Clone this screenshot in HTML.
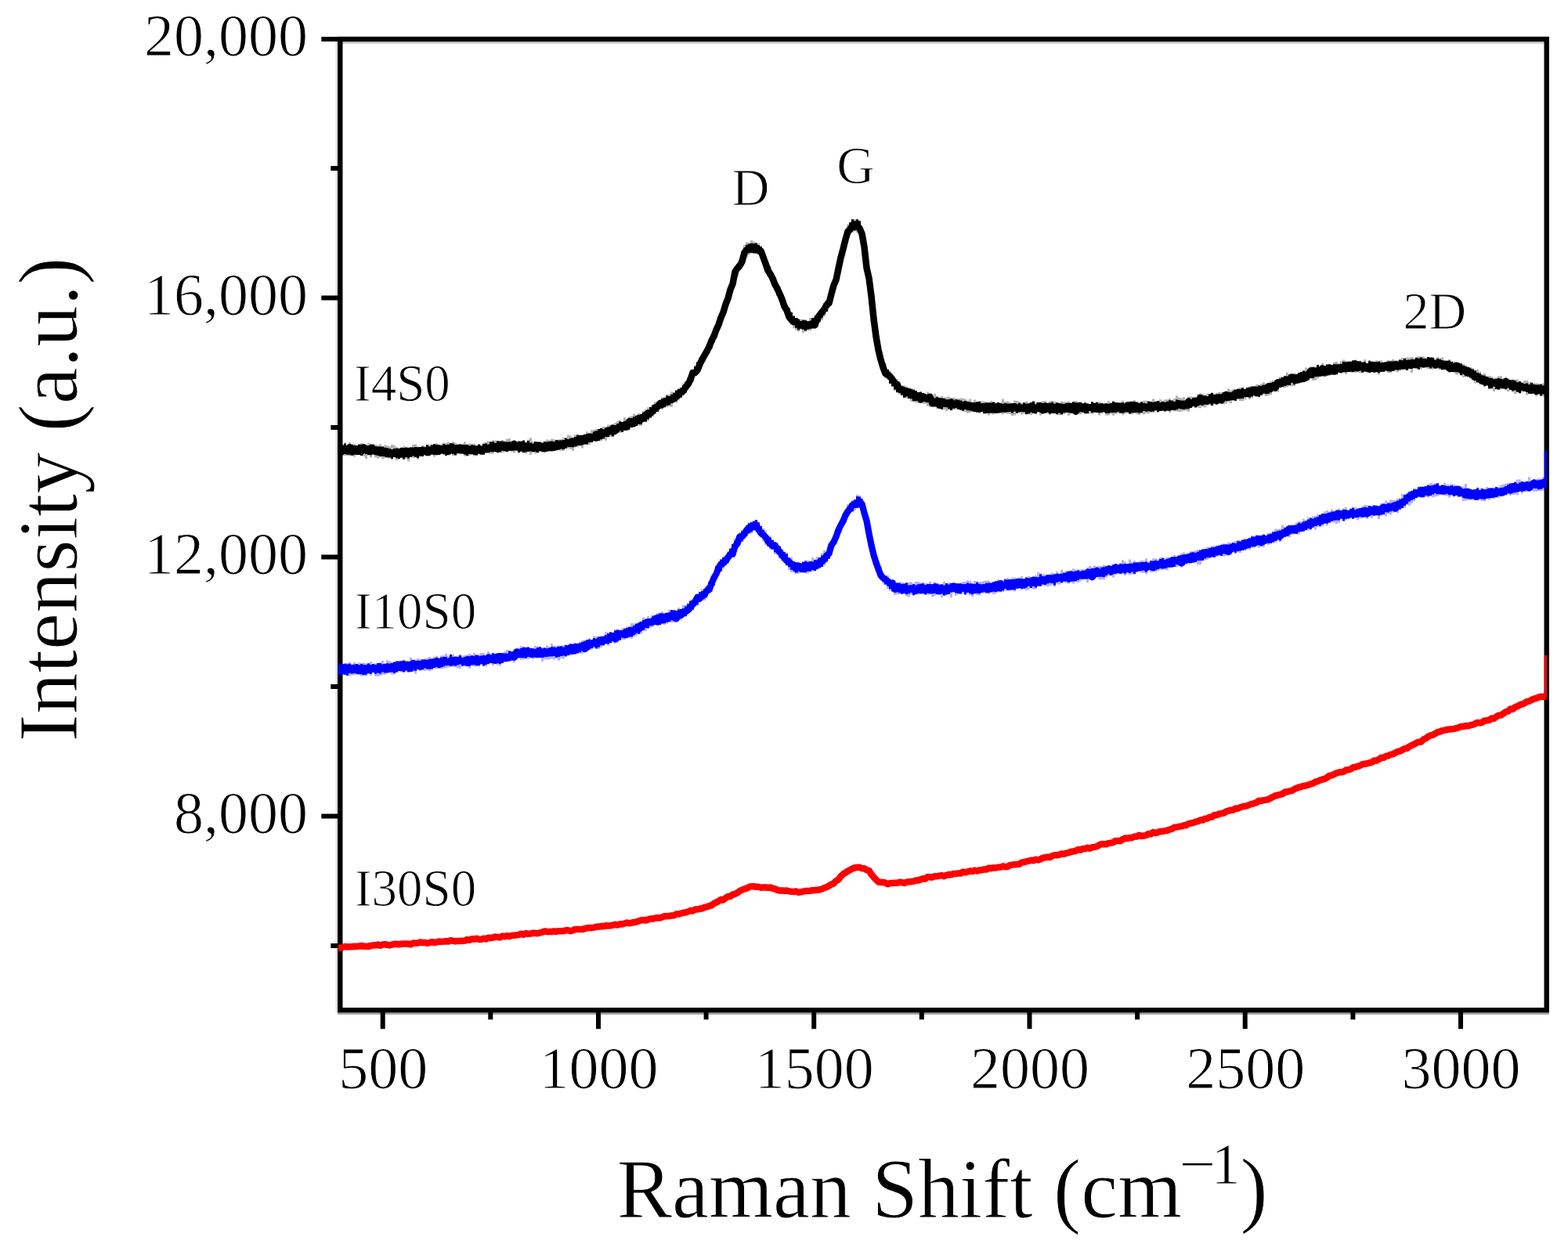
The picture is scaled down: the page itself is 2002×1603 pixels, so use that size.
<!DOCTYPE html>
<html><head><meta charset="utf-8"><title>Raman</title>
<style>
html,body{margin:0;padding:0;background:#fff;width:2002px;height:1603px;overflow:hidden;}
svg{display:block;}
text{font-family:"Liberation Serif","Times New Roman",serif;fill:#000;stroke:#fff;stroke-width:1px;}
</style></head><body>
<svg width="2002" height="1603" viewBox="0 0 2002 1603">
<rect width="2002" height="1603" fill="#fff"/>
<path d="M431.1,54.5 H1977.9" stroke="#c8c8c8" stroke-width="2.5" fill="none"/>
<path d="M429.90000000000003,46.8 V1293.5" stroke="#dcdcdc" stroke-width="2.5" fill="none"/>
<path d="M431.1,1294.8 H1977.9" stroke="#a8a8a8" stroke-width="2.5" fill="none"/>
<rect x="434.3" y="50.0" width="1540.4" height="1240.3" fill="none" stroke="#000" stroke-width="6.4"/>
<path d="M488.7,1290.3 V1314.3 M764.0,1290.3 V1314.3 M1039.2,1290.3 V1314.3 M1314.5,1290.3 V1314.3 M1589.7,1290.3 V1314.3 M1865.0,1290.3 V1314.3 M626.3,1290.3 V1302.3 M901.6,1290.3 V1302.3 M1176.8,1290.3 V1302.3 M1452.1,1290.3 V1302.3 M1727.4,1290.3 V1302.3 M434.3,1042.5 H410.3 M434.3,711.5 H410.3 M434.3,380.5 H410.3 M434.3,50.0 H410.3 M434.3,1208.0 H422.3 M434.3,877.0 H422.3 M434.3,546.0 H422.3 M434.3,215.0 H422.3" stroke="#000" stroke-width="6" fill="none"/>
<defs><clipPath id="pc"><rect x="431.5" y="0" width="1543.5" height="1603"/></clipPath></defs>
<g fill="none" stroke-linejoin="round" stroke-linecap="butt" clip-path="url(#pc)">
<polygon fill="#000" fill-opacity="0.3" stroke="none" points="431.5,567.3 433.0,567.3 433.0,567.2 436.0,567.2 436.0,568.8 439.0,568.8 439.0,565.6 442.0,565.6 442.0,568.4 445.0,568.4 445.0,564.9 448.0,564.9 448.0,566.9 451.0,566.9 451.0,566.8 454.0,566.8 454.0,568.7 457.0,568.7 457.0,567.0 460.0,567.0 460.0,566.1 463.0,566.1 463.0,568.9 466.0,568.9 466.0,569.2 469.0,569.2 469.0,565.9 472.0,565.9 472.0,568.0 475.0,568.0 475.0,566.8 478.0,566.8 478.0,568.1 481.0,568.1 481.0,568.8 484.0,568.8 484.0,567.2 487.0,567.2 487.0,569.7 490.0,569.7 490.0,568.6 493.0,568.6 493.0,569.2 496.0,569.2 496.0,570.2 499.0,570.2 499.0,568.1 502.0,568.1 502.0,568.8 505.0,568.8 505.0,571.2 508.0,571.2 508.0,571.7 511.0,571.7 511.0,571.9 514.0,571.9 514.0,569.9 517.0,569.9 517.0,571.4 520.0,571.4 520.0,572.5 523.0,572.5 523.0,571.8 526.0,571.8 526.0,568.1 529.0,568.1 529.0,567.4 532.0,567.4 532.0,570.2 535.0,570.2 535.0,571.0 538.0,571.0 538.0,568.9 541.0,568.9 541.0,569.8 544.0,569.8 544.0,568.3 547.0,568.3 547.0,567.8 550.0,567.8 550.0,567.5 553.0,567.5 553.0,567.1 556.0,567.1 556.0,565.9 559.0,565.9 559.0,569.0 562.0,569.0 562.0,567.6 565.0,567.6 565.0,565.4 568.0,565.4 568.0,565.8 571.0,565.8 571.0,564.6 574.0,564.6 574.0,566.7 577.0,566.7 577.0,564.0 580.0,564.0 580.0,565.5 583.0,565.5 583.0,567.0 586.0,567.0 586.0,566.7 589.0,566.7 589.0,566.7 592.0,566.7 592.0,564.4 595.0,564.4 595.0,567.3 598.0,567.3 598.0,566.4 601.0,566.4 601.0,568.8 604.0,568.8 604.0,566.8 607.0,566.8 607.0,569.7 610.0,569.7 610.0,567.9 613.0,567.9 613.0,567.9 616.0,567.9 616.0,565.5 619.0,565.5 619.0,564.5 622.0,564.5 622.0,563.6 625.0,563.6 625.0,564.8 628.0,564.8 628.0,562.3 631.0,562.3 631.0,562.6 634.0,562.6 634.0,564.3 637.0,564.3 637.0,563.3 640.0,563.3 640.0,562.1 643.0,562.1 643.0,562.8 646.0,562.8 646.0,560.4 649.0,560.4 649.0,560.3 652.0,560.3 652.0,563.0 655.0,563.0 655.0,566.3 658.0,566.3 658.0,565.4 661.0,565.4 661.0,566.2 664.0,566.2 664.0,563.5 667.0,563.5 667.0,562.1 670.0,562.1 670.0,564.5 673.0,564.5 673.0,561.4 676.0,561.4 676.0,559.2 679.0,559.2 679.0,563.9 682.0,563.9 682.0,564.8 685.0,564.8 685.0,564.4 688.0,564.4 688.0,565.6 691.0,565.6 691.0,564.4 694.0,564.4 694.0,563.7 697.0,563.7 697.0,561.4 700.0,561.4 700.0,562.4 703.0,562.4 703.0,560.5 706.0,560.5 706.0,561.2 709.0,561.2 709.0,564.0 712.0,564.0 712.0,561.2 715.0,561.2 715.0,560.9 718.0,560.9 718.0,558.8 721.0,558.8 721.0,562.7 724.0,562.7 724.0,555.6 727.0,555.6 727.0,556.4 730.0,556.4 730.0,558.4 733.0,558.4 733.0,555.3 736.0,555.3 736.0,554.5 739.0,554.5 739.0,555.6 742.0,555.6 742.0,555.2 745.0,555.2 745.0,554.3 748.0,554.3 748.0,551.3 751.0,551.3 751.0,552.8 754.0,552.8 754.0,549.2 757.0,549.2 757.0,548.7 760.0,548.7 760.0,547.7 763.0,547.7 763.0,548.6 766.0,548.6 766.0,546.7 769.0,546.7 769.0,544.9 772.0,544.9 772.0,545.2 775.0,545.2 775.0,542.7 778.0,542.7 778.0,542.3 781.0,542.3 781.0,541.4 784.0,541.4 784.0,539.9 787.0,539.9 787.0,538.1 790.0,538.1 790.0,536.6 793.0,536.6 793.0,538.7 796.0,538.7 796.0,533.0 799.0,533.0 799.0,535.1 802.0,535.1 802.0,532.3 805.0,532.3 805.0,531.3 808.0,531.3 808.0,528.5 811.0,528.5 811.0,529.8 814.0,529.8 814.0,527.7 817.0,527.7 817.0,528.6 820.0,528.6 820.0,524.8 823.0,524.8 823.0,522.4 826.0,522.4 826.0,520.2 829.0,520.2 829.0,520.6 832.0,520.6 832.0,517.2 835.0,517.2 835.0,513.2 838.0,513.2 838.0,513.7 841.0,513.7 841.0,509.9 844.0,509.9 844.0,507.6 847.0,507.6 847.0,507.4 850.0,507.4 850.0,503.7 853.0,503.7 853.0,503.8 856.0,503.8 856.0,500.3 859.0,500.3 859.0,500.9 862.0,500.9 862.0,499.0 865.0,499.0 865.0,495.8 868.0,495.8 868.0,495.0 871.0,495.0 871.0,489.4 874.0,489.4 874.0,487.3 877.0,487.3 877.0,482.1 880.0,482.1 880.0,476.0 883.0,476.0 883.0,473.3 886.0,473.3 886.0,469.2 889.0,469.2 889.0,466.1 892.0,466.1 892.0,457.0 895.0,457.0 895.0,452.5 898.0,452.5 898.0,448.9 901.0,448.9 901.0,439.7 904.0,439.7 904.0,437.5 907.0,437.5 907.0,426.9 910.0,426.9 910.0,421.0 913.0,421.0 913.0,415.0 916.0,415.0 916.0,406.3 919.0,406.3 919.0,399.8 922.0,399.8 922.0,388.8 925.0,388.8 925.0,381.3 928.0,381.3 928.0,371.2 931.0,371.2 931.0,362.1 934.0,362.1 934.0,352.4 937.0,352.4 937.0,343.9 940.0,343.9 940.0,336.6 943.0,336.6 943.0,331.0 946.0,331.0 946.0,322.5 949.0,322.5 949.0,313.1 952.0,313.1 952.0,309.2 955.0,309.2 955.0,309.9 958.0,309.9 958.0,307.0 961.0,307.0 961.0,308.2 964.0,308.2 964.0,310.2 967.0,310.2 967.0,310.7 970.0,310.7 970.0,313.9 973.0,313.9 973.0,319.1 976.0,319.1 976.0,328.4 979.0,328.4 979.0,337.9 982.0,337.9 982.0,340.1 985.0,340.1 985.0,348.5 988.0,348.5 988.0,356.2 991.0,356.2 991.0,361.1 994.0,361.1 994.0,366.4 997.0,366.4 997.0,374.8 1000.0,374.8 1000.0,382.5 1003.0,382.5 1003.0,389.6 1006.0,389.6 1006.0,392.0 1009.0,392.0 1009.0,398.0 1012.0,398.0 1012.0,403.0 1015.0,403.0 1015.0,405.9 1018.0,405.9 1018.0,407.2 1021.0,407.2 1021.0,407.7 1024.0,407.7 1024.0,408.5 1027.0,408.5 1027.0,408.0 1030.0,408.0 1030.0,410.9 1033.0,410.9 1033.0,406.0 1036.0,406.0 1036.0,405.7 1039.0,405.7 1039.0,402.6 1042.0,402.6 1042.0,402.3 1045.0,402.3 1045.0,397.9 1048.0,397.9 1048.0,393.3 1051.0,393.3 1051.0,387.2 1054.0,387.2 1054.0,386.1 1057.0,386.1 1057.0,377.1 1060.0,377.1 1060.0,369.5 1063.0,369.5 1063.0,357.0 1066.0,357.0 1066.0,348.6 1069.0,348.6 1069.0,337.2 1072.0,337.2 1072.0,325.8 1075.0,325.8 1075.0,309.9 1078.0,309.9 1078.0,298.8 1081.0,298.8 1081.0,286.6 1084.0,286.6 1084.0,282.8 1087.0,282.8 1087.0,280.1 1090.0,280.1 1090.0,279.9 1093.0,279.9 1093.0,280.1 1096.0,280.1 1096.0,281.0 1099.0,281.0 1099.0,292.6 1102.0,292.6 1102.0,309.0 1105.0,309.0 1105.0,331.6 1108.0,331.6 1108.0,349.6 1111.0,349.6 1111.0,370.5 1114.0,370.5 1114.0,400.8 1117.0,400.8 1117.0,419.1 1120.0,419.1 1120.0,438.2 1123.0,438.2 1123.0,453.0 1126.0,453.0 1126.0,459.9 1129.0,459.9 1129.0,463.8 1132.0,463.8 1132.0,472.6 1135.0,472.6 1135.0,473.4 1138.0,473.4 1138.0,481.1 1141.0,481.1 1141.0,482.9 1144.0,482.9 1144.0,484.3 1147.0,484.3 1147.0,487.6 1150.0,487.6 1150.0,492.7 1153.0,492.7 1153.0,492.4 1156.0,492.4 1156.0,493.5 1159.0,493.5 1159.0,495.1 1162.0,495.1 1162.0,495.9 1165.0,495.9 1165.0,496.3 1168.0,496.3 1168.0,499.1 1171.0,499.1 1171.0,501.2 1174.0,501.2 1174.0,500.1 1177.0,500.1 1177.0,503.0 1180.0,503.0 1180.0,503.2 1183.0,503.2 1183.0,500.5 1186.0,500.5 1186.0,504.6 1189.0,504.6 1189.0,506.5 1192.0,506.5 1192.0,502.8 1195.0,502.8 1195.0,505.5 1198.0,505.5 1198.0,507.5 1201.0,507.5 1201.0,506.0 1204.0,506.0 1204.0,507.5 1207.0,507.5 1207.0,507.3 1210.0,507.3 1210.0,506.6 1213.0,506.6 1213.0,508.0 1216.0,508.0 1216.0,507.9 1219.0,507.9 1219.0,508.8 1222.0,508.8 1222.0,509.2 1225.0,509.2 1225.0,508.6 1228.0,508.6 1228.0,508.8 1231.0,508.8 1231.0,509.5 1234.0,509.5 1234.0,511.4 1237.0,511.4 1237.0,509.6 1240.0,509.6 1240.0,513.3 1243.0,513.3 1243.0,510.5 1246.0,510.5 1246.0,514.8 1249.0,514.8 1249.0,512.2 1252.0,512.2 1252.0,512.2 1255.0,512.2 1255.0,512.4 1258.0,512.4 1258.0,513.9 1261.0,513.9 1261.0,513.5 1264.0,513.5 1264.0,512.0 1267.0,512.0 1267.0,513.5 1270.0,513.5 1270.0,513.9 1273.0,513.9 1273.0,513.5 1276.0,513.5 1276.0,515.1 1279.0,515.1 1279.0,509.8 1282.0,509.8 1282.0,513.0 1285.0,513.0 1285.0,512.4 1288.0,512.4 1288.0,513.9 1291.0,513.9 1291.0,516.0 1294.0,516.0 1294.0,511.4 1297.0,511.4 1297.0,512.1 1300.0,512.1 1300.0,513.0 1303.0,513.0 1303.0,514.7 1306.0,514.7 1306.0,514.8 1309.0,514.8 1309.0,512.4 1312.0,512.4 1312.0,514.6 1315.0,514.6 1315.0,513.3 1318.0,513.3 1318.0,514.8 1321.0,514.8 1321.0,513.5 1324.0,513.5 1324.0,514.2 1327.0,514.2 1327.0,513.4 1330.0,513.4 1330.0,512.2 1333.0,512.2 1333.0,512.1 1336.0,512.1 1336.0,514.1 1339.0,514.1 1339.0,512.4 1342.0,512.4 1342.0,512.0 1345.0,512.0 1345.0,513.1 1348.0,513.1 1348.0,514.1 1351.0,514.1 1351.0,514.3 1354.0,514.3 1354.0,512.4 1357.0,512.4 1357.0,513.2 1360.0,513.2 1360.0,514.2 1363.0,514.2 1363.0,512.5 1366.0,512.5 1366.0,514.8 1369.0,514.8 1369.0,513.6 1372.0,513.6 1372.0,512.0 1375.0,512.0 1375.0,514.3 1378.0,514.3 1378.0,513.0 1381.0,513.0 1381.0,515.6 1384.0,515.6 1384.0,513.2 1387.0,513.2 1387.0,515.5 1390.0,515.5 1390.0,516.6 1393.0,516.6 1393.0,514.2 1396.0,514.2 1396.0,514.2 1399.0,514.2 1399.0,512.9 1402.0,512.9 1402.0,513.6 1405.0,513.6 1405.0,514.6 1408.0,514.6 1408.0,516.3 1411.0,516.3 1411.0,515.2 1414.0,515.2 1414.0,512.3 1417.0,512.3 1417.0,515.3 1420.0,515.3 1420.0,512.5 1423.0,512.5 1423.0,516.0 1426.0,516.0 1426.0,515.1 1429.0,515.1 1429.0,514.2 1432.0,514.2 1432.0,511.7 1435.0,511.7 1435.0,514.3 1438.0,514.3 1438.0,512.5 1441.0,512.5 1441.0,512.4 1444.0,512.4 1444.0,513.2 1447.0,513.2 1447.0,511.0 1450.0,511.0 1450.0,513.3 1453.0,513.3 1453.0,513.5 1456.0,513.5 1456.0,514.1 1459.0,514.1 1459.0,511.8 1462.0,511.8 1462.0,511.8 1465.0,511.8 1465.0,514.2 1468.0,514.2 1468.0,513.8 1471.0,513.8 1471.0,509.5 1474.0,509.5 1474.0,512.5 1477.0,512.5 1477.0,512.9 1480.0,512.9 1480.0,510.3 1483.0,510.3 1483.0,512.5 1486.0,512.5 1486.0,510.6 1489.0,510.6 1489.0,510.3 1492.0,510.3 1492.0,508.9 1495.0,508.9 1495.0,512.4 1498.0,512.4 1498.0,508.9 1501.0,508.9 1501.0,505.5 1504.0,505.5 1504.0,507.7 1507.0,507.7 1507.0,508.4 1510.0,508.4 1510.0,507.2 1513.0,507.2 1513.0,510.7 1516.0,510.7 1516.0,506.6 1519.0,506.6 1519.0,506.6 1522.0,506.6 1522.0,506.7 1525.0,506.7 1525.0,506.8 1528.0,506.8 1528.0,503.3 1531.0,503.3 1531.0,502.2 1534.0,502.2 1534.0,502.9 1537.0,502.9 1537.0,504.5 1540.0,504.5 1540.0,502.8 1543.0,502.8 1543.0,503.6 1546.0,503.6 1546.0,501.2 1549.0,501.2 1549.0,503.2 1552.0,503.2 1552.0,501.8 1555.0,501.8 1555.0,500.9 1558.0,500.9 1558.0,501.1 1561.0,501.1 1561.0,500.3 1564.0,500.3 1564.0,499.6 1567.0,499.6 1567.0,496.6 1570.0,496.6 1570.0,498.5 1573.0,498.5 1573.0,497.3 1576.0,497.3 1576.0,497.5 1579.0,497.5 1579.0,496.6 1582.0,496.6 1582.0,495.1 1585.0,495.1 1585.0,495.7 1588.0,495.7 1588.0,496.6 1591.0,496.6 1591.0,494.7 1594.0,494.7 1594.0,493.5 1597.0,493.5 1597.0,493.1 1600.0,493.1 1600.0,493.9 1603.0,493.9 1603.0,491.0 1606.0,491.0 1606.0,491.4 1609.0,491.4 1609.0,490.3 1612.0,490.3 1612.0,488.2 1615.0,488.2 1615.0,490.6 1618.0,490.6 1618.0,490.0 1621.0,490.0 1621.0,487.1 1624.0,487.1 1624.0,485.9 1627.0,485.9 1627.0,485.3 1630.0,485.3 1630.0,485.3 1633.0,485.3 1633.0,481.2 1636.0,481.2 1636.0,482.8 1639.0,482.8 1639.0,481.2 1642.0,481.2 1642.0,476.0 1645.0,476.0 1645.0,477.8 1648.0,477.8 1648.0,478.1 1651.0,478.1 1651.0,476.4 1654.0,476.4 1654.0,477.5 1657.0,477.5 1657.0,475.7 1660.0,475.7 1660.0,474.9 1663.0,474.9 1663.0,472.7 1666.0,472.7 1666.0,469.4 1669.0,469.4 1669.0,471.2 1672.0,471.2 1672.0,468.2 1675.0,468.2 1675.0,470.0 1678.0,470.0 1678.0,468.4 1681.0,468.4 1681.0,471.5 1684.0,471.5 1684.0,467.4 1687.0,467.4 1687.0,463.8 1690.0,463.8 1690.0,468.9 1693.0,468.9 1693.0,466.0 1696.0,466.0 1696.0,466.4 1699.0,466.4 1699.0,466.2 1702.0,466.2 1702.0,462.5 1705.0,462.5 1705.0,462.0 1708.0,462.0 1708.0,464.1 1711.0,464.1 1711.0,461.1 1714.0,461.1 1714.0,459.6 1717.0,459.6 1717.0,460.8 1720.0,460.8 1720.0,461.1 1723.0,461.1 1723.0,461.9 1726.0,461.9 1726.0,460.0 1729.0,460.0 1729.0,459.5 1732.0,459.5 1732.0,461.0 1735.0,461.0 1735.0,460.7 1738.0,460.7 1738.0,461.8 1741.0,461.8 1741.0,459.2 1744.0,459.2 1744.0,464.0 1747.0,464.0 1747.0,459.7 1750.0,459.7 1750.0,462.9 1753.0,462.9 1753.0,462.7 1756.0,462.7 1756.0,460.2 1759.0,460.2 1759.0,461.1 1762.0,461.1 1762.0,460.3 1765.0,460.3 1765.0,461.7 1768.0,461.7 1768.0,461.9 1771.0,461.9 1771.0,460.3 1774.0,460.3 1774.0,460.4 1777.0,460.4 1777.0,458.8 1780.0,458.8 1780.0,460.4 1783.0,460.4 1783.0,460.0 1786.0,460.0 1786.0,458.4 1789.0,458.4 1789.0,457.1 1792.0,457.1 1792.0,459.6 1795.0,459.6 1795.0,456.5 1798.0,456.5 1798.0,456.8 1801.0,456.8 1801.0,456.1 1804.0,456.1 1804.0,457.3 1807.0,457.3 1807.0,456.6 1810.0,456.6 1810.0,454.7 1813.0,454.7 1813.0,455.6 1816.0,455.6 1816.0,455.2 1819.0,455.2 1819.0,457.2 1822.0,457.2 1822.0,459.1 1825.0,459.1 1825.0,458.0 1828.0,458.0 1828.0,458.1 1831.0,458.1 1831.0,458.3 1834.0,458.3 1834.0,456.0 1837.0,456.0 1837.0,456.9 1840.0,456.9 1840.0,456.5 1843.0,456.5 1843.0,460.4 1846.0,460.4 1846.0,460.0 1849.0,460.0 1849.0,459.1 1852.0,459.1 1852.0,461.8 1855.0,461.8 1855.0,461.7 1858.0,461.7 1858.0,463.8 1861.0,463.8 1861.0,463.0 1864.0,463.0 1864.0,463.4 1867.0,463.4 1867.0,465.3 1870.0,465.3 1870.0,466.4 1873.0,466.4 1873.0,469.2 1876.0,469.2 1876.0,469.0 1879.0,469.0 1879.0,470.2 1882.0,470.2 1882.0,472.5 1885.0,472.5 1885.0,472.0 1888.0,472.0 1888.0,474.5 1891.0,474.5 1891.0,477.8 1894.0,477.8 1894.0,477.1 1897.0,477.1 1897.0,481.2 1900.0,481.2 1900.0,479.9 1903.0,479.9 1903.0,481.0 1906.0,481.0 1906.0,482.5 1909.0,482.5 1909.0,482.2 1912.0,482.2 1912.0,480.5 1915.0,480.5 1915.0,480.3 1918.0,480.3 1918.0,483.1 1921.0,483.1 1921.0,481.7 1924.0,481.7 1924.0,483.1 1927.0,483.1 1927.0,485.0 1930.0,485.0 1930.0,484.5 1933.0,484.5 1933.0,484.7 1936.0,484.7 1936.0,484.5 1939.0,484.5 1939.0,486.8 1942.0,486.8 1942.0,490.4 1945.0,490.4 1945.0,486.3 1948.0,486.3 1948.0,486.1 1951.0,486.1 1951.0,488.0 1954.0,488.0 1954.0,490.6 1957.0,490.6 1957.0,488.9 1960.0,488.9 1960.0,489.5 1963.0,489.5 1963.0,490.0 1966.0,490.0 1966.0,490.7 1969.0,490.7 1969.0,489.5 1972.0,489.5 1972.0,489.5 1975.0,489.5 1973.5,491.3 1975.0,491.3 1975.0,505.8 1973.5,505.8 1975.0,508.8 1972.0,508.8 1972.0,506.3 1969.0,506.3 1969.0,505.6 1966.0,505.6 1966.0,504.5 1963.0,504.5 1963.0,505.9 1960.0,505.9 1960.0,502.0 1957.0,502.0 1957.0,502.7 1954.0,502.7 1954.0,503.3 1951.0,503.3 1951.0,504.6 1948.0,504.6 1948.0,500.0 1945.0,500.0 1945.0,500.9 1942.0,500.9 1942.0,499.4 1939.0,499.4 1939.0,499.4 1936.0,499.4 1936.0,503.0 1933.0,503.0 1933.0,500.7 1930.0,500.7 1930.0,497.6 1927.0,497.6 1927.0,500.2 1924.0,500.2 1924.0,498.5 1921.0,498.5 1921.0,496.9 1918.0,496.9 1918.0,497.4 1915.0,497.4 1915.0,498.3 1912.0,498.3 1912.0,497.5 1909.0,497.5 1909.0,499.9 1906.0,499.9 1906.0,497.4 1903.0,497.4 1903.0,497.2 1900.0,497.2 1900.0,492.1 1897.0,492.1 1897.0,494.5 1894.0,494.5 1894.0,490.2 1891.0,490.2 1891.0,491.3 1888.0,491.3 1888.0,488.9 1885.0,488.9 1885.0,489.5 1882.0,489.5 1882.0,486.0 1879.0,486.0 1879.0,483.5 1876.0,483.5 1876.0,480.7 1873.0,480.7 1873.0,480.8 1870.0,480.8 1870.0,481.9 1867.0,481.9 1867.0,478.4 1864.0,478.4 1864.0,477.8 1861.0,477.8 1861.0,478.5 1858.0,478.5 1858.0,476.3 1855.0,476.3 1855.0,475.3 1852.0,475.3 1852.0,476.2 1849.0,476.2 1849.0,473.2 1846.0,473.2 1846.0,472.1 1843.0,472.1 1843.0,472.7 1840.0,472.7 1840.0,472.6 1837.0,472.6 1837.0,471.3 1834.0,471.3 1834.0,471.2 1831.0,471.2 1831.0,471.7 1828.0,471.7 1828.0,471.6 1825.0,471.6 1825.0,471.2 1822.0,471.2 1822.0,470.2 1819.0,470.2 1819.0,469.8 1816.0,469.8 1816.0,471.6 1813.0,471.6 1813.0,471.8 1810.0,471.8 1810.0,471.5 1807.0,471.5 1807.0,470.7 1804.0,470.7 1804.0,475.9 1801.0,475.9 1801.0,471.3 1798.0,471.3 1798.0,473.0 1795.0,473.0 1795.0,472.2 1792.0,472.2 1792.0,471.1 1789.0,471.1 1789.0,473.9 1786.0,473.9 1786.0,475.4 1783.0,475.4 1783.0,473.4 1780.0,473.4 1780.0,474.3 1777.0,474.3 1777.0,476.4 1774.0,476.4 1774.0,476.3 1771.0,476.3 1771.0,474.4 1768.0,474.4 1768.0,475.1 1765.0,475.1 1765.0,473.8 1762.0,473.8 1762.0,478.6 1759.0,478.6 1759.0,476.5 1756.0,476.5 1756.0,476.2 1753.0,476.2 1753.0,475.8 1750.0,475.8 1750.0,474.9 1747.0,474.9 1747.0,475.5 1744.0,475.5 1744.0,475.6 1741.0,475.6 1741.0,475.3 1738.0,475.3 1738.0,476.7 1735.0,476.7 1735.0,475.0 1732.0,475.0 1732.0,476.3 1729.0,476.3 1729.0,475.9 1726.0,475.9 1726.0,475.6 1723.0,475.6 1723.0,474.5 1720.0,474.5 1720.0,478.0 1717.0,478.0 1717.0,475.3 1714.0,475.3 1714.0,476.1 1711.0,476.1 1711.0,476.6 1708.0,476.6 1708.0,477.6 1705.0,477.6 1705.0,478.9 1702.0,478.9 1702.0,478.5 1699.0,478.5 1699.0,480.1 1696.0,480.1 1696.0,480.5 1693.0,480.5 1693.0,481.4 1690.0,481.4 1690.0,480.8 1687.0,480.8 1687.0,481.4 1684.0,481.4 1684.0,483.3 1681.0,483.3 1681.0,485.8 1678.0,485.8 1678.0,486.1 1675.0,486.1 1675.0,483.4 1672.0,483.4 1672.0,486.6 1669.0,486.6 1669.0,487.1 1666.0,487.1 1666.0,488.3 1663.0,488.3 1663.0,488.4 1660.0,488.4 1660.0,487.9 1657.0,487.9 1657.0,489.3 1654.0,489.3 1654.0,493.1 1651.0,493.1 1651.0,493.2 1648.0,493.2 1648.0,491.2 1645.0,491.2 1645.0,494.5 1642.0,494.5 1642.0,495.4 1639.0,495.4 1639.0,494.4 1636.0,494.4 1636.0,496.1 1633.0,496.1 1633.0,500.8 1630.0,500.8 1630.0,500.2 1627.0,500.2 1627.0,500.5 1624.0,500.5 1624.0,504.3 1621.0,504.3 1621.0,504.9 1618.0,504.9 1618.0,506.1 1615.0,506.1 1615.0,504.3 1612.0,504.3 1612.0,504.8 1609.0,504.8 1609.0,507.2 1606.0,507.2 1606.0,505.8 1603.0,505.8 1603.0,506.5 1600.0,506.5 1600.0,508.3 1597.0,508.3 1597.0,509.9 1594.0,509.9 1594.0,508.1 1591.0,508.1 1591.0,510.5 1588.0,510.5 1588.0,512.2 1585.0,512.2 1585.0,511.9 1582.0,511.9 1582.0,508.0 1579.0,508.0 1579.0,512.5 1576.0,512.5 1576.0,512.1 1573.0,512.1 1573.0,515.3 1570.0,515.3 1570.0,513.6 1567.0,513.6 1567.0,515.5 1564.0,515.5 1564.0,516.2 1561.0,516.2 1561.0,515.0 1558.0,515.0 1558.0,515.6 1555.0,515.6 1555.0,517.6 1552.0,517.6 1552.0,516.6 1549.0,516.6 1549.0,518.3 1546.0,518.3 1546.0,517.2 1543.0,517.2 1543.0,515.8 1540.0,515.8 1540.0,520.5 1537.0,520.5 1537.0,519.6 1534.0,519.6 1534.0,521.3 1531.0,521.3 1531.0,520.8 1528.0,520.8 1528.0,521.3 1525.0,521.3 1525.0,519.8 1522.0,519.8 1522.0,520.7 1519.0,520.7 1519.0,525.7 1516.0,525.7 1516.0,524.5 1513.0,524.5 1513.0,524.8 1510.0,524.8 1510.0,525.4 1507.0,525.4 1507.0,526.0 1504.0,526.0 1504.0,525.6 1501.0,525.6 1501.0,525.4 1498.0,525.4 1498.0,524.0 1495.0,524.0 1495.0,527.3 1492.0,527.3 1492.0,524.9 1489.0,524.9 1489.0,525.0 1486.0,525.0 1486.0,525.1 1483.0,525.1 1483.0,521.1 1480.0,521.1 1480.0,527.0 1477.0,527.0 1477.0,525.0 1474.0,525.0 1474.0,527.0 1471.0,527.0 1471.0,527.1 1468.0,527.1 1468.0,528.5 1465.0,528.5 1465.0,527.9 1462.0,527.9 1462.0,529.6 1459.0,529.6 1459.0,528.1 1456.0,528.1 1456.0,530.0 1453.0,530.0 1453.0,528.9 1450.0,528.9 1450.0,528.1 1447.0,528.1 1447.0,529.2 1444.0,529.2 1444.0,528.8 1441.0,528.8 1441.0,527.4 1438.0,527.4 1438.0,528.5 1435.0,528.5 1435.0,530.0 1432.0,530.0 1432.0,528.0 1429.0,528.0 1429.0,527.9 1426.0,527.9 1426.0,529.1 1423.0,529.1 1423.0,530.7 1420.0,530.7 1420.0,528.8 1417.0,528.8 1417.0,530.5 1414.0,530.5 1414.0,530.5 1411.0,530.5 1411.0,527.4 1408.0,527.4 1408.0,528.3 1405.0,528.3 1405.0,530.5 1402.0,530.5 1402.0,524.6 1399.0,524.6 1399.0,527.4 1396.0,527.4 1396.0,529.0 1393.0,529.0 1393.0,528.5 1390.0,528.5 1390.0,527.6 1387.0,527.6 1387.0,529.2 1384.0,529.2 1384.0,526.8 1381.0,526.8 1381.0,529.2 1378.0,529.2 1378.0,528.8 1375.0,528.8 1375.0,528.7 1372.0,528.7 1372.0,527.9 1369.0,527.9 1369.0,527.0 1366.0,527.0 1366.0,530.8 1363.0,530.8 1363.0,527.1 1360.0,527.1 1360.0,528.9 1357.0,528.9 1357.0,528.0 1354.0,528.0 1354.0,530.2 1351.0,530.2 1351.0,529.3 1348.0,529.3 1348.0,526.4 1345.0,526.4 1345.0,528.8 1342.0,528.8 1342.0,529.7 1339.0,529.7 1339.0,528.6 1336.0,528.6 1336.0,528.0 1333.0,528.0 1333.0,528.6 1330.0,528.6 1330.0,530.5 1327.0,530.5 1327.0,525.4 1324.0,525.4 1324.0,527.1 1321.0,527.1 1321.0,525.4 1318.0,525.4 1318.0,530.1 1315.0,530.1 1315.0,529.5 1312.0,529.5 1312.0,529.2 1309.0,529.2 1309.0,528.4 1306.0,528.4 1306.0,529.6 1303.0,529.6 1303.0,526.8 1300.0,526.8 1300.0,526.0 1297.0,526.0 1297.0,530.5 1294.0,530.5 1294.0,531.3 1291.0,531.3 1291.0,528.9 1288.0,528.9 1288.0,528.5 1285.0,528.5 1285.0,527.8 1282.0,527.8 1282.0,529.3 1279.0,529.3 1279.0,527.8 1276.0,527.8 1276.0,527.0 1273.0,527.0 1273.0,528.2 1270.0,528.2 1270.0,529.6 1267.0,529.6 1267.0,528.7 1264.0,528.7 1264.0,530.5 1261.0,530.5 1261.0,528.4 1258.0,528.4 1258.0,526.7 1255.0,526.7 1255.0,525.9 1252.0,525.9 1252.0,528.3 1249.0,528.3 1249.0,526.9 1246.0,526.9 1246.0,525.9 1243.0,525.9 1243.0,526.3 1240.0,526.3 1240.0,526.9 1237.0,526.9 1237.0,527.7 1234.0,527.7 1234.0,526.3 1231.0,526.3 1231.0,525.4 1228.0,525.4 1228.0,524.5 1225.0,524.5 1225.0,520.5 1222.0,520.5 1222.0,523.0 1219.0,523.0 1219.0,523.5 1216.0,523.5 1216.0,524.3 1213.0,524.3 1213.0,522.3 1210.0,522.3 1210.0,524.9 1207.0,524.9 1207.0,523.0 1204.0,523.0 1204.0,523.8 1201.0,523.8 1201.0,522.2 1198.0,522.2 1198.0,522.0 1195.0,522.0 1195.0,520.3 1192.0,520.3 1192.0,518.6 1189.0,518.6 1189.0,519.8 1186.0,519.8 1186.0,518.7 1183.0,518.7 1183.0,516.1 1180.0,516.1 1180.0,515.5 1177.0,515.5 1177.0,515.1 1174.0,515.1 1174.0,515.0 1171.0,515.0 1171.0,514.4 1168.0,514.4 1168.0,512.4 1165.0,512.4 1165.0,512.7 1162.0,512.7 1162.0,509.3 1159.0,509.3 1159.0,508.8 1156.0,508.8 1156.0,506.0 1153.0,506.0 1153.0,505.7 1150.0,505.7 1150.0,503.7 1147.0,503.7 1147.0,501.7 1144.0,501.7 1144.0,499.1 1141.0,499.1 1141.0,493.2 1138.0,493.2 1138.0,488.2 1135.0,488.2 1135.0,484.9 1132.0,484.9 1132.0,483.2 1129.0,483.2 1129.0,475.7 1126.0,475.7 1126.0,466.1 1123.0,466.1 1123.0,455.7 1120.0,455.7 1120.0,438.4 1117.0,438.4 1117.0,416.6 1114.0,416.6 1114.0,388.4 1111.0,388.4 1111.0,365.5 1108.0,365.5 1108.0,346.6 1105.0,346.6 1105.0,326.1 1102.0,326.1 1102.0,305.9 1099.0,305.9 1099.0,297.1 1096.0,297.1 1096.0,297.2 1093.0,297.2 1093.0,295.5 1090.0,295.5 1090.0,297.0 1087.0,297.0 1087.0,298.7 1084.0,298.7 1084.0,303.4 1081.0,303.4 1081.0,311.6 1078.0,311.6 1078.0,324.6 1075.0,324.6 1075.0,338.6 1072.0,338.6 1072.0,353.1 1069.0,353.1 1069.0,364.0 1066.0,364.0 1066.0,373.2 1063.0,373.2 1063.0,386.4 1060.0,386.4 1060.0,393.5 1057.0,393.5 1057.0,396.3 1054.0,396.3 1054.0,404.3 1051.0,404.3 1051.0,409.0 1048.0,409.0 1048.0,412.3 1045.0,412.3 1045.0,417.1 1042.0,417.1 1042.0,418.9 1039.0,418.9 1039.0,420.2 1036.0,420.2 1036.0,422.2 1033.0,422.2 1033.0,422.1 1030.0,422.1 1030.0,423.4 1027.0,423.4 1027.0,425.1 1024.0,425.1 1024.0,421.0 1021.0,421.0 1021.0,423.4 1018.0,423.4 1018.0,421.8 1015.0,421.8 1015.0,419.2 1012.0,419.2 1012.0,415.0 1009.0,415.0 1009.0,407.5 1006.0,407.5 1006.0,401.4 1003.0,401.4 1003.0,396.7 1000.0,396.7 1000.0,389.0 997.0,389.0 997.0,384.7 994.0,384.7 994.0,375.8 991.0,375.8 991.0,370.8 988.0,370.8 988.0,364.4 985.0,364.4 985.0,358.1 982.0,358.1 982.0,353.2 979.0,353.2 979.0,346.2 976.0,346.2 976.0,336.3 973.0,336.3 973.0,330.1 970.0,330.1 970.0,324.9 967.0,324.9 967.0,323.3 964.0,323.3 964.0,323.5 961.0,323.5 961.0,323.4 958.0,323.4 958.0,325.6 955.0,325.6 955.0,328.4 952.0,328.4 952.0,333.5 949.0,333.5 949.0,337.9 946.0,337.9 946.0,345.2 943.0,345.2 943.0,353.8 940.0,353.8 940.0,358.6 937.0,358.6 937.0,363.7 934.0,363.7 934.0,375.8 931.0,375.8 931.0,389.7 928.0,389.7 928.0,396.5 925.0,396.5 925.0,407.4 922.0,407.4 922.0,411.6 919.0,411.6 919.0,422.5 916.0,422.5 916.0,431.5 913.0,431.5 913.0,437.3 910.0,437.3 910.0,444.9 907.0,444.9 907.0,451.4 904.0,451.4 904.0,455.1 901.0,455.1 901.0,460.3 898.0,460.3 898.0,466.7 895.0,466.7 895.0,472.0 892.0,472.0 892.0,477.8 889.0,477.8 889.0,480.7 886.0,480.7 886.0,488.0 883.0,488.0 883.0,493.2 880.0,493.2 880.0,494.4 877.0,494.4 877.0,499.6 874.0,499.6 874.0,504.0 871.0,504.0 871.0,507.7 868.0,507.7 868.0,511.2 865.0,511.2 865.0,514.5 862.0,514.5 862.0,514.6 859.0,514.6 859.0,519.7 856.0,519.7 856.0,519.3 853.0,519.3 853.0,520.3 850.0,520.3 850.0,520.9 847.0,520.9 847.0,523.0 844.0,523.0 844.0,521.5 841.0,521.5 841.0,525.5 838.0,525.5 838.0,529.3 835.0,529.3 835.0,532.3 832.0,532.3 832.0,533.6 829.0,533.6 829.0,537.8 826.0,537.8 826.0,539.6 823.0,539.6 823.0,538.7 820.0,538.7 820.0,543.8 817.0,543.8 817.0,543.8 814.0,543.8 814.0,543.3 811.0,543.3 811.0,544.2 808.0,544.2 808.0,545.5 805.0,545.5 805.0,549.6 802.0,549.6 802.0,548.1 799.0,548.1 799.0,550.6 796.0,550.6 796.0,550.0 793.0,550.0 793.0,553.0 790.0,553.0 790.0,553.8 787.0,553.8 787.0,554.0 784.0,554.0 784.0,556.4 781.0,556.4 781.0,558.3 778.0,558.3 778.0,558.0 775.0,558.0 775.0,562.7 772.0,562.7 772.0,560.0 769.0,560.0 769.0,563.2 766.0,563.2 766.0,563.1 763.0,563.1 763.0,562.2 760.0,562.2 760.0,562.9 757.0,562.9 757.0,563.9 754.0,563.9 754.0,567.9 751.0,567.9 751.0,568.2 748.0,568.2 748.0,567.7 745.0,567.7 745.0,572.4 742.0,572.4 742.0,569.0 739.0,569.0 739.0,570.9 736.0,570.9 736.0,571.4 733.0,571.4 733.0,575.7 730.0,575.7 730.0,573.7 727.0,573.7 727.0,572.8 724.0,572.8 724.0,571.6 721.0,571.6 721.0,576.1 718.0,576.1 718.0,576.0 715.0,576.0 715.0,575.1 712.0,575.1 712.0,576.1 709.0,576.1 709.0,574.6 706.0,574.6 706.0,576.7 703.0,576.7 703.0,575.5 700.0,575.5 700.0,576.3 697.0,576.3 697.0,578.2 694.0,578.2 694.0,577.0 691.0,577.0 691.0,576.7 688.0,576.7 688.0,579.1 685.0,579.1 685.0,579.5 682.0,579.5 682.0,577.4 679.0,577.4 679.0,580.9 676.0,580.9 676.0,577.4 673.0,577.4 673.0,579.5 670.0,579.5 670.0,578.1 667.0,578.1 667.0,576.6 664.0,576.6 664.0,576.9 661.0,576.9 661.0,575.7 658.0,575.7 658.0,578.5 655.0,578.5 655.0,576.9 652.0,576.9 652.0,574.4 649.0,574.4 649.0,577.7 646.0,577.7 646.0,576.7 643.0,576.7 643.0,578.0 640.0,578.0 640.0,577.8 637.0,577.8 637.0,578.2 634.0,578.2 634.0,575.1 631.0,575.1 631.0,579.4 628.0,579.4 628.0,579.7 625.0,579.7 625.0,578.6 622.0,578.6 622.0,579.0 619.0,579.0 619.0,581.2 616.0,581.2 616.0,580.9 613.0,580.9 613.0,579.1 610.0,579.1 610.0,581.7 607.0,581.7 607.0,582.4 604.0,582.4 604.0,580.4 601.0,580.4 601.0,581.9 598.0,581.9 598.0,582.8 595.0,582.8 595.0,582.8 592.0,582.8 592.0,580.2 589.0,580.2 589.0,580.1 586.0,580.1 586.0,580.2 583.0,580.2 583.0,580.0 580.0,580.0 580.0,582.3 577.0,582.3 577.0,578.4 574.0,578.4 574.0,580.4 571.0,580.4 571.0,580.2 568.0,580.2 568.0,581.1 565.0,581.1 565.0,579.4 562.0,579.4 562.0,581.3 559.0,581.3 559.0,579.5 556.0,579.5 556.0,583.6 553.0,583.6 553.0,581.2 550.0,581.2 550.0,582.8 547.0,582.8 547.0,581.0 544.0,581.0 544.0,580.1 541.0,580.1 541.0,582.1 538.0,582.1 538.0,583.5 535.0,583.5 535.0,586.8 532.0,586.8 532.0,584.5 529.0,584.5 529.0,585.0 526.0,585.0 526.0,583.9 523.0,583.9 523.0,589.2 520.0,589.2 520.0,586.0 517.0,586.0 517.0,587.4 514.0,587.4 514.0,585.1 511.0,585.1 511.0,585.7 508.0,585.7 508.0,588.0 505.0,588.0 505.0,583.5 502.0,583.5 502.0,587.1 499.0,587.1 499.0,585.8 496.0,585.8 496.0,585.1 493.0,585.1 493.0,584.9 490.0,584.9 490.0,586.1 487.0,586.1 487.0,584.1 484.0,584.1 484.0,585.6 481.0,585.6 481.0,584.3 478.0,584.3 478.0,580.4 475.0,580.4 475.0,584.6 472.0,584.6 472.0,581.8 469.0,581.8 469.0,586.1 466.0,586.1 466.0,582.9 463.0,582.9 463.0,581.9 460.0,581.9 460.0,580.2 457.0,580.2 457.0,581.1 454.0,581.1 454.0,583.5 451.0,583.5 451.0,581.5 448.0,581.5 448.0,582.6 445.0,582.6 445.0,581.9 442.0,581.9 442.0,582.2 439.0,582.2 439.0,582.2 436.0,582.2 436.0,580.3 433.0,580.3 433.0,585.2 431.5,585.2"/>
<polygon fill="#000" stroke="none" points="431.5,570.6 433.0,570.6 433.0,568.7 436.0,568.7 436.0,568.6 439.0,568.6 439.0,566.6 442.0,566.6 442.0,568.9 445.0,568.9 445.0,568.6 448.0,568.6 448.0,568.3 451.0,568.3 451.0,569.0 454.0,569.0 454.0,569.1 457.0,569.1 457.0,567.7 460.0,567.7 460.0,567.8 463.0,567.8 463.0,568.1 466.0,568.1 466.0,569.1 469.0,569.1 469.0,569.0 472.0,569.0 472.0,567.5 475.0,567.5 475.0,568.0 478.0,568.0 478.0,570.1 481.0,570.1 481.0,571.4 484.0,571.4 484.0,570.6 487.0,570.6 487.0,570.6 490.0,570.6 490.0,572.7 493.0,572.7 493.0,571.9 496.0,571.9 496.0,573.1 499.0,573.1 499.0,573.9 502.0,573.9 502.0,573.0 505.0,573.0 505.0,572.5 508.0,572.5 508.0,573.0 511.0,573.0 511.0,571.7 514.0,571.7 514.0,572.0 517.0,572.0 517.0,571.5 520.0,571.5 520.0,571.7 523.0,571.7 523.0,571.3 526.0,571.3 526.0,571.5 529.0,571.5 529.0,571.1 532.0,571.1 532.0,571.3 535.0,571.3 535.0,571.0 538.0,571.0 538.0,570.8 541.0,570.8 541.0,571.3 544.0,571.3 544.0,568.2 547.0,568.2 547.0,570.3 550.0,570.3 550.0,568.5 553.0,568.5 553.0,567.3 556.0,567.3 556.0,568.0 559.0,568.0 559.0,568.1 562.0,568.1 562.0,568.9 565.0,568.9 565.0,566.9 568.0,566.9 568.0,567.9 571.0,567.9 571.0,567.8 574.0,567.8 574.0,566.1 577.0,566.1 577.0,566.5 580.0,566.5 580.0,568.1 583.0,568.1 583.0,568.1 586.0,568.1 586.0,568.5 589.0,568.5 589.0,568.0 592.0,568.0 592.0,568.0 595.0,568.0 595.0,568.0 598.0,568.0 598.0,569.3 601.0,569.3 601.0,567.8 604.0,567.8 604.0,568.7 607.0,568.7 607.0,569.3 610.0,569.3 610.0,567.5 613.0,567.5 613.0,569.6 616.0,569.6 616.0,566.9 619.0,566.9 619.0,566.6 622.0,566.6 622.0,567.7 625.0,567.7 625.0,564.2 628.0,564.2 628.0,564.1 631.0,564.1 631.0,565.8 634.0,565.8 634.0,563.3 637.0,563.3 637.0,563.8 640.0,563.8 640.0,564.6 643.0,564.6 643.0,564.5 646.0,564.5 646.0,564.5 649.0,564.5 649.0,564.3 652.0,564.3 652.0,565.2 655.0,565.2 655.0,565.0 658.0,565.0 658.0,564.7 661.0,564.7 661.0,563.6 664.0,563.6 664.0,563.7 667.0,563.7 667.0,562.7 670.0,562.7 670.0,565.2 673.0,565.2 673.0,563.0 676.0,563.0 676.0,565.6 679.0,565.6 679.0,566.5 682.0,566.5 682.0,564.0 685.0,564.0 685.0,564.4 688.0,564.4 688.0,564.6 691.0,564.6 691.0,565.7 694.0,565.7 694.0,564.0 697.0,564.0 697.0,564.4 700.0,564.4 700.0,563.7 703.0,563.7 703.0,563.5 706.0,563.5 706.0,564.5 709.0,564.5 709.0,562.1 712.0,562.1 712.0,562.5 715.0,562.5 715.0,562.2 718.0,562.2 718.0,562.1 721.0,562.1 721.0,559.5 724.0,559.5 724.0,561.0 727.0,561.0 727.0,559.7 730.0,559.7 730.0,559.4 733.0,559.4 733.0,558.0 736.0,558.0 736.0,555.8 739.0,555.8 739.0,555.9 742.0,555.9 742.0,556.5 745.0,556.5 745.0,555.0 748.0,555.0 748.0,554.1 751.0,554.1 751.0,554.9 754.0,554.9 754.0,554.4 757.0,554.4 757.0,551.6 760.0,551.6 760.0,552.4 763.0,552.4 763.0,548.0 766.0,548.0 766.0,547.0 769.0,547.0 769.0,548.6 772.0,548.6 772.0,546.6 775.0,546.6 775.0,546.2 778.0,546.2 778.0,545.0 781.0,545.0 781.0,543.3 784.0,543.3 784.0,542.9 787.0,542.9 787.0,541.2 790.0,541.2 790.0,538.5 793.0,538.5 793.0,538.9 796.0,538.9 796.0,537.7 799.0,537.7 799.0,537.9 802.0,537.9 802.0,534.0 805.0,534.0 805.0,533.9 808.0,533.9 808.0,532.3 811.0,532.3 811.0,531.3 814.0,531.3 814.0,531.6 817.0,531.6 817.0,529.0 820.0,529.0 820.0,526.7 823.0,526.7 823.0,525.6 826.0,525.6 826.0,524.2 829.0,524.2 829.0,520.0 832.0,520.0 832.0,517.8 835.0,517.8 835.0,516.7 838.0,516.7 838.0,513.7 841.0,513.7 841.0,511.1 844.0,511.1 844.0,509.2 847.0,509.2 847.0,508.1 850.0,508.1 850.0,505.5 853.0,505.5 853.0,506.1 856.0,506.1 856.0,503.8 859.0,503.8 859.0,501.8 862.0,501.8 862.0,498.6 865.0,498.6 865.0,496.9 868.0,496.9 868.0,495.5 871.0,495.5 871.0,492.2 874.0,492.2 874.0,487.7 877.0,487.7 877.0,484.3 880.0,484.3 880.0,480.1 883.0,480.1 883.0,473.3 886.0,473.3 886.0,467.9 889.0,467.9 889.0,462.6 892.0,462.6 892.0,457.4 895.0,457.4 895.0,454.1 898.0,454.1 898.0,448.6 901.0,448.6 901.0,443.0 904.0,443.0 904.0,435.9 907.0,435.9 907.0,429.9 910.0,429.9 910.0,424.2 913.0,424.2 913.0,416.5 916.0,416.5 916.0,408.5 919.0,408.5 919.0,399.4 922.0,399.4 922.0,392.5 925.0,392.5 925.0,384.7 928.0,384.7 928.0,374.7 931.0,374.7 931.0,364.9 934.0,364.9 934.0,353.2 937.0,353.2 937.0,345.0 940.0,345.0 940.0,337.4 943.0,337.4 943.0,332.9 946.0,332.9 946.0,323.7 949.0,323.7 949.0,316.5 952.0,316.5 952.0,312.8 955.0,312.8 955.0,311.6 958.0,311.6 958.0,310.8 961.0,310.8 961.0,311.0 964.0,311.0 964.0,310.5 967.0,310.5 967.0,312.9 970.0,312.9 970.0,315.3 973.0,315.3 973.0,323.3 976.0,323.3 976.0,329.9 979.0,329.9 979.0,337.6 982.0,337.6 982.0,344.0 985.0,344.0 985.0,349.1 988.0,349.1 988.0,355.3 991.0,355.3 991.0,362.3 994.0,362.3 994.0,370.2 997.0,370.2 997.0,375.3 1000.0,375.3 1000.0,382.9 1003.0,382.9 1003.0,389.7 1006.0,389.7 1006.0,394.3 1009.0,394.3 1009.0,399.3 1012.0,399.3 1012.0,403.8 1015.0,403.8 1015.0,406.9 1018.0,406.9 1018.0,408.1 1021.0,408.1 1021.0,410.1 1024.0,410.1 1024.0,408.7 1027.0,408.7 1027.0,409.3 1030.0,409.3 1030.0,410.4 1033.0,410.4 1033.0,410.0 1036.0,410.0 1036.0,406.3 1039.0,406.3 1039.0,405.9 1042.0,405.9 1042.0,404.1 1045.0,404.1 1045.0,397.9 1048.0,397.9 1048.0,394.3 1051.0,394.3 1051.0,389.3 1054.0,389.3 1054.0,383.7 1057.0,383.7 1057.0,377.0 1060.0,377.0 1060.0,370.1 1063.0,370.1 1063.0,361.7 1066.0,361.7 1066.0,351.1 1069.0,351.1 1069.0,338.1 1072.0,338.1 1072.0,323.2 1075.0,323.2 1075.0,310.6 1078.0,310.6 1078.0,298.6 1081.0,298.6 1081.0,290.7 1084.0,290.7 1084.0,284.6 1087.0,284.6 1087.0,280.0 1090.0,280.0 1090.0,282.0 1093.0,282.0 1093.0,280.3 1096.0,280.3 1096.0,282.4 1099.0,282.4 1099.0,292.7 1102.0,292.7 1102.0,311.5 1105.0,311.5 1105.0,333.6 1108.0,333.6 1108.0,348.1 1111.0,348.1 1111.0,372.9 1114.0,372.9 1114.0,402.8 1117.0,402.8 1117.0,423.7 1120.0,423.7 1120.0,441.2 1123.0,441.2 1123.0,452.1 1126.0,452.1 1126.0,462.9 1129.0,462.9 1129.0,468.7 1132.0,468.7 1132.0,471.9 1135.0,471.9 1135.0,476.2 1138.0,476.2 1138.0,480.6 1141.0,480.6 1141.0,483.9 1144.0,483.9 1144.0,488.7 1147.0,488.7 1147.0,490.3 1150.0,490.3 1150.0,493.3 1153.0,493.3 1153.0,494.8 1156.0,494.8 1156.0,495.3 1159.0,495.3 1159.0,496.3 1162.0,496.3 1162.0,496.9 1165.0,496.9 1165.0,498.1 1168.0,498.1 1168.0,499.1 1171.0,499.1 1171.0,501.0 1174.0,501.0 1174.0,500.8 1177.0,500.8 1177.0,502.5 1180.0,502.5 1180.0,503.4 1183.0,503.4 1183.0,503.8 1186.0,503.8 1186.0,505.1 1189.0,505.1 1189.0,507.6 1192.0,507.6 1192.0,508.6 1195.0,508.6 1195.0,507.2 1198.0,507.2 1198.0,508.3 1201.0,508.3 1201.0,508.5 1204.0,508.5 1204.0,508.9 1207.0,508.9 1207.0,510.8 1210.0,510.8 1210.0,510.2 1213.0,510.2 1213.0,511.0 1216.0,511.0 1216.0,511.8 1219.0,511.8 1219.0,510.2 1222.0,510.2 1222.0,510.8 1225.0,510.8 1225.0,511.4 1228.0,511.4 1228.0,512.7 1231.0,512.7 1231.0,512.0 1234.0,512.0 1234.0,513.1 1237.0,513.1 1237.0,513.9 1240.0,513.9 1240.0,514.2 1243.0,514.2 1243.0,514.0 1246.0,514.0 1246.0,513.2 1249.0,513.2 1249.0,512.9 1252.0,512.9 1252.0,515.7 1255.0,515.7 1255.0,515.3 1258.0,515.3 1258.0,514.2 1261.0,514.2 1261.0,514.5 1264.0,514.5 1264.0,514.6 1267.0,514.6 1267.0,513.5 1270.0,513.5 1270.0,515.2 1273.0,515.2 1273.0,514.3 1276.0,514.3 1276.0,514.7 1279.0,514.7 1279.0,515.7 1282.0,515.7 1282.0,514.9 1285.0,514.9 1285.0,515.5 1288.0,515.5 1288.0,515.4 1291.0,515.4 1291.0,515.0 1294.0,515.0 1294.0,515.0 1297.0,515.0 1297.0,516.7 1300.0,516.7 1300.0,514.8 1303.0,514.8 1303.0,516.5 1306.0,516.5 1306.0,514.2 1309.0,514.2 1309.0,515.7 1312.0,515.7 1312.0,515.2 1315.0,515.2 1315.0,514.3 1318.0,514.3 1318.0,512.6 1321.0,512.6 1321.0,516.4 1324.0,516.4 1324.0,514.0 1327.0,514.0 1327.0,514.1 1330.0,514.1 1330.0,515.1 1333.0,515.1 1333.0,515.1 1336.0,515.1 1336.0,515.3 1339.0,515.3 1339.0,514.8 1342.0,514.8 1342.0,513.7 1345.0,513.7 1345.0,515.8 1348.0,515.8 1348.0,514.2 1351.0,514.2 1351.0,515.2 1354.0,515.2 1354.0,515.5 1357.0,515.5 1357.0,516.1 1360.0,516.1 1360.0,514.8 1363.0,514.8 1363.0,514.7 1366.0,514.7 1366.0,514.8 1369.0,514.8 1369.0,513.3 1372.0,513.3 1372.0,514.3 1375.0,514.3 1375.0,514.1 1378.0,514.1 1378.0,514.0 1381.0,514.0 1381.0,515.2 1384.0,515.2 1384.0,514.7 1387.0,514.7 1387.0,516.4 1390.0,516.4 1390.0,516.3 1393.0,516.3 1393.0,513.3 1396.0,513.3 1396.0,515.1 1399.0,515.1 1399.0,514.1 1402.0,514.1 1402.0,515.5 1405.0,515.5 1405.0,515.1 1408.0,515.1 1408.0,515.8 1411.0,515.8 1411.0,515.3 1414.0,515.3 1414.0,515.7 1417.0,515.7 1417.0,514.7 1420.0,514.7 1420.0,512.7 1423.0,512.7 1423.0,513.9 1426.0,513.9 1426.0,514.2 1429.0,514.2 1429.0,514.6 1432.0,514.6 1432.0,514.1 1435.0,514.1 1435.0,516.5 1438.0,516.5 1438.0,514.8 1441.0,514.8 1441.0,516.2 1444.0,516.2 1444.0,514.6 1447.0,514.6 1447.0,516.3 1450.0,516.3 1450.0,513.7 1453.0,513.7 1453.0,515.1 1456.0,515.1 1456.0,513.2 1459.0,513.2 1459.0,514.7 1462.0,514.7 1462.0,515.5 1465.0,515.5 1465.0,512.4 1468.0,512.4 1468.0,512.9 1471.0,512.9 1471.0,513.7 1474.0,513.7 1474.0,513.1 1477.0,513.1 1477.0,511.9 1480.0,511.9 1480.0,514.0 1483.0,514.0 1483.0,512.8 1486.0,512.8 1486.0,513.8 1489.0,513.8 1489.0,512.7 1492.0,512.7 1492.0,511.2 1495.0,511.2 1495.0,511.6 1498.0,511.6 1498.0,513.1 1501.0,513.1 1501.0,510.4 1504.0,510.4 1504.0,511.0 1507.0,511.0 1507.0,511.7 1510.0,511.7 1510.0,511.7 1513.0,511.7 1513.0,511.1 1516.0,511.1 1516.0,508.4 1519.0,508.4 1519.0,511.0 1522.0,511.0 1522.0,508.2 1525.0,508.2 1525.0,507.7 1528.0,507.7 1528.0,507.1 1531.0,507.1 1531.0,506.3 1534.0,506.3 1534.0,505.2 1537.0,505.2 1537.0,505.2 1540.0,505.2 1540.0,506.2 1543.0,506.2 1543.0,503.3 1546.0,503.3 1546.0,501.9 1549.0,501.9 1549.0,504.1 1552.0,504.1 1552.0,503.4 1555.0,503.4 1555.0,503.3 1558.0,503.3 1558.0,503.6 1561.0,503.6 1561.0,500.9 1564.0,500.9 1564.0,501.1 1567.0,501.1 1567.0,500.8 1570.0,500.8 1570.0,500.9 1573.0,500.9 1573.0,500.1 1576.0,500.1 1576.0,497.8 1579.0,497.8 1579.0,496.7 1582.0,496.7 1582.0,497.1 1585.0,497.1 1585.0,495.2 1588.0,495.2 1588.0,497.1 1591.0,497.1 1591.0,495.2 1594.0,495.2 1594.0,494.7 1597.0,494.7 1597.0,493.7 1600.0,493.7 1600.0,495.4 1603.0,495.4 1603.0,493.8 1606.0,493.8 1606.0,492.6 1609.0,492.6 1609.0,493.0 1612.0,493.0 1612.0,491.7 1615.0,491.7 1615.0,491.6 1618.0,491.6 1618.0,491.4 1621.0,491.4 1621.0,488.9 1624.0,488.9 1624.0,488.1 1627.0,488.1 1627.0,486.4 1630.0,486.4 1630.0,485.4 1633.0,485.4 1633.0,483.4 1636.0,483.4 1636.0,481.7 1639.0,481.7 1639.0,480.2 1642.0,480.2 1642.0,480.4 1645.0,480.4 1645.0,478.5 1648.0,478.5 1648.0,479.5 1651.0,479.5 1651.0,478.3 1654.0,478.3 1654.0,478.1 1657.0,478.1 1657.0,476.3 1660.0,476.3 1660.0,475.0 1663.0,475.0 1663.0,473.8 1666.0,473.8 1666.0,474.4 1669.0,474.4 1669.0,472.1 1672.0,472.1 1672.0,471.0 1675.0,471.0 1675.0,468.8 1678.0,468.8 1678.0,469.6 1681.0,469.6 1681.0,465.9 1684.0,465.9 1684.0,469.6 1687.0,469.6 1687.0,467.6 1690.0,467.6 1690.0,467.3 1693.0,467.3 1693.0,465.5 1696.0,465.5 1696.0,465.3 1699.0,465.3 1699.0,466.3 1702.0,466.3 1702.0,465.1 1705.0,465.1 1705.0,465.3 1708.0,465.3 1708.0,465.6 1711.0,465.6 1711.0,464.7 1714.0,464.7 1714.0,462.0 1717.0,462.0 1717.0,462.4 1720.0,462.4 1720.0,461.9 1723.0,461.9 1723.0,461.7 1726.0,461.7 1726.0,460.4 1729.0,460.4 1729.0,460.2 1732.0,460.2 1732.0,461.3 1735.0,461.3 1735.0,461.6 1738.0,461.6 1738.0,462.7 1741.0,462.7 1741.0,462.2 1744.0,462.2 1744.0,464.0 1747.0,464.0 1747.0,461.3 1750.0,461.3 1750.0,461.7 1753.0,461.7 1753.0,463.2 1756.0,463.2 1756.0,462.6 1759.0,462.6 1759.0,461.8 1762.0,461.8 1762.0,463.2 1765.0,463.2 1765.0,463.3 1768.0,463.3 1768.0,463.3 1771.0,463.3 1771.0,461.5 1774.0,461.5 1774.0,461.6 1777.0,461.6 1777.0,461.5 1780.0,461.5 1780.0,461.0 1783.0,461.0 1783.0,461.5 1786.0,461.5 1786.0,459.8 1789.0,459.8 1789.0,460.3 1792.0,460.3 1792.0,457.7 1795.0,457.7 1795.0,460.0 1798.0,460.0 1798.0,460.5 1801.0,460.5 1801.0,458.7 1804.0,458.7 1804.0,459.4 1807.0,459.4 1807.0,456.7 1810.0,456.7 1810.0,457.7 1813.0,457.7 1813.0,456.4 1816.0,456.4 1816.0,457.9 1819.0,457.9 1819.0,457.9 1822.0,457.9 1822.0,456.1 1825.0,456.1 1825.0,456.4 1828.0,456.4 1828.0,456.7 1831.0,456.7 1831.0,459.7 1834.0,459.7 1834.0,458.1 1837.0,458.1 1837.0,459.0 1840.0,459.0 1840.0,460.0 1843.0,460.0 1843.0,460.7 1846.0,460.7 1846.0,460.9 1849.0,460.9 1849.0,460.6 1852.0,460.6 1852.0,461.9 1855.0,461.9 1855.0,464.7 1858.0,464.7 1858.0,464.2 1861.0,464.2 1861.0,464.5 1864.0,464.5 1864.0,464.5 1867.0,464.5 1867.0,466.7 1870.0,466.7 1870.0,468.0 1873.0,468.0 1873.0,468.8 1876.0,468.8 1876.0,471.7 1879.0,471.7 1879.0,471.8 1882.0,471.8 1882.0,473.6 1885.0,473.6 1885.0,475.9 1888.0,475.9 1888.0,476.9 1891.0,476.9 1891.0,479.3 1894.0,479.3 1894.0,479.7 1897.0,479.7 1897.0,480.9 1900.0,480.9 1900.0,482.7 1903.0,482.7 1903.0,483.1 1906.0,483.1 1906.0,484.4 1909.0,484.4 1909.0,484.0 1912.0,484.0 1912.0,483.8 1915.0,483.8 1915.0,484.5 1918.0,484.5 1918.0,484.9 1921.0,484.9 1921.0,483.7 1924.0,483.7 1924.0,485.0 1927.0,485.0 1927.0,485.4 1930.0,485.4 1930.0,487.4 1933.0,487.4 1933.0,486.6 1936.0,486.6 1936.0,488.7 1939.0,488.7 1939.0,487.2 1942.0,487.2 1942.0,488.7 1945.0,488.7 1945.0,490.2 1948.0,490.2 1948.0,489.5 1951.0,489.5 1951.0,491.2 1954.0,491.2 1954.0,488.7 1957.0,488.7 1957.0,490.9 1960.0,490.9 1960.0,491.4 1963.0,491.4 1963.0,491.6 1966.0,491.6 1966.0,490.7 1969.0,490.7 1969.0,493.0 1972.0,493.0 1972.0,490.7 1975.0,490.7 1973.5,493.9 1975.0,493.9 1975.0,505.9 1973.5,505.9 1975.0,504.3 1972.0,504.3 1972.0,503.6 1969.0,503.6 1969.0,505.6 1966.0,505.6 1966.0,503.0 1963.0,503.0 1963.0,502.3 1960.0,502.3 1960.0,502.1 1957.0,502.1 1957.0,502.9 1954.0,502.9 1954.0,502.7 1951.0,502.7 1951.0,501.1 1948.0,501.1 1948.0,499.6 1945.0,499.6 1945.0,499.0 1942.0,499.0 1942.0,502.3 1939.0,502.3 1939.0,500.7 1936.0,500.7 1936.0,498.6 1933.0,498.6 1933.0,499.2 1930.0,499.2 1930.0,497.9 1927.0,497.9 1927.0,495.4 1924.0,495.4 1924.0,497.0 1921.0,497.0 1921.0,496.2 1918.0,496.2 1918.0,495.9 1915.0,495.9 1915.0,497.6 1912.0,497.6 1912.0,496.9 1909.0,496.9 1909.0,493.3 1906.0,493.3 1906.0,495.7 1903.0,495.7 1903.0,496.2 1900.0,496.2 1900.0,492.4 1897.0,492.4 1897.0,493.1 1894.0,493.1 1894.0,490.8 1891.0,490.8 1891.0,487.8 1888.0,487.8 1888.0,488.3 1885.0,488.3 1885.0,485.1 1882.0,485.1 1882.0,485.1 1879.0,485.1 1879.0,482.2 1876.0,482.2 1876.0,481.2 1873.0,481.2 1873.0,480.6 1870.0,480.6 1870.0,477.4 1867.0,477.4 1867.0,479.2 1864.0,479.2 1864.0,475.4 1861.0,475.4 1861.0,475.3 1858.0,475.3 1858.0,475.1 1855.0,475.1 1855.0,475.0 1852.0,475.0 1852.0,474.6 1849.0,474.6 1849.0,472.8 1846.0,472.8 1846.0,472.0 1843.0,472.0 1843.0,471.9 1840.0,471.9 1840.0,470.5 1837.0,470.5 1837.0,468.5 1834.0,468.5 1834.0,469.2 1831.0,469.2 1831.0,468.7 1828.0,468.7 1828.0,470.6 1825.0,470.6 1825.0,468.8 1822.0,468.8 1822.0,468.5 1819.0,468.5 1819.0,469.2 1816.0,469.2 1816.0,469.0 1813.0,469.0 1813.0,471.8 1810.0,471.8 1810.0,470.2 1807.0,470.2 1807.0,470.1 1804.0,470.1 1804.0,470.9 1801.0,470.9 1801.0,471.0 1798.0,471.0 1798.0,473.1 1795.0,473.1 1795.0,470.4 1792.0,470.4 1792.0,472.0 1789.0,472.0 1789.0,472.1 1786.0,472.1 1786.0,472.1 1783.0,472.1 1783.0,472.1 1780.0,472.1 1780.0,473.7 1777.0,473.7 1777.0,474.6 1774.0,474.6 1774.0,474.3 1771.0,474.3 1771.0,473.4 1768.0,473.4 1768.0,474.7 1765.0,474.7 1765.0,475.1 1762.0,475.1 1762.0,476.3 1759.0,476.3 1759.0,475.1 1756.0,475.1 1756.0,475.7 1753.0,475.7 1753.0,474.9 1750.0,474.9 1750.0,475.5 1747.0,475.5 1747.0,474.8 1744.0,474.8 1744.0,473.9 1741.0,473.9 1741.0,475.8 1738.0,475.8 1738.0,473.4 1735.0,473.4 1735.0,474.4 1732.0,474.4 1732.0,474.2 1729.0,474.2 1729.0,474.9 1726.0,474.9 1726.0,474.5 1723.0,474.5 1723.0,474.1 1720.0,474.1 1720.0,475.3 1717.0,475.3 1717.0,475.4 1714.0,475.4 1714.0,476.4 1711.0,476.4 1711.0,475.7 1708.0,475.7 1708.0,478.3 1705.0,478.3 1705.0,477.5 1702.0,477.5 1702.0,478.4 1699.0,478.4 1699.0,478.8 1696.0,478.8 1696.0,476.8 1693.0,476.8 1693.0,480.4 1690.0,480.4 1690.0,480.2 1687.0,480.2 1687.0,480.8 1684.0,480.8 1684.0,480.1 1681.0,480.1 1681.0,481.2 1678.0,481.2 1678.0,483.0 1675.0,483.0 1675.0,482.9 1672.0,482.9 1672.0,485.1 1669.0,485.1 1669.0,486.7 1666.0,486.7 1666.0,488.0 1663.0,488.0 1663.0,488.6 1660.0,488.6 1660.0,489.4 1657.0,489.4 1657.0,489.9 1654.0,489.9 1654.0,491.2 1651.0,491.2 1651.0,489.1 1648.0,489.1 1648.0,492.3 1645.0,492.3 1645.0,491.8 1642.0,491.8 1642.0,492.6 1639.0,492.6 1639.0,494.3 1636.0,494.3 1636.0,494.7 1633.0,494.7 1633.0,496.9 1630.0,496.9 1630.0,499.6 1627.0,499.6 1627.0,497.9 1624.0,497.9 1624.0,501.2 1621.0,501.2 1621.0,502.8 1618.0,502.8 1618.0,503.2 1615.0,503.2 1615.0,502.3 1612.0,502.3 1612.0,504.8 1609.0,504.8 1609.0,507.0 1606.0,507.0 1606.0,503.8 1603.0,503.8 1603.0,504.8 1600.0,504.8 1600.0,506.6 1597.0,506.6 1597.0,507.8 1594.0,507.8 1594.0,507.1 1591.0,507.1 1591.0,507.3 1588.0,507.3 1588.0,509.0 1585.0,509.0 1585.0,509.2 1582.0,509.2 1582.0,509.5 1579.0,509.5 1579.0,511.7 1576.0,511.7 1576.0,511.1 1573.0,511.1 1573.0,509.7 1570.0,509.7 1570.0,512.0 1567.0,512.0 1567.0,512.2 1564.0,512.2 1564.0,512.7 1561.0,512.7 1561.0,512.0 1558.0,512.0 1558.0,514.0 1555.0,514.0 1555.0,514.6 1552.0,514.6 1552.0,515.3 1549.0,515.3 1549.0,517.8 1546.0,517.8 1546.0,515.7 1543.0,515.7 1543.0,517.3 1540.0,517.3 1540.0,516.2 1537.0,516.2 1537.0,517.7 1534.0,517.7 1534.0,517.3 1531.0,517.3 1531.0,518.3 1528.0,518.3 1528.0,520.3 1525.0,520.3 1525.0,518.3 1522.0,518.3 1522.0,521.0 1519.0,521.0 1519.0,522.3 1516.0,522.3 1516.0,522.3 1513.0,522.3 1513.0,523.0 1510.0,523.0 1510.0,522.5 1507.0,522.5 1507.0,521.9 1504.0,521.9 1504.0,523.2 1501.0,523.2 1501.0,524.0 1498.0,524.0 1498.0,524.1 1495.0,524.1 1495.0,524.7 1492.0,524.7 1492.0,524.5 1489.0,524.5 1489.0,525.6 1486.0,525.6 1486.0,523.1 1483.0,523.1 1483.0,525.1 1480.0,525.1 1480.0,526.1 1477.0,526.1 1477.0,523.4 1474.0,523.4 1474.0,525.4 1471.0,525.4 1471.0,525.8 1468.0,525.8 1468.0,525.3 1465.0,525.3 1465.0,525.8 1462.0,525.8 1462.0,525.0 1459.0,525.0 1459.0,527.1 1456.0,527.1 1456.0,527.4 1453.0,527.4 1453.0,526.8 1450.0,526.8 1450.0,527.0 1447.0,527.0 1447.0,527.3 1444.0,527.3 1444.0,528.5 1441.0,528.5 1441.0,526.4 1438.0,526.4 1438.0,526.0 1435.0,526.0 1435.0,526.4 1432.0,526.4 1432.0,527.6 1429.0,527.6 1429.0,525.7 1426.0,525.7 1426.0,526.3 1423.0,526.3 1423.0,526.9 1420.0,526.9 1420.0,526.6 1417.0,526.6 1417.0,527.7 1414.0,527.7 1414.0,527.9 1411.0,527.9 1411.0,525.8 1408.0,525.8 1408.0,526.2 1405.0,526.2 1405.0,527.2 1402.0,527.2 1402.0,526.9 1399.0,526.9 1399.0,526.6 1396.0,526.6 1396.0,526.9 1393.0,526.9 1393.0,524.8 1390.0,524.8 1390.0,528.3 1387.0,528.3 1387.0,527.7 1384.0,527.7 1384.0,526.7 1381.0,526.7 1381.0,526.0 1378.0,526.0 1378.0,525.6 1375.0,525.6 1375.0,527.3 1372.0,527.3 1372.0,527.6 1369.0,527.6 1369.0,527.8 1366.0,527.8 1366.0,527.1 1363.0,527.1 1363.0,526.8 1360.0,526.8 1360.0,527.3 1357.0,527.3 1357.0,529.4 1354.0,529.4 1354.0,527.4 1351.0,527.4 1351.0,529.2 1348.0,529.2 1348.0,527.7 1345.0,527.7 1345.0,527.5 1342.0,527.5 1342.0,528.5 1339.0,528.5 1339.0,526.7 1336.0,526.7 1336.0,527.4 1333.0,527.4 1333.0,527.8 1330.0,527.8 1330.0,526.7 1327.0,526.7 1327.0,526.2 1324.0,526.2 1324.0,528.6 1321.0,528.6 1321.0,528.0 1318.0,528.0 1318.0,526.7 1315.0,526.7 1315.0,528.3 1312.0,528.3 1312.0,529.1 1309.0,529.1 1309.0,526.2 1306.0,526.2 1306.0,525.9 1303.0,525.9 1303.0,526.4 1300.0,526.4 1300.0,527.8 1297.0,527.8 1297.0,525.4 1294.0,525.4 1294.0,527.5 1291.0,527.5 1291.0,525.9 1288.0,525.9 1288.0,526.2 1285.0,526.2 1285.0,526.8 1282.0,526.8 1282.0,525.1 1279.0,525.1 1279.0,527.1 1276.0,527.1 1276.0,527.8 1273.0,527.8 1273.0,527.7 1270.0,527.7 1270.0,527.3 1267.0,527.3 1267.0,527.6 1264.0,527.6 1264.0,527.4 1261.0,527.4 1261.0,527.8 1258.0,527.8 1258.0,528.3 1255.0,528.3 1255.0,525.9 1252.0,525.9 1252.0,526.8 1249.0,526.8 1249.0,526.4 1246.0,526.4 1246.0,524.1 1243.0,524.1 1243.0,523.7 1240.0,523.7 1240.0,524.5 1237.0,524.5 1237.0,524.2 1234.0,524.2 1234.0,523.1 1231.0,523.1 1231.0,524.4 1228.0,524.4 1228.0,523.0 1225.0,523.0 1225.0,522.7 1222.0,522.7 1222.0,521.1 1219.0,521.1 1219.0,521.4 1216.0,521.4 1216.0,524.0 1213.0,524.0 1213.0,522.5 1210.0,522.5 1210.0,520.3 1207.0,520.3 1207.0,520.0 1204.0,520.0 1204.0,522.4 1201.0,522.4 1201.0,520.6 1198.0,520.6 1198.0,519.2 1195.0,519.2 1195.0,519.3 1192.0,519.3 1192.0,517.2 1189.0,517.2 1189.0,516.6 1186.0,516.6 1186.0,513.8 1183.0,513.8 1183.0,513.2 1180.0,513.2 1180.0,513.1 1177.0,513.1 1177.0,513.0 1174.0,513.0 1174.0,511.8 1171.0,511.8 1171.0,512.0 1168.0,512.0 1168.0,512.4 1165.0,512.4 1165.0,509.2 1162.0,509.2 1162.0,508.9 1159.0,508.9 1159.0,506.5 1156.0,506.5 1156.0,508.1 1153.0,508.1 1153.0,504.4 1150.0,504.4 1150.0,501.8 1147.0,501.8 1147.0,500.7 1144.0,500.7 1144.0,497.6 1141.0,497.6 1141.0,493.4 1138.0,493.4 1138.0,490.0 1135.0,490.0 1135.0,483.3 1132.0,483.3 1132.0,480.2 1129.0,480.2 1129.0,474.7 1126.0,474.7 1126.0,465.6 1123.0,465.6 1123.0,452.3 1120.0,452.3 1120.0,434.6 1117.0,434.6 1117.0,415.0 1114.0,415.0 1114.0,383.9 1111.0,383.9 1111.0,363.4 1108.0,363.4 1108.0,344.0 1105.0,344.0 1105.0,324.2 1102.0,324.2 1102.0,302.7 1099.0,302.7 1099.0,294.9 1096.0,294.9 1096.0,293.0 1093.0,293.0 1093.0,294.1 1090.0,294.1 1090.0,294.0 1087.0,294.0 1087.0,298.0 1084.0,298.0 1084.0,303.0 1081.0,303.0 1081.0,310.2 1078.0,310.2 1078.0,323.5 1075.0,323.5 1075.0,338.0 1072.0,338.0 1072.0,349.0 1069.0,349.0 1069.0,361.1 1066.0,361.1 1066.0,372.9 1063.0,372.9 1063.0,381.5 1060.0,381.5 1060.0,390.0 1057.0,390.0 1057.0,398.1 1054.0,398.1 1054.0,401.4 1051.0,401.4 1051.0,405.8 1048.0,405.8 1048.0,410.6 1045.0,410.6 1045.0,413.6 1042.0,413.6 1042.0,419.0 1039.0,419.0 1039.0,419.2 1036.0,419.2 1036.0,419.6 1033.0,419.6 1033.0,420.7 1030.0,420.7 1030.0,422.5 1027.0,422.5 1027.0,420.6 1024.0,420.6 1024.0,419.5 1021.0,419.5 1021.0,421.6 1018.0,421.6 1018.0,418.7 1015.0,418.7 1015.0,415.0 1012.0,415.0 1012.0,413.7 1009.0,413.7 1009.0,406.6 1006.0,406.6 1006.0,402.1 1003.0,402.1 1003.0,396.0 1000.0,396.0 1000.0,388.0 997.0,388.0 997.0,380.2 994.0,380.2 994.0,377.3 991.0,377.3 991.0,368.9 988.0,368.9 988.0,362.1 985.0,362.1 985.0,354.2 982.0,354.2 982.0,349.7 979.0,349.7 979.0,344.1 976.0,344.1 976.0,334.9 973.0,334.9 973.0,328.7 970.0,328.7 970.0,324.7 967.0,324.7 967.0,323.7 964.0,323.7 964.0,323.5 961.0,323.5 961.0,322.2 958.0,322.2 958.0,322.8 955.0,322.8 955.0,323.2 952.0,323.2 952.0,330.0 949.0,330.0 949.0,334.0 946.0,334.0 946.0,344.5 943.0,344.5 943.0,349.5 940.0,349.5 940.0,355.8 937.0,355.8 937.0,365.0 934.0,365.0 934.0,375.6 931.0,375.6 931.0,385.9 928.0,385.9 928.0,395.0 925.0,395.0 925.0,404.6 922.0,404.6 922.0,412.0 919.0,412.0 919.0,421.3 916.0,421.3 916.0,429.2 913.0,429.2 913.0,437.2 910.0,437.2 910.0,443.0 907.0,443.0 907.0,449.5 904.0,449.5 904.0,454.4 901.0,454.4 901.0,460.5 898.0,460.5 898.0,465.0 895.0,465.0 895.0,470.7 892.0,470.7 892.0,476.4 889.0,476.4 889.0,480.0 886.0,480.0 886.0,485.3 883.0,485.3 883.0,489.6 880.0,489.6 880.0,496.3 877.0,496.3 877.0,501.5 874.0,501.5 874.0,504.6 871.0,504.6 871.0,507.7 868.0,507.7 868.0,508.9 865.0,508.9 865.0,512.6 862.0,512.6 862.0,512.7 859.0,512.7 859.0,514.3 856.0,514.3 856.0,517.5 853.0,517.5 853.0,518.1 850.0,518.1 850.0,520.0 847.0,520.0 847.0,521.3 844.0,521.3 844.0,522.0 841.0,522.0 841.0,525.9 838.0,525.9 838.0,525.7 835.0,525.7 835.0,528.6 832.0,528.6 832.0,533.4 829.0,533.4 829.0,535.5 826.0,535.5 826.0,538.6 823.0,538.6 823.0,538.5 820.0,538.5 820.0,542.0 817.0,542.0 817.0,541.8 814.0,541.8 814.0,544.0 811.0,544.0 811.0,544.1 808.0,544.1 808.0,545.9 805.0,545.9 805.0,545.9 802.0,545.9 802.0,548.8 799.0,548.8 799.0,548.8 796.0,548.8 796.0,551.9 793.0,551.9 793.0,549.6 790.0,549.6 790.0,551.8 787.0,551.8 787.0,555.3 784.0,555.3 784.0,557.4 781.0,557.4 781.0,555.6 778.0,555.6 778.0,558.3 775.0,558.3 775.0,558.1 772.0,558.1 772.0,560.6 769.0,560.6 769.0,561.3 766.0,561.3 766.0,562.9 763.0,562.9 763.0,563.7 760.0,563.7 760.0,563.4 757.0,563.4 757.0,565.1 754.0,565.1 754.0,565.1 751.0,565.1 751.0,567.6 748.0,567.6 748.0,567.6 745.0,567.6 745.0,568.4 742.0,568.4 742.0,569.2 739.0,569.2 739.0,568.5 736.0,568.5 736.0,570.3 733.0,570.3 733.0,571.3 730.0,571.3 730.0,571.1 727.0,571.1 727.0,570.7 724.0,570.7 724.0,572.7 721.0,572.7 721.0,573.9 718.0,573.9 718.0,573.5 715.0,573.5 715.0,574.6 712.0,574.6 712.0,574.9 709.0,574.9 709.0,575.9 706.0,575.9 706.0,576.3 703.0,576.3 703.0,576.0 700.0,576.0 700.0,576.4 697.0,576.4 697.0,577.3 694.0,577.3 694.0,577.2 691.0,577.2 691.0,576.3 688.0,576.3 688.0,577.9 685.0,577.9 685.0,577.0 682.0,577.0 682.0,577.2 679.0,577.2 679.0,576.6 676.0,576.6 676.0,576.8 673.0,576.8 673.0,577.3 670.0,577.3 670.0,578.2 667.0,578.2 667.0,576.8 664.0,576.8 664.0,578.1 661.0,578.1 661.0,575.4 658.0,575.4 658.0,575.5 655.0,575.5 655.0,575.8 652.0,575.8 652.0,575.6 649.0,575.6 649.0,577.1 646.0,577.1 646.0,576.2 643.0,576.2 643.0,575.7 640.0,575.7 640.0,577.4 637.0,577.4 637.0,576.6 634.0,576.6 634.0,576.9 631.0,576.9 631.0,577.2 628.0,577.2 628.0,577.2 625.0,577.2 625.0,578.3 622.0,578.3 622.0,578.3 619.0,578.3 619.0,580.6 616.0,580.6 616.0,580.0 613.0,580.0 613.0,579.0 610.0,579.0 610.0,581.5 607.0,581.5 607.0,581.0 604.0,581.0 604.0,579.1 601.0,579.1 601.0,579.1 598.0,579.1 598.0,581.9 595.0,581.9 595.0,580.4 592.0,580.4 592.0,579.6 589.0,579.6 589.0,579.3 586.0,579.3 586.0,579.0 583.0,579.0 583.0,581.5 580.0,581.5 580.0,580.0 577.0,580.0 577.0,579.2 574.0,579.2 574.0,579.4 571.0,579.4 571.0,581.9 568.0,581.9 568.0,579.9 565.0,579.9 565.0,579.3 562.0,579.3 562.0,579.0 559.0,579.0 559.0,581.3 556.0,581.3 556.0,580.9 553.0,580.9 553.0,580.6 550.0,580.6 550.0,581.6 547.0,581.6 547.0,580.8 544.0,580.8 544.0,581.2 541.0,581.2 541.0,583.0 538.0,583.0 538.0,582.4 535.0,582.4 535.0,585.0 532.0,585.0 532.0,583.8 529.0,583.8 529.0,582.6 526.0,582.6 526.0,583.8 523.0,583.8 523.0,585.4 520.0,585.4 520.0,584.0 517.0,584.0 517.0,586.3 514.0,586.3 514.0,584.5 511.0,584.5 511.0,586.1 508.0,586.1 508.0,585.3 505.0,585.3 505.0,583.6 502.0,583.6 502.0,585.8 499.0,585.8 499.0,584.1 496.0,584.1 496.0,583.2 493.0,583.2 493.0,583.2 490.0,583.2 490.0,582.7 487.0,582.7 487.0,582.7 484.0,582.7 484.0,581.9 481.0,581.9 481.0,581.2 478.0,581.2 478.0,580.5 475.0,580.5 475.0,581.3 472.0,581.3 472.0,581.1 469.0,581.1 469.0,580.1 466.0,580.1 466.0,578.7 463.0,578.7 463.0,581.9 460.0,581.9 460.0,581.1 457.0,581.1 457.0,581.1 454.0,581.1 454.0,580.5 451.0,580.5 451.0,581.3 448.0,581.3 448.0,580.4 445.0,580.4 445.0,580.4 442.0,580.4 442.0,580.0 439.0,580.0 439.0,580.8 436.0,580.8 436.0,581.9 433.0,581.9 433.0,581.3 431.5,581.3"/>
<polyline stroke="#000" stroke-width="8.5" points="431.5,577.6 434.5,574.0 437.5,574.1 440.5,573.2 443.5,576.3 446.5,571.2 449.5,577.6 452.5,573.5 455.5,575.2 458.5,574.2 461.5,576.9 464.5,571.2 467.5,574.0 470.5,573.9 473.5,576.5 476.5,573.2 479.5,575.2 482.5,574.6 485.5,576.7 488.5,578.1 491.5,576.0 494.5,580.0 497.5,579.9 500.5,579.3 503.5,579.9 506.5,577.3 509.5,578.2 512.5,576.8 515.5,577.7 518.5,578.9 521.5,576.8 524.5,577.1 527.5,576.5 530.5,576.1 533.5,576.2 536.5,576.9 539.5,574.7 542.5,576.4 545.5,578.2 548.5,576.3 551.5,574.4 554.5,573.0 557.5,572.9 560.5,576.7 563.5,574.0 566.5,572.8 569.5,574.1 572.5,577.0 575.5,573.8 578.5,574.6 581.5,574.0 584.5,573.0 587.5,571.7 590.5,572.9 593.5,573.3 596.5,574.8 599.5,575.5 602.5,576.0 605.5,575.3 608.5,576.4 611.5,573.7 614.5,576.5 617.5,574.5 620.5,572.2 623.5,572.5 626.5,570.9 629.5,572.3 632.5,572.8 635.5,573.8 638.5,567.9 641.5,567.8 644.5,569.2 647.5,570.3 650.5,571.4 653.5,570.5 656.5,566.8 659.5,569.7 662.5,571.6 665.5,570.7 668.5,571.7 671.5,570.2 674.5,570.3 677.5,571.1 680.5,571.5 683.5,571.2 686.5,571.2 689.5,569.9 692.5,571.6 695.5,571.0 698.5,572.3 701.5,572.1 704.5,570.1 707.5,568.7 710.5,567.9 713.5,569.1 716.5,568.1 719.5,566.8 722.5,566.8 725.5,565.0 728.5,566.5 731.5,563.9 734.5,565.9 737.5,563.9 740.5,563.5 743.5,560.0 746.5,561.2 749.5,561.3 752.5,557.8 755.5,558.0 758.5,557.6 761.5,554.5 764.5,556.3 767.5,556.2 770.5,552.5 773.5,553.4 776.5,549.6 779.5,550.5 782.5,546.8 785.5,550.1 788.5,547.7 791.5,545.9 794.5,543.5 797.5,545.6 800.5,545.4 803.5,538.1 806.5,541.8 809.5,541.2 812.5,537.9 815.5,534.2 818.5,536.1 821.5,532.9 824.5,530.5 827.5,527.5 830.5,527.8 833.5,525.3 836.5,520.3 839.5,519.8 842.5,515.3 845.5,516.9 848.5,514.3 851.5,512.6 854.5,511.1 857.5,510.9 860.5,508.9 863.5,506.6 866.5,503.8 869.5,501.2 872.5,499.0 875.5,494.5 878.5,491.0 881.5,484.8 884.5,476.0 887.5,476.1 890.5,472.8 893.5,465.1 896.5,459.2 899.5,453.9 902.5,448.5 905.5,443.0 908.5,435.1 911.5,429.4 914.5,421.3 917.5,414.8 920.5,405.6 923.5,398.7 926.5,388.8 929.5,380.9 932.5,369.8 935.5,362.7 938.5,347.1 941.5,342.7 944.5,339.5 947.5,334.1 950.5,322.5 953.5,319.4 956.5,316.6 959.5,318.7 962.5,316.4 965.5,318.6 968.5,318.3 971.5,320.6 974.5,328.5 977.5,336.8 980.5,345.5 983.5,349.9 986.5,355.5 989.5,363.4 992.5,368.7 995.5,375.3 998.5,382.2 1001.5,391.4 1004.5,396.4 1007.5,404.8 1010.5,408.6 1013.5,411.3 1016.5,410.3 1019.5,415.4 1022.5,415.4 1025.5,416.2 1028.5,416.7 1031.5,414.3 1034.5,415.8 1037.5,412.9 1040.5,415.4 1043.5,406.9 1046.5,402.4 1049.5,398.5 1052.5,395.0 1055.5,389.1 1058.5,387.2 1061.5,375.4 1064.5,364.4 1067.5,357.5 1070.5,343.1 1073.5,329.0 1076.5,318.1 1079.5,305.9 1082.5,295.7 1085.5,292.9 1088.5,287.8 1091.5,290.2 1094.5,288.9 1097.5,291.5 1100.5,298.6 1103.5,315.3 1106.5,342.1 1109.5,355.3 1112.5,378.3 1115.5,407.1 1118.5,429.7 1121.5,447.0 1124.5,459.4 1127.5,469.4 1130.5,477.1 1133.5,478.6 1136.5,480.9 1139.5,484.9 1142.5,489.5 1145.5,491.0 1148.5,497.5 1151.5,497.3 1154.5,499.3 1157.5,501.2 1160.5,500.3 1163.5,502.3 1166.5,505.9 1169.5,506.8 1172.5,506.0 1175.5,510.5 1178.5,506.3 1181.5,508.7 1184.5,509.9 1187.5,506.8 1190.5,515.4 1193.5,513.8 1196.5,512.3 1199.5,517.7 1202.5,515.8 1205.5,515.8 1208.5,514.4 1211.5,515.8 1214.5,513.5 1217.5,517.5 1220.5,516.0 1223.5,517.2 1226.5,519.3 1229.5,518.2 1232.5,518.5 1235.5,518.9 1238.5,517.7 1241.5,520.5 1244.5,522.0 1247.5,521.2 1250.5,521.7 1253.5,519.3 1256.5,519.5 1259.5,518.7 1262.5,523.0 1265.5,520.6 1268.5,523.2 1271.5,519.7 1274.5,520.3 1277.5,521.2 1280.5,522.5 1283.5,521.1 1286.5,521.3 1289.5,521.0 1292.5,521.3 1295.5,519.2 1298.5,521.1 1301.5,520.7 1304.5,520.9 1307.5,521.8 1310.5,519.9 1313.5,520.9 1316.5,520.5 1319.5,521.7 1322.5,522.3 1325.5,519.5 1328.5,521.9 1331.5,524.3 1334.5,518.6 1337.5,519.7 1340.5,519.6 1343.5,520.6 1346.5,523.6 1349.5,521.0 1352.5,519.9 1355.5,522.0 1358.5,520.0 1361.5,522.8 1364.5,521.5 1367.5,523.2 1370.5,519.9 1373.5,525.8 1376.5,522.3 1379.5,522.0 1382.5,520.9 1385.5,519.8 1388.5,519.6 1391.5,520.8 1394.5,519.7 1397.5,521.5 1400.5,519.7 1403.5,522.0 1406.5,522.5 1409.5,519.9 1412.5,522.9 1415.5,520.6 1418.5,522.8 1421.5,521.7 1424.5,522.8 1427.5,519.4 1430.5,520.8 1433.5,523.3 1436.5,520.0 1439.5,517.7 1442.5,517.9 1445.5,516.9 1448.5,517.5 1451.5,520.1 1454.5,522.6 1457.5,519.7 1460.5,520.8 1463.5,519.9 1466.5,519.9 1469.5,519.4 1472.5,519.2 1475.5,520.0 1478.5,517.2 1481.5,520.5 1484.5,520.2 1487.5,518.3 1490.5,519.7 1493.5,517.1 1496.5,517.2 1499.5,518.1 1502.5,517.4 1505.5,516.7 1508.5,516.1 1511.5,515.9 1514.5,517.9 1517.5,512.6 1520.5,515.6 1523.5,514.0 1526.5,514.9 1529.5,513.9 1532.5,508.1 1535.5,513.0 1538.5,512.1 1541.5,511.1 1544.5,509.8 1547.5,511.5 1550.5,509.0 1553.5,512.1 1556.5,509.5 1559.5,511.5 1562.5,506.3 1565.5,504.2 1568.5,507.5 1571.5,507.1 1574.5,505.2 1577.5,502.1 1580.5,503.2 1583.5,504.3 1586.5,502.4 1589.5,501.9 1592.5,501.2 1595.5,499.5 1598.5,499.6 1601.5,497.7 1604.5,502.3 1607.5,498.2 1610.5,499.2 1613.5,496.1 1616.5,498.3 1619.5,493.3 1622.5,496.6 1625.5,493.6 1628.5,495.4 1631.5,488.3 1634.5,489.0 1637.5,488.2 1640.5,488.8 1643.5,485.4 1646.5,485.6 1649.5,481.5 1652.5,483.0 1655.5,484.3 1658.5,484.5 1661.5,481.3 1664.5,483.9 1667.5,482.2 1670.5,478.2 1673.5,473.4 1676.5,473.5 1679.5,474.4 1682.5,476.8 1685.5,474.9 1688.5,470.5 1691.5,472.9 1694.5,475.4 1697.5,471.7 1700.5,470.6 1703.5,474.6 1706.5,471.0 1709.5,469.7 1712.5,470.6 1715.5,469.7 1718.5,468.6 1721.5,470.9 1724.5,470.3 1727.5,469.6 1730.5,467.9 1733.5,469.8 1736.5,468.0 1739.5,469.0 1742.5,470.2 1745.5,470.0 1748.5,471.8 1751.5,469.7 1754.5,466.3 1757.5,467.0 1760.5,470.9 1763.5,468.0 1766.5,468.9 1769.5,466.7 1772.5,469.5 1775.5,467.0 1778.5,469.6 1781.5,466.1 1784.5,468.4 1787.5,467.3 1790.5,464.8 1793.5,467.4 1796.5,463.9 1799.5,463.7 1802.5,465.9 1805.5,463.5 1808.5,463.3 1811.5,463.5 1814.5,462.2 1817.5,465.3 1820.5,464.4 1823.5,463.2 1826.5,463.0 1829.5,464.0 1832.5,466.4 1835.5,465.5 1838.5,464.0 1841.5,466.9 1844.5,466.3 1847.5,466.8 1850.5,470.8 1853.5,467.8 1856.5,468.4 1859.5,466.8 1862.5,468.5 1865.5,472.4 1868.5,471.7 1871.5,474.8 1874.5,473.6 1877.5,475.6 1880.5,479.4 1883.5,482.1 1886.5,482.1 1889.5,484.6 1892.5,487.1 1895.5,487.6 1898.5,485.8 1901.5,488.1 1904.5,489.9 1907.5,488.7 1910.5,490.3 1913.5,487.3 1916.5,488.7 1919.5,491.2 1922.5,487.1 1925.5,489.4 1928.5,491.7 1931.5,489.6 1934.5,493.1 1937.5,492.4 1940.5,493.8 1943.5,494.4 1946.5,495.6 1949.5,494.8 1952.5,496.3 1955.5,495.6 1958.5,497.8 1961.5,500.0 1964.5,498.0 1967.5,498.3 1970.5,496.6 1973.5,499.9 1975.0,497.8"/>
<polygon fill="#0000ff" fill-opacity="0.3" stroke="none" points="431.5,848.1 433.0,848.1 433.0,845.8 436.0,845.8 436.0,849.2 439.0,849.2 439.0,847.2 442.0,847.2 442.0,846.8 445.0,846.8 445.0,845.9 448.0,845.9 448.0,848.6 451.0,848.6 451.0,845.7 454.0,845.7 454.0,848.0 457.0,848.0 457.0,846.3 460.0,846.3 460.0,847.0 463.0,847.0 463.0,846.6 466.0,846.6 466.0,847.6 469.0,847.6 469.0,847.7 472.0,847.7 472.0,845.1 475.0,845.1 475.0,847.9 478.0,847.9 478.0,847.3 481.0,847.3 481.0,847.6 484.0,847.6 484.0,848.1 487.0,848.1 487.0,843.7 490.0,843.7 490.0,848.2 493.0,848.2 493.0,843.2 496.0,843.2 496.0,844.3 499.0,844.3 499.0,845.5 502.0,845.5 502.0,846.3 505.0,846.3 505.0,845.5 508.0,845.5 508.0,844.9 511.0,844.9 511.0,845.0 514.0,845.0 514.0,842.5 517.0,842.5 517.0,843.8 520.0,843.8 520.0,847.0 523.0,847.0 523.0,839.7 526.0,839.7 526.0,842.6 529.0,842.6 529.0,842.5 532.0,842.5 532.0,841.0 535.0,841.0 535.0,841.8 538.0,841.8 538.0,841.8 541.0,841.8 541.0,840.9 544.0,840.9 544.0,840.8 547.0,840.8 547.0,839.1 550.0,839.1 550.0,841.0 553.0,841.0 553.0,838.8 556.0,838.8 556.0,837.7 559.0,837.7 559.0,841.6 562.0,841.6 562.0,837.4 565.0,837.4 565.0,837.1 568.0,837.1 568.0,834.7 571.0,834.7 571.0,837.8 574.0,837.8 574.0,835.6 577.0,835.6 577.0,836.0 580.0,836.0 580.0,837.9 583.0,837.9 583.0,837.5 586.0,837.5 586.0,835.7 589.0,835.7 589.0,837.4 592.0,837.4 592.0,837.1 595.0,837.1 595.0,836.2 598.0,836.2 598.0,835.0 601.0,835.0 601.0,836.9 604.0,836.9 604.0,834.0 607.0,834.0 607.0,836.5 610.0,836.5 610.0,835.8 613.0,835.8 613.0,833.9 616.0,833.9 616.0,833.9 619.0,833.9 619.0,838.7 622.0,838.7 622.0,832.0 625.0,832.0 625.0,834.7 628.0,834.7 628.0,833.8 631.0,833.8 631.0,834.6 634.0,834.6 634.0,834.0 637.0,834.0 637.0,834.4 640.0,834.4 640.0,833.8 643.0,833.8 643.0,832.3 646.0,832.3 646.0,829.9 649.0,829.9 649.0,830.9 652.0,830.9 652.0,831.4 655.0,831.4 655.0,830.4 658.0,830.4 658.0,830.3 661.0,830.3 661.0,827.5 664.0,827.5 664.0,825.3 667.0,825.3 667.0,825.7 670.0,825.7 670.0,826.8 673.0,826.8 673.0,827.8 676.0,827.8 676.0,827.8 679.0,827.8 679.0,827.5 682.0,827.5 682.0,824.7 685.0,824.7 685.0,825.8 688.0,825.8 688.0,827.2 691.0,827.2 691.0,826.8 694.0,826.8 694.0,827.5 697.0,827.5 697.0,824.4 700.0,824.4 700.0,826.8 703.0,826.8 703.0,821.9 706.0,821.9 706.0,824.8 709.0,824.8 709.0,825.2 712.0,825.2 712.0,824.3 715.0,824.3 715.0,825.6 718.0,825.6 718.0,823.7 721.0,823.7 721.0,823.6 724.0,823.6 724.0,824.1 727.0,824.1 727.0,821.4 730.0,821.4 730.0,824.2 733.0,824.2 733.0,820.5 736.0,820.5 736.0,821.4 739.0,821.4 739.0,819.9 742.0,819.9 742.0,818.0 745.0,818.0 745.0,817.7 748.0,817.7 748.0,817.0 751.0,817.0 751.0,815.0 754.0,815.0 754.0,817.9 757.0,817.9 757.0,812.5 760.0,812.5 760.0,813.0 763.0,813.0 763.0,813.7 766.0,813.7 766.0,811.9 769.0,811.9 769.0,811.7 772.0,811.7 772.0,807.1 775.0,807.1 775.0,807.8 778.0,807.8 778.0,807.1 781.0,807.1 781.0,807.8 784.0,807.8 784.0,803.8 787.0,803.8 787.0,803.8 790.0,803.8 790.0,805.6 793.0,805.6 793.0,802.6 796.0,802.6 796.0,801.8 799.0,801.8 799.0,800.3 802.0,800.3 802.0,801.2 805.0,801.2 805.0,796.0 808.0,796.0 808.0,796.4 811.0,796.4 811.0,795.5 814.0,795.5 814.0,795.0 817.0,795.0 817.0,793.2 820.0,793.2 820.0,788.6 823.0,788.6 823.0,790.1 826.0,790.1 826.0,787.0 829.0,787.0 829.0,790.5 832.0,790.5 832.0,784.9 835.0,784.9 835.0,785.7 838.0,785.7 838.0,782.7 841.0,782.7 841.0,782.5 844.0,782.5 844.0,781.1 847.0,781.1 847.0,782.9 850.0,782.9 850.0,783.0 853.0,783.0 853.0,778.7 856.0,778.7 856.0,780.4 859.0,780.4 859.0,779.9 862.0,779.9 862.0,779.8 865.0,779.8 865.0,776.1 868.0,776.1 868.0,777.8 871.0,777.8 871.0,772.7 874.0,772.7 874.0,773.1 877.0,773.1 877.0,770.1 880.0,770.1 880.0,767.4 883.0,767.4 883.0,766.0 886.0,766.0 886.0,762.0 889.0,762.0 889.0,762.5 892.0,762.5 892.0,755.8 895.0,755.8 895.0,752.3 898.0,752.3 898.0,752.2 901.0,752.2 901.0,747.6 904.0,747.6 904.0,742.7 907.0,742.7 907.0,740.6 910.0,740.6 910.0,734.6 913.0,734.6 913.0,722.2 916.0,722.2 916.0,718.1 919.0,718.1 919.0,716.6 922.0,716.6 922.0,710.6 925.0,710.6 925.0,710.4 928.0,710.4 928.0,704.0 931.0,704.0 931.0,700.5 934.0,700.5 934.0,694.7 937.0,694.7 937.0,687.5 940.0,687.5 940.0,684.5 943.0,684.5 943.0,680.0 946.0,680.0 946.0,676.8 949.0,676.8 949.0,675.1 952.0,675.1 952.0,671.0 955.0,671.0 955.0,667.4 958.0,667.4 958.0,666.1 961.0,666.1 961.0,666.4 964.0,666.4 964.0,663.9 967.0,663.9 967.0,666.4 970.0,666.4 970.0,672.6 973.0,672.6 973.0,674.6 976.0,674.6 976.0,677.6 979.0,677.6 979.0,685.7 982.0,685.7 982.0,684.7 985.0,684.7 985.0,689.1 988.0,689.1 988.0,692.0 991.0,692.0 991.0,693.5 994.0,693.5 994.0,699.7 997.0,699.7 997.0,703.2 1000.0,703.2 1000.0,704.7 1003.0,704.7 1003.0,705.8 1006.0,705.8 1006.0,712.5 1009.0,712.5 1009.0,711.9 1012.0,711.9 1012.0,716.7 1015.0,716.7 1015.0,718.2 1018.0,718.2 1018.0,718.0 1021.0,718.0 1021.0,719.2 1024.0,719.2 1024.0,717.4 1027.0,717.4 1027.0,715.5 1030.0,715.5 1030.0,715.7 1033.0,715.7 1033.0,717.4 1036.0,717.4 1036.0,712.0 1039.0,712.0 1039.0,714.5 1042.0,714.5 1042.0,711.1 1045.0,711.1 1045.0,714.6 1048.0,714.6 1048.0,706.6 1051.0,706.6 1051.0,702.7 1054.0,702.7 1054.0,704.6 1057.0,704.6 1057.0,700.7 1060.0,700.7 1060.0,690.2 1063.0,690.2 1063.0,683.9 1066.0,683.9 1066.0,676.3 1069.0,676.3 1069.0,671.0 1072.0,671.0 1072.0,665.3 1075.0,665.3 1075.0,657.8 1078.0,657.8 1078.0,650.8 1081.0,650.8 1081.0,644.1 1084.0,644.1 1084.0,642.9 1087.0,642.9 1087.0,641.1 1090.0,641.1 1090.0,638.2 1093.0,638.2 1093.0,631.8 1096.0,631.8 1096.0,632.7 1099.0,632.7 1099.0,636.3 1102.0,636.3 1102.0,647.1 1105.0,647.1 1105.0,660.1 1108.0,660.1 1108.0,676.1 1111.0,676.1 1111.0,688.6 1114.0,688.6 1114.0,699.6 1117.0,699.6 1117.0,708.9 1120.0,708.9 1120.0,719.7 1123.0,719.7 1123.0,723.6 1126.0,723.6 1126.0,731.5 1129.0,731.5 1129.0,734.9 1132.0,734.9 1132.0,734.8 1135.0,734.8 1135.0,740.9 1138.0,740.9 1138.0,744.1 1141.0,744.1 1141.0,741.5 1144.0,741.5 1144.0,744.8 1147.0,744.8 1147.0,743.6 1150.0,743.6 1150.0,743.8 1153.0,743.8 1153.0,746.4 1156.0,746.4 1156.0,746.0 1159.0,746.0 1159.0,743.7 1162.0,743.7 1162.0,743.3 1165.0,743.3 1165.0,745.6 1168.0,745.6 1168.0,743.0 1171.0,743.0 1171.0,743.0 1174.0,743.0 1174.0,744.3 1177.0,744.3 1177.0,743.8 1180.0,743.8 1180.0,745.1 1183.0,745.1 1183.0,747.6 1186.0,747.6 1186.0,743.0 1189.0,743.0 1189.0,747.2 1192.0,747.2 1192.0,743.3 1195.0,743.3 1195.0,745.5 1198.0,745.5 1198.0,747.1 1201.0,747.1 1201.0,748.9 1204.0,748.9 1204.0,742.7 1207.0,742.7 1207.0,747.2 1210.0,747.2 1210.0,744.2 1213.0,744.2 1213.0,744.2 1216.0,744.2 1216.0,744.4 1219.0,744.4 1219.0,746.3 1222.0,746.3 1222.0,747.2 1225.0,747.2 1225.0,744.4 1228.0,744.4 1228.0,743.1 1231.0,743.1 1231.0,743.1 1234.0,743.1 1234.0,741.2 1237.0,741.2 1237.0,742.2 1240.0,742.2 1240.0,746.1 1243.0,746.1 1243.0,741.9 1246.0,741.9 1246.0,742.4 1249.0,742.4 1249.0,743.2 1252.0,743.2 1252.0,742.7 1255.0,742.7 1255.0,742.1 1258.0,742.1 1258.0,741.5 1261.0,741.5 1261.0,741.8 1264.0,741.8 1264.0,744.4 1267.0,744.4 1267.0,742.9 1270.0,742.9 1270.0,741.7 1273.0,741.7 1273.0,740.1 1276.0,740.1 1276.0,740.9 1279.0,740.9 1279.0,740.8 1282.0,740.8 1282.0,738.8 1285.0,738.8 1285.0,738.1 1288.0,738.1 1288.0,739.7 1291.0,739.7 1291.0,737.9 1294.0,737.9 1294.0,737.5 1297.0,737.5 1297.0,738.2 1300.0,738.2 1300.0,737.7 1303.0,737.7 1303.0,736.0 1306.0,736.0 1306.0,739.4 1309.0,739.4 1309.0,737.1 1312.0,737.1 1312.0,736.0 1315.0,736.0 1315.0,736.9 1318.0,736.9 1318.0,737.5 1321.0,737.5 1321.0,735.0 1324.0,735.0 1324.0,730.8 1327.0,730.8 1327.0,732.3 1330.0,732.3 1330.0,733.5 1333.0,733.5 1333.0,733.4 1336.0,733.4 1336.0,734.8 1339.0,734.8 1339.0,733.0 1342.0,733.0 1342.0,731.4 1345.0,731.4 1345.0,732.5 1348.0,732.5 1348.0,730.0 1351.0,730.0 1351.0,731.9 1354.0,731.9 1354.0,727.8 1357.0,727.8 1357.0,731.9 1360.0,731.9 1360.0,729.0 1363.0,729.0 1363.0,730.1 1366.0,730.1 1366.0,728.2 1369.0,728.2 1369.0,726.2 1372.0,726.2 1372.0,727.5 1375.0,727.5 1375.0,727.5 1378.0,727.5 1378.0,727.4 1381.0,727.4 1381.0,726.9 1384.0,726.9 1384.0,726.9 1387.0,726.9 1387.0,725.1 1390.0,725.1 1390.0,723.0 1393.0,723.0 1393.0,724.4 1396.0,724.4 1396.0,722.5 1399.0,722.5 1399.0,723.7 1402.0,723.7 1402.0,723.0 1405.0,723.0 1405.0,723.0 1408.0,723.0 1408.0,721.5 1411.0,721.5 1411.0,722.6 1414.0,722.6 1414.0,722.0 1417.0,722.0 1417.0,721.6 1420.0,721.6 1420.0,720.6 1423.0,720.6 1423.0,720.7 1426.0,720.7 1426.0,720.5 1429.0,720.5 1429.0,718.9 1432.0,718.9 1432.0,715.3 1435.0,715.3 1435.0,717.2 1438.0,717.2 1438.0,720.1 1441.0,720.1 1441.0,714.4 1444.0,714.4 1444.0,717.4 1447.0,717.4 1447.0,716.2 1450.0,716.2 1450.0,718.9 1453.0,718.9 1453.0,717.1 1456.0,717.1 1456.0,715.8 1459.0,715.8 1459.0,715.9 1462.0,715.9 1462.0,713.2 1465.0,713.2 1465.0,718.1 1468.0,718.1 1468.0,715.9 1471.0,715.9 1471.0,713.2 1474.0,713.2 1474.0,713.2 1477.0,713.2 1477.0,714.4 1480.0,714.4 1480.0,712.1 1483.0,712.1 1483.0,711.4 1486.0,711.4 1486.0,713.3 1489.0,713.3 1489.0,711.4 1492.0,711.4 1492.0,711.6 1495.0,711.6 1495.0,711.7 1498.0,711.7 1498.0,708.6 1501.0,708.6 1501.0,711.5 1504.0,711.5 1504.0,710.0 1507.0,710.0 1507.0,706.5 1510.0,706.5 1510.0,705.4 1513.0,705.4 1513.0,706.7 1516.0,706.7 1516.0,706.3 1519.0,706.3 1519.0,704.0 1522.0,704.0 1522.0,703.9 1525.0,703.9 1525.0,703.1 1528.0,703.1 1528.0,702.1 1531.0,702.1 1531.0,702.4 1534.0,702.4 1534.0,703.2 1537.0,703.2 1537.0,703.0 1540.0,703.0 1540.0,698.4 1543.0,698.4 1543.0,698.7 1546.0,698.7 1546.0,697.3 1549.0,697.3 1549.0,697.3 1552.0,697.3 1552.0,696.2 1555.0,696.2 1555.0,698.1 1558.0,698.1 1558.0,696.9 1561.0,696.9 1561.0,694.1 1564.0,694.1 1564.0,696.2 1567.0,696.2 1567.0,692.7 1570.0,692.7 1570.0,693.2 1573.0,693.2 1573.0,693.1 1576.0,693.1 1576.0,691.1 1579.0,691.1 1579.0,689.7 1582.0,689.7 1582.0,690.4 1585.0,690.4 1585.0,690.1 1588.0,690.1 1588.0,687.7 1591.0,687.7 1591.0,689.3 1594.0,689.3 1594.0,686.7 1597.0,686.7 1597.0,684.0 1600.0,684.0 1600.0,685.1 1603.0,685.1 1603.0,683.0 1606.0,683.0 1606.0,683.5 1609.0,683.5 1609.0,683.3 1612.0,683.3 1612.0,682.5 1615.0,682.5 1615.0,683.4 1618.0,683.4 1618.0,680.8 1621.0,680.8 1621.0,680.4 1624.0,680.4 1624.0,678.3 1627.0,678.3 1627.0,675.5 1630.0,675.5 1630.0,675.7 1633.0,675.7 1633.0,675.5 1636.0,675.5 1636.0,670.4 1639.0,670.4 1639.0,673.3 1642.0,673.3 1642.0,672.3 1645.0,672.3 1645.0,672.1 1648.0,672.1 1648.0,670.0 1651.0,670.0 1651.0,670.0 1654.0,670.0 1654.0,667.4 1657.0,667.4 1657.0,665.7 1660.0,665.7 1660.0,666.1 1663.0,666.1 1663.0,662.8 1666.0,662.8 1666.0,665.2 1669.0,665.2 1669.0,660.6 1672.0,660.6 1672.0,663.4 1675.0,663.4 1675.0,659.5 1678.0,659.5 1678.0,658.7 1681.0,658.7 1681.0,656.9 1684.0,656.9 1684.0,657.0 1687.0,657.0 1687.0,656.5 1690.0,656.5 1690.0,653.2 1693.0,653.2 1693.0,651.8 1696.0,651.8 1696.0,653.4 1699.0,653.4 1699.0,650.4 1702.0,650.4 1702.0,652.7 1705.0,652.7 1705.0,652.8 1708.0,652.8 1708.0,649.8 1711.0,649.8 1711.0,654.7 1714.0,654.7 1714.0,649.6 1717.0,649.6 1717.0,647.8 1720.0,647.8 1720.0,651.6 1723.0,651.6 1723.0,649.2 1726.0,649.2 1726.0,647.5 1729.0,647.5 1729.0,647.8 1732.0,647.8 1732.0,649.5 1735.0,649.5 1735.0,649.4 1738.0,649.4 1738.0,646.7 1741.0,646.7 1741.0,644.8 1744.0,644.8 1744.0,645.2 1747.0,645.2 1747.0,646.7 1750.0,646.7 1750.0,645.4 1753.0,645.4 1753.0,645.4 1756.0,645.4 1756.0,645.0 1759.0,645.0 1759.0,646.3 1762.0,646.3 1762.0,643.1 1765.0,643.1 1765.0,642.9 1768.0,642.9 1768.0,639.4 1771.0,639.4 1771.0,641.4 1774.0,641.4 1774.0,638.3 1777.0,638.3 1777.0,638.7 1780.0,638.7 1780.0,638.9 1783.0,638.9 1783.0,636.7 1786.0,636.7 1786.0,636.0 1789.0,636.0 1789.0,631.0 1792.0,631.0 1792.0,631.3 1795.0,631.3 1795.0,629.8 1798.0,629.8 1798.0,627.4 1801.0,627.4 1801.0,626.2 1804.0,626.2 1804.0,623.4 1807.0,623.4 1807.0,624.3 1810.0,624.3 1810.0,621.5 1813.0,621.5 1813.0,621.0 1816.0,621.0 1816.0,621.9 1819.0,621.9 1819.0,621.7 1822.0,621.7 1822.0,620.2 1825.0,620.2 1825.0,616.9 1828.0,616.9 1828.0,617.7 1831.0,617.7 1831.0,617.3 1834.0,617.3 1834.0,618.1 1837.0,618.1 1837.0,620.3 1840.0,620.3 1840.0,619.8 1843.0,619.8 1843.0,616.6 1846.0,616.6 1846.0,619.0 1849.0,619.0 1849.0,619.1 1852.0,619.1 1852.0,618.0 1855.0,618.0 1855.0,618.8 1858.0,618.8 1858.0,621.7 1861.0,621.7 1861.0,620.5 1864.0,620.5 1864.0,621.3 1867.0,621.3 1867.0,621.6 1870.0,621.6 1870.0,617.9 1873.0,617.9 1873.0,623.2 1876.0,623.2 1876.0,624.5 1879.0,624.5 1879.0,626.3 1882.0,626.3 1882.0,627.0 1885.0,627.0 1885.0,622.4 1888.0,622.4 1888.0,623.8 1891.0,623.8 1891.0,623.1 1894.0,623.1 1894.0,624.2 1897.0,624.2 1897.0,621.9 1900.0,621.9 1900.0,623.3 1903.0,623.3 1903.0,623.3 1906.0,623.3 1906.0,622.6 1909.0,622.6 1909.0,621.7 1912.0,621.7 1912.0,622.0 1915.0,622.0 1915.0,619.5 1918.0,619.5 1918.0,618.4 1921.0,618.4 1921.0,618.1 1924.0,618.1 1924.0,616.9 1927.0,616.9 1927.0,617.2 1930.0,617.2 1930.0,617.5 1933.0,617.5 1933.0,615.3 1936.0,615.3 1936.0,612.6 1939.0,612.6 1939.0,612.2 1942.0,612.2 1942.0,614.8 1945.0,614.8 1945.0,614.6 1948.0,614.6 1948.0,614.1 1951.0,614.1 1951.0,609.2 1954.0,609.2 1954.0,613.6 1957.0,613.6 1957.0,615.9 1960.0,615.9 1960.0,611.6 1963.0,611.6 1963.0,610.9 1966.0,610.9 1966.0,612.3 1969.0,612.3 1969.0,609.2 1972.0,609.2 1972.0,608.2 1975.0,608.2 1973.5,611.2 1975.0,611.2 1975.0,625.4 1973.5,625.4 1975.0,624.6 1972.0,624.6 1972.0,626.6 1969.0,626.6 1969.0,627.2 1966.0,627.2 1966.0,627.1 1963.0,627.1 1963.0,628.1 1960.0,628.1 1960.0,627.7 1957.0,627.7 1957.0,626.3 1954.0,626.3 1954.0,626.2 1951.0,626.2 1951.0,628.2 1948.0,628.2 1948.0,626.2 1945.0,626.2 1945.0,630.4 1942.0,630.4 1942.0,628.3 1939.0,628.3 1939.0,632.3 1936.0,632.3 1936.0,631.6 1933.0,631.6 1933.0,631.9 1930.0,631.9 1930.0,633.1 1927.0,633.1 1927.0,631.7 1924.0,631.7 1924.0,633.0 1921.0,633.0 1921.0,634.1 1918.0,634.1 1918.0,632.5 1915.0,632.5 1915.0,636.1 1912.0,636.1 1912.0,635.7 1909.0,635.7 1909.0,637.1 1906.0,637.1 1906.0,635.7 1903.0,635.7 1903.0,638.8 1900.0,638.8 1900.0,637.6 1897.0,637.6 1897.0,640.5 1894.0,640.5 1894.0,640.0 1891.0,640.0 1891.0,639.1 1888.0,639.1 1888.0,636.8 1885.0,636.8 1885.0,637.2 1882.0,637.2 1882.0,638.1 1879.0,638.1 1879.0,639.1 1876.0,639.1 1876.0,638.4 1873.0,638.4 1873.0,639.4 1870.0,639.4 1870.0,640.1 1867.0,640.1 1867.0,635.3 1864.0,635.3 1864.0,634.2 1861.0,634.2 1861.0,633.6 1858.0,633.6 1858.0,633.1 1855.0,633.1 1855.0,633.6 1852.0,633.6 1852.0,635.6 1849.0,635.6 1849.0,633.6 1846.0,633.6 1846.0,632.9 1843.0,632.9 1843.0,632.1 1840.0,632.1 1840.0,632.5 1837.0,632.5 1837.0,633.7 1834.0,633.7 1834.0,634.4 1831.0,634.4 1831.0,635.4 1828.0,635.4 1828.0,634.3 1825.0,634.3 1825.0,635.6 1822.0,635.6 1822.0,635.0 1819.0,635.0 1819.0,633.3 1816.0,633.3 1816.0,636.2 1813.0,636.2 1813.0,635.0 1810.0,635.0 1810.0,636.1 1807.0,636.1 1807.0,640.0 1804.0,640.0 1804.0,642.5 1801.0,642.5 1801.0,645.9 1798.0,645.9 1798.0,644.9 1795.0,644.9 1795.0,648.9 1792.0,648.9 1792.0,647.1 1789.0,647.1 1789.0,651.2 1786.0,651.2 1786.0,655.2 1783.0,655.2 1783.0,651.6 1780.0,651.6 1780.0,654.8 1777.0,654.8 1777.0,657.4 1774.0,657.4 1774.0,656.3 1771.0,656.3 1771.0,659.6 1768.0,659.6 1768.0,656.2 1765.0,656.2 1765.0,658.7 1762.0,658.7 1762.0,662.9 1759.0,662.9 1759.0,659.0 1756.0,659.0 1756.0,658.1 1753.0,658.1 1753.0,661.9 1750.0,661.9 1750.0,660.1 1747.0,660.1 1747.0,663.1 1744.0,663.1 1744.0,661.6 1741.0,661.6 1741.0,660.1 1738.0,660.1 1738.0,662.3 1735.0,662.3 1735.0,664.6 1732.0,664.6 1732.0,661.2 1729.0,661.2 1729.0,662.3 1726.0,662.3 1726.0,662.1 1723.0,662.1 1723.0,663.1 1720.0,663.1 1720.0,664.4 1717.0,664.4 1717.0,664.1 1714.0,664.1 1714.0,661.7 1711.0,661.7 1711.0,667.7 1708.0,667.7 1708.0,669.2 1705.0,669.2 1705.0,667.4 1702.0,667.4 1702.0,666.1 1699.0,666.1 1699.0,667.7 1696.0,667.7 1696.0,671.5 1693.0,671.5 1693.0,668.6 1690.0,668.6 1690.0,672.4 1687.0,672.4 1687.0,673.6 1684.0,673.6 1684.0,673.0 1681.0,673.0 1681.0,676.6 1678.0,676.6 1678.0,672.4 1675.0,672.4 1675.0,676.7 1672.0,676.7 1672.0,677.4 1669.0,677.4 1669.0,677.4 1666.0,677.4 1666.0,679.5 1663.0,679.5 1663.0,679.1 1660.0,679.1 1660.0,682.8 1657.0,682.8 1657.0,682.6 1654.0,682.6 1654.0,680.8 1651.0,680.8 1651.0,682.9 1648.0,682.9 1648.0,686.4 1645.0,686.4 1645.0,685.4 1642.0,685.4 1642.0,686.5 1639.0,686.5 1639.0,687.3 1636.0,687.3 1636.0,691.9 1633.0,691.9 1633.0,690.8 1630.0,690.8 1630.0,693.1 1627.0,693.1 1627.0,693.1 1624.0,693.1 1624.0,694.4 1621.0,694.4 1621.0,696.2 1618.0,696.2 1618.0,694.8 1615.0,694.8 1615.0,698.9 1612.0,698.9 1612.0,698.5 1609.0,698.5 1609.0,699.7 1606.0,699.7 1606.0,697.0 1603.0,697.0 1603.0,699.4 1600.0,699.4 1600.0,699.5 1597.0,699.5 1597.0,702.6 1594.0,702.6 1594.0,700.5 1591.0,700.5 1591.0,703.6 1588.0,703.6 1588.0,703.5 1585.0,703.5 1585.0,706.2 1582.0,706.2 1582.0,705.2 1579.0,705.2 1579.0,707.4 1576.0,707.4 1576.0,705.7 1573.0,705.7 1573.0,708.9 1570.0,708.9 1570.0,709.6 1567.0,709.6 1567.0,710.1 1564.0,710.1 1564.0,711.1 1561.0,711.1 1561.0,708.7 1558.0,708.7 1558.0,708.7 1555.0,708.7 1555.0,711.6 1552.0,711.6 1552.0,711.9 1549.0,711.9 1549.0,712.5 1546.0,712.5 1546.0,712.0 1543.0,712.0 1543.0,714.9 1540.0,714.9 1540.0,715.4 1537.0,715.4 1537.0,713.1 1534.0,713.1 1534.0,720.9 1531.0,720.9 1531.0,721.3 1528.0,721.3 1528.0,718.2 1525.0,718.2 1525.0,718.3 1522.0,718.3 1522.0,719.5 1519.0,719.5 1519.0,720.5 1516.0,720.5 1516.0,720.1 1513.0,720.1 1513.0,722.5 1510.0,722.5 1510.0,725.0 1507.0,725.0 1507.0,720.0 1504.0,720.0 1504.0,724.4 1501.0,724.4 1501.0,723.7 1498.0,723.7 1498.0,724.8 1495.0,724.8 1495.0,724.9 1492.0,724.9 1492.0,728.3 1489.0,728.3 1489.0,727.7 1486.0,727.7 1486.0,727.7 1483.0,727.7 1483.0,728.0 1480.0,728.0 1480.0,729.0 1477.0,729.0 1477.0,730.6 1474.0,730.6 1474.0,730.5 1471.0,730.5 1471.0,731.0 1468.0,731.0 1468.0,728.0 1465.0,728.0 1465.0,733.2 1462.0,733.2 1462.0,732.1 1459.0,732.1 1459.0,731.4 1456.0,731.4 1456.0,728.5 1453.0,728.5 1453.0,728.6 1450.0,728.6 1450.0,732.5 1447.0,732.5 1447.0,733.6 1444.0,733.6 1444.0,734.6 1441.0,734.6 1441.0,732.8 1438.0,732.8 1438.0,734.9 1435.0,734.9 1435.0,733.5 1432.0,733.5 1432.0,733.5 1429.0,733.5 1429.0,732.5 1426.0,732.5 1426.0,734.2 1423.0,734.2 1423.0,737.4 1420.0,737.4 1420.0,734.3 1417.0,734.3 1417.0,735.8 1414.0,735.8 1414.0,737.7 1411.0,737.7 1411.0,740.4 1408.0,740.4 1408.0,740.3 1405.0,740.3 1405.0,740.5 1402.0,740.5 1402.0,737.8 1399.0,737.8 1399.0,737.7 1396.0,737.7 1396.0,739.7 1393.0,739.7 1393.0,740.6 1390.0,740.6 1390.0,744.2 1387.0,744.2 1387.0,740.4 1384.0,740.4 1384.0,740.1 1381.0,740.1 1381.0,742.2 1378.0,742.2 1378.0,744.3 1375.0,744.3 1375.0,741.6 1372.0,741.6 1372.0,745.4 1369.0,745.4 1369.0,740.6 1366.0,740.6 1366.0,745.7 1363.0,745.7 1363.0,744.7 1360.0,744.7 1360.0,744.1 1357.0,744.1 1357.0,743.8 1354.0,743.8 1354.0,746.8 1351.0,746.8 1351.0,746.0 1348.0,746.0 1348.0,749.5 1345.0,749.5 1345.0,747.1 1342.0,747.1 1342.0,748.5 1339.0,748.5 1339.0,749.2 1336.0,749.2 1336.0,747.5 1333.0,747.5 1333.0,746.8 1330.0,746.8 1330.0,746.8 1327.0,746.8 1327.0,749.3 1324.0,749.3 1324.0,752.5 1321.0,752.5 1321.0,752.7 1318.0,752.7 1318.0,751.2 1315.0,751.2 1315.0,753.1 1312.0,753.1 1312.0,754.2 1309.0,754.2 1309.0,750.9 1306.0,750.9 1306.0,753.6 1303.0,753.6 1303.0,751.9 1300.0,751.9 1300.0,752.5 1297.0,752.5 1297.0,755.5 1294.0,755.5 1294.0,751.6 1291.0,751.6 1291.0,754.7 1288.0,754.7 1288.0,754.6 1285.0,754.6 1285.0,754.4 1282.0,754.4 1282.0,755.9 1279.0,755.9 1279.0,756.5 1276.0,756.5 1276.0,755.0 1273.0,755.0 1273.0,757.9 1270.0,757.9 1270.0,759.1 1267.0,759.1 1267.0,756.0 1264.0,756.0 1264.0,758.7 1261.0,758.7 1261.0,756.0 1258.0,756.0 1258.0,757.9 1255.0,757.9 1255.0,756.8 1252.0,756.8 1252.0,760.4 1249.0,760.4 1249.0,760.0 1246.0,760.0 1246.0,759.1 1243.0,759.1 1243.0,762.3 1240.0,762.3 1240.0,760.4 1237.0,760.4 1237.0,756.5 1234.0,756.5 1234.0,758.0 1231.0,758.0 1231.0,758.6 1228.0,758.6 1228.0,758.3 1225.0,758.3 1225.0,759.3 1222.0,759.3 1222.0,761.0 1219.0,761.0 1219.0,756.5 1216.0,756.5 1216.0,763.3 1213.0,763.3 1213.0,758.0 1210.0,758.0 1210.0,760.6 1207.0,760.6 1207.0,758.8 1204.0,758.8 1204.0,763.6 1201.0,763.6 1201.0,758.5 1198.0,758.5 1198.0,757.9 1195.0,757.9 1195.0,761.3 1192.0,761.3 1192.0,762.4 1189.0,762.4 1189.0,758.2 1186.0,758.2 1186.0,760.1 1183.0,760.1 1183.0,758.9 1180.0,758.9 1180.0,759.1 1177.0,759.1 1177.0,758.8 1174.0,758.8 1174.0,759.5 1171.0,759.5 1171.0,759.1 1168.0,759.1 1168.0,761.5 1165.0,761.5 1165.0,759.8 1162.0,759.8 1162.0,762.7 1159.0,762.7 1159.0,761.4 1156.0,761.4 1156.0,758.8 1153.0,758.8 1153.0,757.0 1150.0,757.0 1150.0,759.1 1147.0,759.1 1147.0,759.3 1144.0,759.3 1144.0,760.1 1141.0,760.1 1141.0,756.1 1138.0,756.1 1138.0,754.7 1135.0,754.7 1135.0,752.5 1132.0,752.5 1132.0,747.1 1129.0,747.1 1129.0,745.4 1126.0,745.4 1126.0,740.1 1123.0,740.1 1123.0,733.7 1120.0,733.7 1120.0,723.7 1117.0,723.7 1117.0,715.2 1114.0,715.2 1114.0,702.5 1111.0,702.5 1111.0,684.2 1108.0,684.2 1108.0,674.1 1105.0,674.1 1105.0,661.6 1102.0,661.6 1102.0,650.7 1099.0,650.7 1099.0,648.8 1096.0,648.8 1096.0,649.5 1093.0,649.5 1093.0,651.9 1090.0,651.9 1090.0,653.3 1087.0,653.3 1087.0,655.7 1084.0,655.7 1084.0,660.0 1081.0,660.0 1081.0,667.6 1078.0,667.6 1078.0,671.9 1075.0,671.9 1075.0,680.4 1072.0,680.4 1072.0,685.0 1069.0,685.0 1069.0,693.9 1066.0,693.9 1066.0,698.9 1063.0,698.9 1063.0,706.5 1060.0,706.5 1060.0,713.1 1057.0,713.1 1057.0,718.1 1054.0,718.1 1054.0,722.6 1051.0,722.6 1051.0,724.4 1048.0,724.4 1048.0,725.1 1045.0,725.1 1045.0,727.0 1042.0,727.0 1042.0,729.0 1039.0,729.0 1039.0,729.9 1036.0,729.9 1036.0,729.4 1033.0,729.4 1033.0,732.6 1030.0,732.6 1030.0,731.6 1027.0,731.6 1027.0,731.1 1024.0,731.1 1024.0,732.0 1021.0,732.0 1021.0,733.1 1018.0,733.1 1018.0,733.3 1015.0,733.3 1015.0,730.4 1012.0,730.4 1012.0,730.9 1009.0,730.9 1009.0,728.1 1006.0,728.1 1006.0,721.6 1003.0,721.6 1003.0,719.0 1000.0,719.0 1000.0,716.7 997.0,716.7 997.0,714.1 994.0,714.1 994.0,709.1 991.0,709.1 991.0,707.7 988.0,707.7 988.0,702.5 985.0,702.5 985.0,701.7 982.0,701.7 982.0,697.5 979.0,697.5 979.0,696.1 976.0,696.1 976.0,691.2 973.0,691.2 973.0,685.4 970.0,685.4 970.0,683.0 967.0,683.0 967.0,680.0 964.0,680.0 964.0,677.7 961.0,677.7 961.0,681.6 958.0,681.6 958.0,680.8 955.0,680.8 955.0,684.8 952.0,684.8 952.0,687.6 949.0,687.6 949.0,692.2 946.0,692.2 946.0,694.8 943.0,694.8 943.0,698.5 940.0,698.5 940.0,704.8 937.0,704.8 937.0,709.0 934.0,709.0 934.0,714.2 931.0,714.2 931.0,718.7 928.0,718.7 928.0,721.4 925.0,721.4 925.0,726.2 922.0,726.2 922.0,730.5 919.0,730.5 919.0,731.2 916.0,731.2 916.0,740.5 913.0,740.5 913.0,746.5 910.0,746.5 910.0,755.4 907.0,755.4 907.0,758.0 904.0,758.0 904.0,764.3 901.0,764.3 901.0,767.0 898.0,767.0 898.0,767.6 895.0,767.6 895.0,768.9 892.0,768.9 892.0,773.8 889.0,773.8 889.0,774.1 886.0,774.1 886.0,779.7 883.0,779.7 883.0,782.3 880.0,782.3 880.0,782.5 877.0,782.5 877.0,787.0 874.0,787.0 874.0,788.0 871.0,788.0 871.0,792.0 868.0,792.0 868.0,790.3 865.0,790.3 865.0,791.7 862.0,791.7 862.0,795.3 859.0,795.3 859.0,795.2 856.0,795.2 856.0,795.1 853.0,795.1 853.0,796.8 850.0,796.8 850.0,797.9 847.0,797.9 847.0,796.8 844.0,796.8 844.0,798.2 841.0,798.2 841.0,799.1 838.0,799.1 838.0,798.7 835.0,798.7 835.0,801.0 832.0,801.0 832.0,801.4 829.0,801.4 829.0,801.9 826.0,801.9 826.0,805.9 823.0,805.9 823.0,806.2 820.0,806.2 820.0,809.8 817.0,809.8 817.0,809.8 814.0,809.8 814.0,812.0 811.0,812.0 811.0,813.5 808.0,813.5 808.0,815.7 805.0,815.7 805.0,814.9 802.0,814.9 802.0,815.4 799.0,815.4 799.0,816.9 796.0,816.9 796.0,817.3 793.0,817.3 793.0,818.3 790.0,818.3 790.0,820.9 787.0,820.9 787.0,822.2 784.0,822.2 784.0,821.0 781.0,821.0 781.0,821.2 778.0,821.2 778.0,824.5 775.0,824.5 775.0,823.2 772.0,823.2 772.0,824.0 769.0,824.0 769.0,827.0 766.0,827.0 766.0,828.9 763.0,828.9 763.0,827.2 760.0,827.2 760.0,828.1 757.0,828.1 757.0,829.7 754.0,829.7 754.0,828.8 751.0,828.8 751.0,832.0 748.0,832.0 748.0,832.0 745.0,832.0 745.0,835.0 742.0,835.0 742.0,833.2 739.0,833.2 739.0,835.1 736.0,835.1 736.0,836.0 733.0,836.0 733.0,835.3 730.0,835.3 730.0,837.3 727.0,837.3 727.0,837.6 724.0,837.6 724.0,836.9 721.0,836.9 721.0,841.6 718.0,841.6 718.0,841.0 715.0,841.0 715.0,843.8 712.0,843.8 712.0,841.2 709.0,841.2 709.0,842.6 706.0,842.6 706.0,841.2 703.0,841.2 703.0,842.2 700.0,842.2 700.0,842.4 697.0,842.4 697.0,842.3 694.0,842.3 694.0,844.7 691.0,844.7 691.0,840.0 688.0,840.0 688.0,840.9 685.0,840.9 685.0,840.4 682.0,840.4 682.0,842.1 679.0,842.1 679.0,840.8 676.0,840.8 676.0,841.7 673.0,841.7 673.0,838.6 670.0,838.6 670.0,842.4 667.0,842.4 667.0,842.6 664.0,842.6 664.0,840.7 661.0,840.7 661.0,842.6 658.0,842.6 658.0,846.4 655.0,846.4 655.0,844.6 652.0,844.6 652.0,844.0 649.0,844.0 649.0,845.7 646.0,845.7 646.0,845.6 643.0,845.6 643.0,846.5 640.0,846.5 640.0,850.4 637.0,850.4 637.0,849.4 634.0,849.4 634.0,848.2 631.0,848.2 631.0,850.0 628.0,850.0 628.0,846.4 625.0,846.4 625.0,848.1 622.0,848.1 622.0,851.6 619.0,851.6 619.0,850.6 616.0,850.6 616.0,849.5 613.0,849.5 613.0,851.5 610.0,851.5 610.0,847.8 607.0,847.8 607.0,851.4 604.0,851.4 604.0,850.2 601.0,850.2 601.0,854.1 598.0,854.1 598.0,851.6 595.0,851.6 595.0,851.4 592.0,851.4 592.0,850.9 589.0,850.9 589.0,853.9 586.0,853.9 586.0,853.6 583.0,853.6 583.0,852.3 580.0,852.3 580.0,851.7 577.0,851.7 577.0,852.0 574.0,852.0 574.0,852.4 571.0,852.4 571.0,853.4 568.0,853.4 568.0,853.7 565.0,853.7 565.0,854.5 562.0,854.5 562.0,854.0 559.0,854.0 559.0,854.6 556.0,854.6 556.0,853.9 553.0,853.9 553.0,855.4 550.0,855.4 550.0,857.3 547.0,857.3 547.0,856.2 544.0,856.2 544.0,856.9 541.0,856.9 541.0,856.3 538.0,856.3 538.0,857.3 535.0,857.3 535.0,855.4 532.0,855.4 532.0,860.4 529.0,860.4 529.0,858.1 526.0,858.1 526.0,856.2 523.0,856.2 523.0,856.0 520.0,856.0 520.0,857.9 517.0,857.9 517.0,858.6 514.0,858.6 514.0,858.6 511.0,858.6 511.0,857.7 508.0,857.7 508.0,859.3 505.0,859.3 505.0,861.6 502.0,861.6 502.0,861.6 499.0,861.6 499.0,859.3 496.0,859.3 496.0,860.5 493.0,860.5 493.0,861.7 490.0,861.7 490.0,861.7 487.0,861.7 487.0,863.2 484.0,863.2 484.0,863.9 481.0,863.9 481.0,863.7 478.0,863.7 478.0,859.3 475.0,859.3 475.0,862.4 472.0,862.4 472.0,860.3 469.0,860.3 469.0,863.4 466.0,863.4 466.0,863.3 463.0,863.3 463.0,863.8 460.0,863.8 460.0,861.5 457.0,861.5 457.0,861.8 454.0,861.8 454.0,862.2 451.0,862.2 451.0,862.4 448.0,862.4 448.0,863.3 445.0,863.3 445.0,861.4 442.0,861.4 442.0,862.4 439.0,862.4 439.0,862.2 436.0,862.2 436.0,864.1 433.0,864.1 433.0,862.1 431.5,862.1"/>
<polygon fill="#0000ff" stroke="none" points="431.5,850.3 433.0,850.3 433.0,849.0 436.0,849.0 436.0,849.6 439.0,849.6 439.0,847.7 442.0,847.7 442.0,849.8 445.0,849.8 445.0,847.7 448.0,847.7 448.0,849.0 451.0,849.0 451.0,848.8 454.0,848.8 454.0,848.1 457.0,848.1 457.0,851.3 460.0,851.3 460.0,848.1 463.0,848.1 463.0,849.0 466.0,849.0 466.0,849.5 469.0,849.5 469.0,847.3 472.0,847.3 472.0,849.5 475.0,849.5 475.0,848.0 478.0,848.0 478.0,848.9 481.0,848.9 481.0,847.0 484.0,847.0 484.0,846.7 487.0,846.7 487.0,848.6 490.0,848.6 490.0,847.8 493.0,847.8 493.0,847.3 496.0,847.3 496.0,847.5 499.0,847.5 499.0,847.2 502.0,847.2 502.0,845.5 505.0,845.5 505.0,844.4 508.0,844.4 508.0,844.6 511.0,844.6 511.0,844.3 514.0,844.3 514.0,843.7 517.0,843.7 517.0,844.8 520.0,844.8 520.0,844.7 523.0,844.7 523.0,844.8 526.0,844.8 526.0,844.8 529.0,844.8 529.0,844.0 532.0,844.0 532.0,843.8 535.0,843.8 535.0,843.7 538.0,843.7 538.0,842.4 541.0,842.4 541.0,842.4 544.0,842.4 544.0,842.7 547.0,842.7 547.0,841.7 550.0,841.7 550.0,841.4 553.0,841.4 553.0,841.3 556.0,841.3 556.0,842.1 559.0,842.1 559.0,840.7 562.0,840.7 562.0,839.6 565.0,839.6 565.0,838.9 568.0,838.9 568.0,839.0 571.0,839.0 571.0,841.0 574.0,841.0 574.0,836.0 577.0,836.0 577.0,839.1 580.0,839.1 580.0,838.8 583.0,838.8 583.0,839.2 586.0,839.2 586.0,837.3 589.0,837.3 589.0,840.2 592.0,840.2 592.0,839.1 595.0,839.1 595.0,838.1 598.0,838.1 598.0,838.2 601.0,838.2 601.0,837.3 604.0,837.3 604.0,837.9 607.0,837.9 607.0,837.6 610.0,837.6 610.0,838.4 613.0,838.4 613.0,837.6 616.0,837.6 616.0,837.0 619.0,837.0 619.0,837.5 622.0,837.5 622.0,837.1 625.0,837.1 625.0,836.5 628.0,836.5 628.0,834.6 631.0,834.6 631.0,836.5 634.0,836.5 634.0,834.2 637.0,834.2 637.0,833.9 640.0,833.9 640.0,834.3 643.0,834.3 643.0,834.4 646.0,834.4 646.0,834.8 649.0,834.8 649.0,831.5 652.0,831.5 652.0,833.6 655.0,833.6 655.0,832.9 658.0,832.9 658.0,829.9 661.0,829.9 661.0,829.2 664.0,829.2 664.0,828.1 667.0,828.1 667.0,827.6 670.0,827.6 670.0,826.9 673.0,826.9 673.0,826.6 676.0,826.6 676.0,827.9 679.0,827.9 679.0,828.3 682.0,828.3 682.0,829.7 685.0,829.7 685.0,827.2 688.0,827.2 688.0,826.2 691.0,826.2 691.0,828.2 694.0,828.2 694.0,827.6 697.0,827.6 697.0,828.2 700.0,828.2 700.0,827.3 703.0,827.3 703.0,826.3 706.0,826.3 706.0,826.5 709.0,826.5 709.0,827.6 712.0,827.6 712.0,826.7 715.0,826.7 715.0,825.2 718.0,825.2 718.0,826.5 721.0,826.5 721.0,824.0 724.0,824.0 724.0,824.3 727.0,824.3 727.0,824.5 730.0,824.5 730.0,822.6 733.0,822.6 733.0,822.1 736.0,822.1 736.0,822.3 739.0,822.3 739.0,821.2 742.0,821.2 742.0,820.0 745.0,820.0 745.0,818.7 748.0,818.7 748.0,817.3 751.0,817.3 751.0,816.7 754.0,816.7 754.0,819.2 757.0,819.2 757.0,815.0 760.0,815.0 760.0,816.1 763.0,816.1 763.0,813.3 766.0,813.3 766.0,814.1 769.0,814.1 769.0,813.0 772.0,813.0 772.0,811.3 775.0,811.3 775.0,809.3 778.0,809.3 778.0,807.5 781.0,807.5 781.0,808.6 784.0,808.6 784.0,805.5 787.0,805.5 787.0,804.4 790.0,804.4 790.0,806.0 793.0,806.0 793.0,805.1 796.0,805.1 796.0,803.0 799.0,803.0 799.0,801.9 802.0,801.9 802.0,800.7 805.0,800.7 805.0,800.7 808.0,800.7 808.0,798.9 811.0,798.9 811.0,796.7 814.0,796.7 814.0,795.8 817.0,795.8 817.0,795.1 820.0,795.1 820.0,791.9 823.0,791.9 823.0,790.7 826.0,790.7 826.0,790.0 829.0,790.0 829.0,789.8 832.0,789.8 832.0,787.1 835.0,787.1 835.0,786.0 838.0,786.0 838.0,786.9 841.0,786.9 841.0,783.6 844.0,783.6 844.0,783.3 847.0,783.3 847.0,784.2 850.0,784.2 850.0,783.8 853.0,783.8 853.0,782.6 856.0,782.6 856.0,779.0 859.0,779.0 859.0,781.2 862.0,781.2 862.0,780.1 865.0,780.1 865.0,778.5 868.0,778.5 868.0,777.9 871.0,777.9 871.0,777.2 874.0,777.2 874.0,774.4 877.0,774.4 877.0,771.4 880.0,771.4 880.0,767.6 883.0,767.6 883.0,766.0 886.0,766.0 886.0,762.0 889.0,762.0 889.0,759.4 892.0,759.4 892.0,756.3 895.0,756.3 895.0,755.1 898.0,755.1 898.0,752.7 901.0,752.7 901.0,749.1 904.0,749.1 904.0,743.8 907.0,743.8 907.0,741.0 910.0,741.0 910.0,734.3 913.0,734.3 913.0,723.5 916.0,723.5 916.0,720.6 919.0,720.6 919.0,714.6 922.0,714.6 922.0,712.2 925.0,712.2 925.0,710.4 928.0,710.4 928.0,706.2 931.0,706.2 931.0,700.8 934.0,700.8 934.0,695.1 937.0,695.1 937.0,690.8 940.0,690.8 940.0,684.6 943.0,684.6 943.0,682.9 946.0,682.9 946.0,678.6 949.0,678.6 949.0,675.7 952.0,675.7 952.0,671.4 955.0,671.4 955.0,668.2 958.0,668.2 958.0,667.3 961.0,667.3 961.0,665.4 964.0,665.4 964.0,664.1 967.0,664.1 967.0,667.4 970.0,667.4 970.0,672.1 973.0,672.1 973.0,676.9 976.0,676.9 976.0,681.5 979.0,681.5 979.0,684.5 982.0,684.5 982.0,686.6 985.0,686.6 985.0,690.0 988.0,690.0 988.0,693.3 991.0,693.3 991.0,696.4 994.0,696.4 994.0,697.7 997.0,697.7 997.0,702.2 1000.0,702.2 1000.0,705.2 1003.0,705.2 1003.0,707.5 1006.0,707.5 1006.0,712.3 1009.0,712.3 1009.0,715.4 1012.0,715.4 1012.0,716.9 1015.0,716.9 1015.0,718.2 1018.0,718.2 1018.0,718.5 1021.0,718.5 1021.0,719.2 1024.0,719.2 1024.0,717.8 1027.0,717.8 1027.0,716.8 1030.0,716.8 1030.0,718.3 1033.0,718.3 1033.0,716.8 1036.0,716.8 1036.0,717.3 1039.0,717.3 1039.0,715.0 1042.0,715.0 1042.0,715.7 1045.0,715.7 1045.0,711.9 1048.0,711.9 1048.0,709.4 1051.0,709.4 1051.0,708.3 1054.0,708.3 1054.0,706.7 1057.0,706.7 1057.0,700.5 1060.0,700.5 1060.0,694.5 1063.0,694.5 1063.0,687.3 1066.0,687.3 1066.0,680.9 1069.0,680.9 1069.0,673.0 1072.0,673.0 1072.0,664.0 1075.0,664.0 1075.0,657.9 1078.0,657.9 1078.0,652.1 1081.0,652.1 1081.0,647.3 1084.0,647.3 1084.0,642.9 1087.0,642.9 1087.0,639.7 1090.0,639.7 1090.0,637.9 1093.0,637.9 1093.0,634.0 1096.0,634.0 1096.0,634.5 1099.0,634.5 1099.0,638.3 1102.0,638.3 1102.0,650.3 1105.0,650.3 1105.0,661.2 1108.0,661.2 1108.0,673.1 1111.0,673.1 1111.0,689.3 1114.0,689.3 1114.0,699.7 1117.0,699.7 1117.0,711.4 1120.0,711.4 1120.0,719.5 1123.0,719.5 1123.0,727.4 1126.0,727.4 1126.0,733.1 1129.0,733.1 1129.0,735.5 1132.0,735.5 1132.0,738.1 1135.0,738.1 1135.0,742.5 1138.0,742.5 1138.0,743.0 1141.0,743.0 1141.0,745.2 1144.0,745.2 1144.0,745.0 1147.0,745.0 1147.0,744.8 1150.0,744.8 1150.0,746.6 1153.0,746.6 1153.0,745.7 1156.0,745.7 1156.0,744.3 1159.0,744.3 1159.0,747.6 1162.0,747.6 1162.0,747.3 1165.0,747.3 1165.0,745.9 1168.0,745.9 1168.0,747.8 1171.0,747.8 1171.0,746.3 1174.0,746.3 1174.0,745.8 1177.0,745.8 1177.0,745.2 1180.0,745.2 1180.0,747.2 1183.0,747.2 1183.0,745.8 1186.0,745.8 1186.0,746.0 1189.0,746.0 1189.0,746.2 1192.0,746.2 1192.0,746.1 1195.0,746.1 1195.0,745.5 1198.0,745.5 1198.0,746.4 1201.0,746.4 1201.0,746.2 1204.0,746.2 1204.0,747.4 1207.0,747.4 1207.0,745.1 1210.0,745.1 1210.0,746.5 1213.0,746.5 1213.0,745.0 1216.0,745.0 1216.0,744.4 1219.0,744.4 1219.0,744.9 1222.0,744.9 1222.0,745.2 1225.0,745.2 1225.0,745.4 1228.0,745.4 1228.0,746.1 1231.0,746.1 1231.0,746.0 1234.0,746.0 1234.0,744.6 1237.0,744.6 1237.0,745.5 1240.0,745.5 1240.0,747.6 1243.0,747.6 1243.0,745.9 1246.0,745.9 1246.0,743.7 1249.0,743.7 1249.0,745.8 1252.0,745.8 1252.0,746.9 1255.0,746.9 1255.0,746.1 1258.0,746.1 1258.0,744.7 1261.0,744.7 1261.0,744.5 1264.0,744.5 1264.0,744.5 1267.0,744.5 1267.0,743.3 1270.0,743.3 1270.0,742.6 1273.0,742.6 1273.0,744.2 1276.0,744.2 1276.0,742.0 1279.0,742.0 1279.0,742.9 1282.0,742.9 1282.0,740.3 1285.0,740.3 1285.0,740.6 1288.0,740.6 1288.0,739.9 1291.0,739.9 1291.0,741.0 1294.0,741.0 1294.0,739.7 1297.0,739.7 1297.0,739.3 1300.0,739.3 1300.0,738.7 1303.0,738.7 1303.0,739.2 1306.0,739.2 1306.0,739.6 1309.0,739.6 1309.0,737.8 1312.0,737.8 1312.0,738.5 1315.0,738.5 1315.0,737.5 1318.0,737.5 1318.0,736.6 1321.0,736.6 1321.0,737.0 1324.0,737.0 1324.0,737.4 1327.0,737.4 1327.0,733.4 1330.0,733.4 1330.0,735.9 1333.0,735.9 1333.0,736.4 1336.0,736.4 1336.0,734.2 1339.0,734.2 1339.0,734.6 1342.0,734.6 1342.0,734.3 1345.0,734.3 1345.0,733.4 1348.0,733.4 1348.0,732.8 1351.0,732.8 1351.0,733.3 1354.0,733.3 1354.0,732.7 1357.0,732.7 1357.0,731.5 1360.0,731.5 1360.0,731.5 1363.0,731.5 1363.0,729.7 1366.0,729.7 1366.0,730.0 1369.0,730.0 1369.0,730.0 1372.0,730.0 1372.0,729.4 1375.0,729.4 1375.0,728.5 1378.0,728.5 1378.0,729.9 1381.0,729.9 1381.0,728.7 1384.0,728.7 1384.0,728.7 1387.0,728.7 1387.0,726.4 1390.0,726.4 1390.0,726.7 1393.0,726.7 1393.0,726.1 1396.0,726.1 1396.0,726.0 1399.0,726.0 1399.0,727.2 1402.0,727.2 1402.0,727.4 1405.0,727.4 1405.0,724.7 1408.0,724.7 1408.0,724.3 1411.0,724.3 1411.0,723.2 1414.0,723.2 1414.0,722.3 1417.0,722.3 1417.0,723.1 1420.0,723.1 1420.0,721.4 1423.0,721.4 1423.0,720.3 1426.0,720.3 1426.0,721.4 1429.0,721.4 1429.0,720.3 1432.0,720.3 1432.0,720.4 1435.0,720.4 1435.0,720.0 1438.0,720.0 1438.0,720.3 1441.0,720.3 1441.0,719.7 1444.0,719.7 1444.0,719.7 1447.0,719.7 1447.0,718.6 1450.0,718.6 1450.0,718.3 1453.0,718.3 1453.0,718.5 1456.0,718.5 1456.0,718.1 1459.0,718.1 1459.0,718.0 1462.0,718.0 1462.0,717.6 1465.0,717.6 1465.0,718.8 1468.0,718.8 1468.0,716.3 1471.0,716.3 1471.0,716.5 1474.0,716.5 1474.0,715.8 1477.0,715.8 1477.0,716.4 1480.0,716.4 1480.0,714.0 1483.0,714.0 1483.0,713.1 1486.0,713.1 1486.0,714.8 1489.0,714.8 1489.0,713.8 1492.0,713.8 1492.0,712.7 1495.0,712.7 1495.0,711.3 1498.0,711.3 1498.0,712.5 1501.0,712.5 1501.0,711.2 1504.0,711.2 1504.0,709.6 1507.0,709.6 1507.0,709.1 1510.0,709.1 1510.0,708.3 1513.0,708.3 1513.0,709.4 1516.0,709.4 1516.0,707.2 1519.0,707.2 1519.0,705.7 1522.0,705.7 1522.0,705.3 1525.0,705.3 1525.0,706.0 1528.0,706.0 1528.0,704.7 1531.0,704.7 1531.0,702.7 1534.0,702.7 1534.0,701.5 1537.0,701.5 1537.0,701.3 1540.0,701.3 1540.0,701.3 1543.0,701.3 1543.0,699.9 1546.0,699.9 1546.0,699.1 1549.0,699.1 1549.0,699.0 1552.0,699.0 1552.0,697.8 1555.0,697.8 1555.0,696.7 1558.0,696.7 1558.0,695.8 1561.0,695.8 1561.0,695.6 1564.0,695.6 1564.0,695.2 1567.0,695.2 1567.0,695.4 1570.0,695.4 1570.0,694.6 1573.0,694.6 1573.0,693.1 1576.0,693.1 1576.0,694.1 1579.0,694.1 1579.0,691.2 1582.0,691.2 1582.0,692.3 1585.0,692.3 1585.0,689.4 1588.0,689.4 1588.0,689.1 1591.0,689.1 1591.0,689.0 1594.0,689.0 1594.0,688.0 1597.0,688.0 1597.0,685.5 1600.0,685.5 1600.0,685.6 1603.0,685.6 1603.0,683.9 1606.0,683.9 1606.0,684.2 1609.0,684.2 1609.0,684.2 1612.0,684.2 1612.0,682.8 1615.0,682.8 1615.0,684.0 1618.0,684.0 1618.0,682.4 1621.0,682.4 1621.0,681.8 1624.0,681.8 1624.0,679.7 1627.0,679.7 1627.0,679.0 1630.0,679.0 1630.0,678.3 1633.0,678.3 1633.0,677.6 1636.0,677.6 1636.0,676.3 1639.0,676.3 1639.0,674.1 1642.0,674.1 1642.0,672.5 1645.0,672.5 1645.0,671.0 1648.0,671.0 1648.0,672.9 1651.0,672.9 1651.0,671.0 1654.0,671.0 1654.0,670.2 1657.0,670.2 1657.0,667.8 1660.0,667.8 1660.0,668.7 1663.0,668.7 1663.0,666.3 1666.0,666.3 1666.0,665.1 1669.0,665.1 1669.0,663.4 1672.0,663.4 1672.0,661.6 1675.0,661.6 1675.0,662.6 1678.0,662.6 1678.0,661.1 1681.0,661.1 1681.0,660.0 1684.0,660.0 1684.0,657.8 1687.0,657.8 1687.0,656.1 1690.0,656.1 1690.0,655.9 1693.0,655.9 1693.0,656.8 1696.0,656.8 1696.0,656.8 1699.0,656.8 1699.0,653.6 1702.0,653.6 1702.0,653.2 1705.0,653.2 1705.0,651.4 1708.0,651.4 1708.0,651.4 1711.0,651.4 1711.0,652.1 1714.0,652.1 1714.0,650.7 1717.0,650.7 1717.0,651.1 1720.0,651.1 1720.0,651.7 1723.0,651.7 1723.0,650.1 1726.0,650.1 1726.0,648.8 1729.0,648.8 1729.0,651.0 1732.0,651.0 1732.0,649.7 1735.0,649.7 1735.0,649.0 1738.0,649.0 1738.0,648.7 1741.0,648.7 1741.0,647.8 1744.0,647.8 1744.0,648.3 1747.0,648.3 1747.0,646.1 1750.0,646.1 1750.0,647.0 1753.0,647.0 1753.0,645.6 1756.0,645.6 1756.0,646.2 1759.0,646.2 1759.0,646.4 1762.0,646.4 1762.0,645.1 1765.0,645.1 1765.0,646.3 1768.0,646.3 1768.0,644.0 1771.0,644.0 1771.0,642.7 1774.0,642.7 1774.0,642.8 1777.0,642.8 1777.0,641.7 1780.0,641.7 1780.0,640.8 1783.0,640.8 1783.0,639.4 1786.0,639.4 1786.0,637.8 1789.0,637.8 1789.0,636.7 1792.0,636.7 1792.0,632.2 1795.0,632.2 1795.0,632.0 1798.0,632.0 1798.0,628.6 1801.0,628.6 1801.0,627.2 1804.0,627.2 1804.0,625.3 1807.0,625.3 1807.0,626.2 1810.0,626.2 1810.0,622.2 1813.0,622.2 1813.0,622.0 1816.0,622.0 1816.0,621.8 1819.0,621.8 1819.0,622.0 1822.0,622.0 1822.0,619.5 1825.0,619.5 1825.0,620.6 1828.0,620.6 1828.0,620.8 1831.0,620.8 1831.0,618.8 1834.0,618.8 1834.0,617.3 1837.0,617.3 1837.0,620.4 1840.0,620.4 1840.0,619.6 1843.0,619.6 1843.0,619.9 1846.0,619.9 1846.0,621.1 1849.0,621.1 1849.0,621.1 1852.0,621.1 1852.0,620.1 1855.0,620.1 1855.0,621.2 1858.0,621.2 1858.0,620.9 1861.0,620.9 1861.0,622.8 1864.0,622.8 1864.0,623.1 1867.0,623.1 1867.0,624.3 1870.0,624.3 1870.0,623.8 1873.0,623.8 1873.0,624.8 1876.0,624.8 1876.0,625.2 1879.0,625.2 1879.0,625.6 1882.0,625.6 1882.0,625.3 1885.0,625.3 1885.0,623.6 1888.0,623.6 1888.0,625.9 1891.0,625.9 1891.0,624.4 1894.0,624.4 1894.0,626.3 1897.0,626.3 1897.0,625.0 1900.0,625.0 1900.0,624.5 1903.0,624.5 1903.0,623.4 1906.0,623.4 1906.0,624.9 1909.0,624.9 1909.0,622.0 1912.0,622.0 1912.0,623.4 1915.0,623.4 1915.0,622.9 1918.0,622.9 1918.0,623.5 1921.0,623.5 1921.0,621.0 1924.0,621.0 1924.0,618.9 1927.0,618.9 1927.0,617.4 1930.0,617.4 1930.0,617.0 1933.0,617.0 1933.0,615.8 1936.0,615.8 1936.0,617.9 1939.0,617.9 1939.0,616.6 1942.0,616.6 1942.0,614.9 1945.0,614.9 1945.0,616.1 1948.0,616.1 1948.0,615.1 1951.0,615.1 1951.0,615.5 1954.0,615.5 1954.0,614.5 1957.0,614.5 1957.0,612.7 1960.0,612.7 1960.0,613.4 1963.0,613.4 1963.0,613.7 1966.0,613.7 1966.0,612.5 1969.0,612.5 1969.0,612.0 1972.0,612.0 1972.0,610.3 1975.0,610.3 1973.5,610.6 1975.0,610.6 1975.0,622.8 1973.5,622.8 1975.0,622.9 1972.0,622.9 1972.0,622.5 1969.0,622.5 1969.0,624.4 1966.0,624.4 1966.0,625.2 1963.0,625.2 1963.0,623.6 1960.0,623.6 1960.0,623.8 1957.0,623.8 1957.0,625.6 1954.0,625.6 1954.0,624.5 1951.0,624.5 1951.0,625.9 1948.0,625.9 1948.0,627.6 1945.0,627.6 1945.0,628.1 1942.0,628.1 1942.0,627.6 1939.0,627.6 1939.0,627.4 1936.0,627.4 1936.0,629.3 1933.0,629.3 1933.0,629.3 1930.0,629.3 1930.0,629.1 1927.0,629.1 1927.0,630.3 1924.0,630.3 1924.0,632.0 1921.0,632.0 1921.0,633.3 1918.0,633.3 1918.0,634.1 1915.0,634.1 1915.0,632.9 1912.0,632.9 1912.0,635.0 1909.0,635.0 1909.0,635.6 1906.0,635.6 1906.0,636.2 1903.0,636.2 1903.0,636.2 1900.0,636.2 1900.0,635.3 1897.0,635.3 1897.0,638.1 1894.0,638.1 1894.0,637.6 1891.0,637.6 1891.0,637.2 1888.0,637.2 1888.0,638.8 1885.0,638.8 1885.0,638.8 1882.0,638.8 1882.0,635.8 1879.0,635.8 1879.0,637.6 1876.0,637.6 1876.0,637.2 1873.0,637.2 1873.0,636.8 1870.0,636.8 1870.0,636.0 1867.0,636.0 1867.0,634.1 1864.0,634.1 1864.0,634.6 1861.0,634.6 1861.0,632.8 1858.0,632.8 1858.0,634.1 1855.0,634.1 1855.0,632.0 1852.0,632.0 1852.0,632.3 1849.0,632.3 1849.0,630.8 1846.0,630.8 1846.0,631.4 1843.0,631.4 1843.0,631.8 1840.0,631.8 1840.0,629.3 1837.0,629.3 1837.0,631.2 1834.0,631.2 1834.0,629.9 1831.0,629.9 1831.0,631.5 1828.0,631.5 1828.0,632.9 1825.0,632.9 1825.0,631.4 1822.0,631.4 1822.0,632.2 1819.0,632.2 1819.0,635.2 1816.0,635.2 1816.0,635.0 1813.0,635.0 1813.0,634.6 1810.0,634.6 1810.0,636.1 1807.0,636.1 1807.0,637.6 1804.0,637.6 1804.0,638.8 1801.0,638.8 1801.0,640.6 1798.0,640.6 1798.0,643.6 1795.0,643.6 1795.0,645.9 1792.0,645.9 1792.0,649.1 1789.0,649.1 1789.0,650.4 1786.0,650.4 1786.0,652.1 1783.0,652.1 1783.0,651.5 1780.0,651.5 1780.0,652.0 1777.0,652.0 1777.0,653.2 1774.0,653.2 1774.0,654.5 1771.0,654.5 1771.0,654.3 1768.0,654.3 1768.0,657.3 1765.0,657.3 1765.0,657.6 1762.0,657.6 1762.0,658.4 1759.0,658.4 1759.0,658.0 1756.0,658.0 1756.0,658.8 1753.0,658.8 1753.0,657.6 1750.0,657.6 1750.0,658.8 1747.0,658.8 1747.0,658.5 1744.0,658.5 1744.0,660.2 1741.0,660.2 1741.0,660.9 1738.0,660.9 1738.0,660.0 1735.0,660.0 1735.0,661.0 1732.0,661.0 1732.0,661.3 1729.0,661.3 1729.0,662.7 1726.0,662.7 1726.0,660.6 1723.0,660.6 1723.0,661.5 1720.0,661.5 1720.0,662.7 1717.0,662.7 1717.0,665.5 1714.0,665.5 1714.0,662.7 1711.0,662.7 1711.0,664.4 1708.0,664.4 1708.0,664.5 1705.0,664.5 1705.0,664.2 1702.0,664.2 1702.0,666.1 1699.0,666.1 1699.0,667.6 1696.0,667.6 1696.0,668.7 1693.0,668.7 1693.0,668.2 1690.0,668.2 1690.0,669.9 1687.0,669.9 1687.0,671.7 1684.0,671.7 1684.0,670.8 1681.0,670.8 1681.0,671.9 1678.0,671.9 1678.0,673.6 1675.0,673.6 1675.0,675.7 1672.0,675.7 1672.0,674.9 1669.0,674.9 1669.0,676.9 1666.0,676.9 1666.0,678.2 1663.0,678.2 1663.0,679.1 1660.0,679.1 1660.0,679.4 1657.0,679.4 1657.0,681.8 1654.0,681.8 1654.0,681.8 1651.0,681.8 1651.0,681.6 1648.0,681.6 1648.0,682.5 1645.0,682.5 1645.0,685.1 1642.0,685.1 1642.0,685.8 1639.0,685.8 1639.0,686.8 1636.0,686.8 1636.0,690.6 1633.0,690.6 1633.0,688.8 1630.0,688.8 1630.0,691.0 1627.0,691.0 1627.0,692.7 1624.0,692.7 1624.0,693.7 1621.0,693.7 1621.0,693.9 1618.0,693.9 1618.0,692.5 1615.0,692.5 1615.0,694.8 1612.0,694.8 1612.0,694.8 1609.0,694.8 1609.0,695.4 1606.0,695.4 1606.0,695.6 1603.0,695.6 1603.0,696.3 1600.0,696.3 1600.0,698.4 1597.0,698.4 1597.0,700.0 1594.0,700.0 1594.0,700.4 1591.0,700.4 1591.0,702.1 1588.0,702.1 1588.0,703.1 1585.0,703.1 1585.0,703.5 1582.0,703.5 1582.0,704.1 1579.0,704.1 1579.0,705.9 1576.0,705.9 1576.0,704.4 1573.0,704.4 1573.0,706.8 1570.0,706.8 1570.0,707.5 1567.0,707.5 1567.0,707.5 1564.0,707.5 1564.0,707.6 1561.0,707.6 1561.0,710.1 1558.0,710.1 1558.0,709.3 1555.0,709.3 1555.0,709.5 1552.0,709.5 1552.0,711.8 1549.0,711.8 1549.0,710.7 1546.0,710.7 1546.0,712.6 1543.0,712.6 1543.0,712.3 1540.0,712.3 1540.0,713.6 1537.0,713.6 1537.0,716.1 1534.0,716.1 1534.0,715.7 1531.0,715.7 1531.0,716.1 1528.0,716.1 1528.0,717.9 1525.0,717.9 1525.0,718.7 1522.0,718.7 1522.0,719.3 1519.0,719.3 1519.0,719.0 1516.0,719.0 1516.0,720.1 1513.0,720.1 1513.0,721.6 1510.0,721.6 1510.0,721.2 1507.0,721.2 1507.0,722.3 1504.0,722.3 1504.0,720.4 1501.0,720.4 1501.0,724.1 1498.0,724.1 1498.0,724.4 1495.0,724.4 1495.0,723.5 1492.0,723.5 1492.0,723.5 1489.0,723.5 1489.0,725.5 1486.0,725.5 1486.0,726.6 1483.0,726.6 1483.0,725.9 1480.0,725.9 1480.0,727.0 1477.0,727.0 1477.0,728.2 1474.0,728.2 1474.0,728.8 1471.0,728.8 1471.0,728.6 1468.0,728.6 1468.0,727.4 1465.0,727.4 1465.0,730.7 1462.0,730.7 1462.0,727.2 1459.0,727.2 1459.0,729.1 1456.0,729.1 1456.0,729.7 1453.0,729.7 1453.0,730.4 1450.0,730.4 1450.0,733.2 1447.0,733.2 1447.0,730.5 1444.0,730.5 1444.0,732.1 1441.0,732.1 1441.0,730.9 1438.0,730.9 1438.0,732.8 1435.0,732.8 1435.0,730.2 1432.0,730.2 1432.0,732.8 1429.0,732.8 1429.0,732.2 1426.0,732.2 1426.0,732.7 1423.0,732.7 1423.0,732.4 1420.0,732.4 1420.0,735.0 1417.0,735.0 1417.0,732.9 1414.0,732.9 1414.0,734.9 1411.0,734.9 1411.0,736.9 1408.0,736.9 1408.0,736.7 1405.0,736.7 1405.0,736.7 1402.0,736.7 1402.0,737.0 1399.0,737.0 1399.0,738.9 1396.0,738.9 1396.0,739.0 1393.0,739.0 1393.0,738.9 1390.0,738.9 1390.0,739.4 1387.0,739.4 1387.0,739.4 1384.0,739.4 1384.0,740.1 1381.0,740.1 1381.0,739.5 1378.0,739.5 1378.0,740.9 1375.0,740.9 1375.0,742.4 1372.0,742.4 1372.0,742.4 1369.0,742.4 1369.0,743.1 1366.0,743.1 1366.0,744.0 1363.0,744.0 1363.0,742.7 1360.0,742.7 1360.0,742.4 1357.0,742.4 1357.0,744.6 1354.0,744.6 1354.0,742.4 1351.0,742.4 1351.0,743.9 1348.0,743.9 1348.0,747.5 1345.0,747.5 1345.0,745.0 1342.0,745.0 1342.0,744.6 1339.0,744.6 1339.0,745.6 1336.0,745.6 1336.0,747.3 1333.0,747.3 1333.0,744.9 1330.0,744.9 1330.0,748.7 1327.0,748.7 1327.0,748.5 1324.0,748.5 1324.0,750.5 1321.0,750.5 1321.0,748.7 1318.0,748.7 1318.0,751.1 1315.0,751.1 1315.0,748.8 1312.0,748.8 1312.0,750.3 1309.0,750.3 1309.0,751.3 1306.0,751.3 1306.0,752.0 1303.0,752.0 1303.0,748.8 1300.0,748.8 1300.0,750.6 1297.0,750.6 1297.0,753.6 1294.0,753.6 1294.0,753.4 1291.0,753.4 1291.0,753.6 1288.0,753.6 1288.0,754.0 1285.0,754.0 1285.0,751.9 1282.0,751.9 1282.0,754.4 1279.0,754.4 1279.0,755.4 1276.0,755.4 1276.0,755.6 1273.0,755.6 1273.0,756.1 1270.0,756.1 1270.0,755.8 1267.0,755.8 1267.0,756.4 1264.0,756.4 1264.0,757.2 1261.0,757.2 1261.0,757.6 1258.0,757.6 1258.0,755.9 1255.0,755.9 1255.0,757.3 1252.0,757.3 1252.0,758.3 1249.0,758.3 1249.0,757.7 1246.0,757.7 1246.0,758.0 1243.0,758.0 1243.0,759.2 1240.0,759.2 1240.0,758.3 1237.0,758.3 1237.0,756.9 1234.0,756.9 1234.0,759.5 1231.0,759.5 1231.0,756.1 1228.0,756.1 1228.0,758.4 1225.0,758.4 1225.0,757.9 1222.0,757.9 1222.0,757.5 1219.0,757.5 1219.0,756.3 1216.0,756.3 1216.0,756.3 1213.0,756.3 1213.0,759.0 1210.0,759.0 1210.0,755.6 1207.0,755.6 1207.0,760.7 1204.0,760.7 1204.0,758.4 1201.0,758.4 1201.0,759.4 1198.0,759.4 1198.0,759.3 1195.0,759.3 1195.0,758.1 1192.0,758.1 1192.0,758.2 1189.0,758.2 1189.0,758.5 1186.0,758.5 1186.0,757.7 1183.0,757.7 1183.0,759.4 1180.0,759.4 1180.0,758.1 1177.0,758.1 1177.0,758.2 1174.0,758.2 1174.0,758.0 1171.0,758.0 1171.0,759.2 1168.0,759.2 1168.0,760.1 1165.0,760.1 1165.0,756.6 1162.0,756.6 1162.0,758.3 1159.0,758.3 1159.0,759.3 1156.0,759.3 1156.0,757.9 1153.0,757.9 1153.0,758.8 1150.0,758.8 1150.0,757.2 1147.0,757.2 1147.0,756.3 1144.0,756.3 1144.0,755.5 1141.0,755.5 1141.0,755.0 1138.0,755.0 1138.0,752.2 1135.0,752.2 1135.0,748.4 1132.0,748.4 1132.0,746.5 1129.0,746.5 1129.0,742.4 1126.0,742.4 1126.0,738.3 1123.0,738.3 1123.0,731.6 1120.0,731.6 1120.0,723.4 1117.0,723.4 1117.0,711.8 1114.0,711.8 1114.0,701.0 1111.0,701.0 1111.0,685.2 1108.0,685.2 1108.0,671.9 1105.0,671.9 1105.0,661.3 1102.0,661.3 1102.0,651.2 1099.0,651.2 1099.0,645.8 1096.0,645.8 1096.0,647.5 1093.0,647.5 1093.0,649.0 1090.0,649.0 1090.0,653.3 1087.0,653.3 1087.0,654.9 1084.0,654.9 1084.0,658.5 1081.0,658.5 1081.0,666.5 1078.0,666.5 1078.0,671.2 1075.0,671.2 1075.0,677.7 1072.0,677.7 1072.0,685.6 1069.0,685.6 1069.0,690.5 1066.0,690.5 1066.0,696.6 1063.0,696.6 1063.0,706.2 1060.0,706.2 1060.0,713.8 1057.0,713.8 1057.0,717.0 1054.0,717.0 1054.0,719.8 1051.0,719.8 1051.0,724.0 1048.0,724.0 1048.0,725.6 1045.0,725.6 1045.0,726.9 1042.0,726.9 1042.0,729.3 1039.0,729.3 1039.0,727.9 1036.0,727.9 1036.0,729.9 1033.0,729.9 1033.0,729.8 1030.0,729.8 1030.0,731.3 1027.0,731.3 1027.0,731.3 1024.0,731.3 1024.0,730.8 1021.0,730.8 1021.0,729.8 1018.0,729.8 1018.0,731.6 1015.0,731.6 1015.0,729.0 1012.0,729.0 1012.0,727.7 1009.0,727.7 1009.0,724.3 1006.0,724.3 1006.0,722.2 1003.0,722.2 1003.0,716.5 1000.0,716.5 1000.0,712.7 997.0,712.7 997.0,711.4 994.0,711.4 994.0,707.0 991.0,707.0 991.0,705.5 988.0,705.5 988.0,701.5 985.0,701.5 985.0,697.7 982.0,697.7 982.0,697.5 979.0,697.5 979.0,692.2 976.0,692.2 976.0,687.6 973.0,687.6 973.0,685.3 970.0,685.3 970.0,679.3 967.0,679.3 967.0,676.8 964.0,676.8 964.0,677.2 961.0,677.2 961.0,679.6 958.0,679.6 958.0,681.2 955.0,681.2 955.0,682.9 952.0,682.9 952.0,687.2 949.0,687.2 949.0,691.5 946.0,691.5 946.0,695.0 943.0,695.0 943.0,696.4 940.0,696.4 940.0,702.2 937.0,702.2 937.0,708.2 934.0,708.2 934.0,713.5 931.0,713.5 931.0,718.5 928.0,718.5 928.0,721.4 925.0,721.4 925.0,724.2 922.0,724.2 922.0,729.6 919.0,729.6 919.0,731.4 916.0,731.4 916.0,736.7 913.0,736.7 913.0,747.7 910.0,747.7 910.0,752.5 907.0,752.5 907.0,757.1 904.0,757.1 904.0,760.7 901.0,760.7 901.0,764.2 898.0,764.2 898.0,765.6 895.0,765.6 895.0,769.0 892.0,769.0 892.0,772.2 889.0,772.2 889.0,774.2 886.0,774.2 886.0,778.3 883.0,778.3 883.0,780.3 880.0,780.3 880.0,782.4 877.0,782.4 877.0,787.2 874.0,787.2 874.0,787.7 871.0,787.7 871.0,789.2 868.0,789.2 868.0,791.1 865.0,791.1 865.0,789.6 862.0,789.6 862.0,792.9 859.0,792.9 859.0,792.5 856.0,792.5 856.0,794.3 853.0,794.3 853.0,795.0 850.0,795.0 850.0,796.2 847.0,796.2 847.0,796.6 844.0,796.6 844.0,798.2 841.0,798.2 841.0,798.4 838.0,798.4 838.0,797.9 835.0,797.9 835.0,799.0 832.0,799.0 832.0,799.2 829.0,799.2 829.0,802.5 826.0,802.5 826.0,802.1 823.0,802.1 823.0,805.1 820.0,805.1 820.0,805.8 817.0,805.8 817.0,809.8 814.0,809.8 814.0,807.8 811.0,807.8 811.0,810.6 808.0,810.6 808.0,813.2 805.0,813.2 805.0,813.4 802.0,813.4 802.0,814.7 799.0,814.7 799.0,815.2 796.0,815.2 796.0,814.5 793.0,814.5 793.0,817.4 790.0,817.4 790.0,819.0 787.0,819.0 787.0,819.0 784.0,819.0 784.0,819.1 781.0,819.1 781.0,821.3 778.0,821.3 778.0,822.5 775.0,822.5 775.0,822.2 772.0,822.2 772.0,824.5 769.0,824.5 769.0,824.3 766.0,824.3 766.0,826.8 763.0,826.8 763.0,828.5 760.0,828.5 760.0,826.2 757.0,826.2 757.0,827.9 754.0,827.9 754.0,829.4 751.0,829.4 751.0,828.2 748.0,828.2 748.0,830.3 745.0,830.3 745.0,830.5 742.0,830.5 742.0,833.4 739.0,833.4 739.0,834.3 736.0,834.3 736.0,835.2 733.0,835.2 733.0,835.7 730.0,835.7 730.0,835.5 727.0,835.5 727.0,837.1 724.0,837.1 724.0,838.4 721.0,838.4 721.0,837.4 718.0,837.4 718.0,837.9 715.0,837.9 715.0,839.0 712.0,839.0 712.0,839.7 709.0,839.7 709.0,837.3 706.0,837.3 706.0,838.2 703.0,838.2 703.0,838.2 700.0,838.2 700.0,838.9 697.0,838.9 697.0,839.0 694.0,839.0 694.0,839.9 691.0,839.9 691.0,839.4 688.0,839.4 688.0,840.1 685.0,840.1 685.0,839.7 682.0,839.7 682.0,837.1 679.0,837.1 679.0,839.4 676.0,839.4 676.0,839.1 673.0,839.1 673.0,841.0 670.0,841.0 670.0,840.3 667.0,840.3 667.0,840.3 664.0,840.3 664.0,840.3 661.0,840.3 661.0,841.3 658.0,841.3 658.0,842.5 655.0,842.5 655.0,843.4 652.0,843.4 652.0,844.5 649.0,844.5 649.0,845.1 646.0,845.1 646.0,844.9 643.0,844.9 643.0,847.1 640.0,847.1 640.0,847.9 637.0,847.9 637.0,847.3 634.0,847.3 634.0,847.9 631.0,847.9 631.0,847.4 628.0,847.4 628.0,846.9 625.0,846.9 625.0,848.2 622.0,848.2 622.0,848.9 619.0,848.9 619.0,850.6 616.0,850.6 616.0,848.3 613.0,848.3 613.0,850.1 610.0,850.1 610.0,850.6 607.0,850.6 607.0,849.3 604.0,849.3 604.0,849.6 601.0,849.6 601.0,851.0 598.0,851.0 598.0,850.9 595.0,850.9 595.0,849.9 592.0,849.9 592.0,850.4 589.0,850.4 589.0,848.6 586.0,848.6 586.0,849.3 583.0,849.3 583.0,850.5 580.0,850.5 580.0,850.3 577.0,850.3 577.0,850.7 574.0,850.7 574.0,850.1 571.0,850.1 571.0,849.5 568.0,849.5 568.0,851.3 565.0,851.3 565.0,851.7 562.0,851.7 562.0,853.3 559.0,853.3 559.0,851.3 556.0,851.3 556.0,853.0 553.0,853.0 553.0,854.4 550.0,854.4 550.0,854.7 547.0,854.7 547.0,854.6 544.0,854.6 544.0,853.6 541.0,853.6 541.0,855.2 538.0,855.2 538.0,852.1 535.0,852.1 535.0,855.0 532.0,855.0 532.0,856.9 529.0,856.9 529.0,854.8 526.0,854.8 526.0,856.4 523.0,856.4 523.0,858.6 520.0,858.6 520.0,856.4 517.0,856.4 517.0,858.6 514.0,858.6 514.0,857.3 511.0,857.3 511.0,856.9 508.0,856.9 508.0,858.5 505.0,858.5 505.0,859.8 502.0,859.8 502.0,858.4 499.0,858.4 499.0,859.0 496.0,859.0 496.0,859.2 493.0,859.2 493.0,859.4 490.0,859.4 490.0,858.4 487.0,858.4 487.0,860.6 484.0,860.6 484.0,859.1 481.0,859.1 481.0,860.7 478.0,860.7 478.0,859.0 475.0,859.0 475.0,860.7 472.0,860.7 472.0,860.2 469.0,860.2 469.0,861.5 466.0,861.5 466.0,860.8 463.0,860.8 463.0,861.3 460.0,861.3 460.0,861.3 457.0,861.3 457.0,860.7 454.0,860.7 454.0,859.9 451.0,859.9 451.0,860.6 448.0,860.6 448.0,860.0 445.0,860.0 445.0,862.9 442.0,862.9 442.0,860.8 439.0,860.8 439.0,860.7 436.0,860.7 436.0,862.1 433.0,862.1 433.0,861.8 431.5,861.8"/>
<polyline stroke="#0000ff" stroke-width="8.3" points="431.5,855.2 434.5,855.4 437.5,852.1 440.5,857.6 443.5,852.4 446.5,853.7 449.5,855.6 452.5,852.9 455.5,853.1 458.5,853.3 461.5,855.4 464.5,857.9 467.5,854.5 470.5,852.6 473.5,855.0 476.5,853.1 479.5,853.8 482.5,855.5 485.5,852.4 488.5,853.4 491.5,851.9 494.5,852.8 497.5,853.2 500.5,851.2 503.5,851.9 506.5,851.9 509.5,851.1 512.5,850.0 515.5,849.4 518.5,851.1 521.5,850.7 524.5,854.1 527.5,846.8 530.5,850.4 533.5,850.4 536.5,851.6 539.5,850.0 542.5,847.6 545.5,848.5 548.5,849.0 551.5,847.3 554.5,848.5 557.5,844.0 560.5,848.9 563.5,848.0 566.5,844.8 569.5,846.0 572.5,844.9 575.5,843.5 578.5,844.7 581.5,846.0 584.5,843.8 587.5,843.7 590.5,844.1 593.5,844.8 596.5,846.0 599.5,843.0 602.5,844.6 605.5,844.0 608.5,840.8 611.5,842.8 614.5,843.0 617.5,842.9 620.5,843.2 623.5,839.4 626.5,842.2 629.5,840.8 632.5,839.3 635.5,841.9 638.5,841.8 641.5,839.3 644.5,841.1 647.5,838.8 650.5,839.0 653.5,836.6 656.5,839.7 659.5,832.3 662.5,835.2 665.5,835.6 668.5,831.0 671.5,833.7 674.5,833.9 677.5,835.2 680.5,835.9 683.5,833.4 686.5,831.9 689.5,836.1 692.5,835.8 695.5,833.2 698.5,834.3 701.5,834.1 704.5,834.2 707.5,833.4 710.5,834.8 713.5,829.8 716.5,833.6 719.5,832.2 722.5,830.8 725.5,832.5 728.5,826.7 731.5,831.5 734.5,829.6 737.5,826.5 740.5,827.8 743.5,825.7 746.5,829.0 749.5,826.9 752.5,823.9 755.5,821.3 758.5,820.6 761.5,820.1 764.5,818.9 767.5,817.4 770.5,817.0 773.5,816.4 776.5,815.0 779.5,813.6 782.5,812.2 785.5,816.3 788.5,809.3 791.5,809.0 794.5,810.3 797.5,808.3 800.5,808.7 803.5,808.4 806.5,808.1 809.5,806.3 812.5,802.4 815.5,804.0 818.5,798.1 821.5,799.0 824.5,796.8 827.5,794.2 830.5,795.1 833.5,792.6 836.5,793.4 839.5,788.8 842.5,791.7 845.5,790.6 848.5,789.5 851.5,786.6 854.5,787.7 857.5,785.0 860.5,783.3 863.5,790.4 866.5,785.8 869.5,785.9 872.5,781.2 875.5,781.2 878.5,779.2 881.5,776.1 884.5,771.9 887.5,768.2 890.5,762.7 893.5,764.2 896.5,761.3 899.5,759.6 902.5,754.2 905.5,753.3 908.5,745.4 911.5,738.1 914.5,733.1 917.5,725.3 920.5,720.4 923.5,719.3 926.5,716.5 929.5,711.9 932.5,708.0 935.5,707.9 938.5,697.6 941.5,694.4 944.5,685.4 947.5,685.3 950.5,682.1 953.5,676.9 956.5,673.7 959.5,673.6 962.5,671.1 965.5,670.4 968.5,676.1 971.5,680.9 974.5,683.2 977.5,686.0 980.5,691.2 983.5,694.8 986.5,697.2 989.5,696.5 992.5,700.8 995.5,704.9 998.5,708.8 1001.5,712.9 1004.5,716.4 1007.5,717.6 1010.5,720.7 1013.5,721.5 1016.5,727.1 1019.5,725.2 1022.5,725.6 1025.5,726.1 1028.5,723.7 1031.5,722.0 1034.5,722.6 1037.5,722.3 1040.5,723.9 1043.5,721.8 1046.5,717.3 1049.5,717.3 1052.5,714.7 1055.5,709.4 1058.5,707.0 1061.5,696.2 1064.5,692.4 1067.5,685.6 1070.5,677.0 1073.5,670.8 1076.5,665.6 1079.5,657.9 1082.5,653.2 1085.5,649.8 1088.5,644.9 1091.5,643.3 1094.5,644.6 1097.5,640.2 1100.5,643.8 1103.5,655.2 1106.5,665.0 1109.5,681.4 1112.5,696.2 1115.5,708.7 1118.5,718.5 1121.5,726.9 1124.5,734.9 1127.5,738.2 1130.5,740.1 1133.5,742.1 1136.5,745.3 1139.5,744.5 1142.5,752.8 1145.5,748.5 1148.5,751.6 1151.5,750.3 1154.5,749.6 1157.5,752.8 1160.5,752.5 1163.5,752.7 1166.5,753.6 1169.5,751.6 1172.5,752.9 1175.5,752.9 1178.5,751.5 1181.5,751.6 1184.5,752.9 1187.5,752.4 1190.5,752.8 1193.5,749.2 1196.5,753.0 1199.5,753.6 1202.5,752.7 1205.5,753.1 1208.5,755.1 1211.5,751.9 1214.5,752.4 1217.5,749.8 1220.5,749.7 1223.5,750.4 1226.5,749.7 1229.5,751.5 1232.5,750.3 1235.5,751.6 1238.5,749.8 1241.5,749.5 1244.5,750.9 1247.5,750.1 1250.5,750.5 1253.5,750.3 1256.5,750.4 1259.5,752.1 1262.5,752.2 1265.5,750.9 1268.5,748.8 1271.5,751.2 1274.5,746.3 1277.5,745.2 1280.5,748.3 1283.5,747.6 1286.5,747.0 1289.5,746.9 1292.5,744.1 1295.5,744.4 1298.5,747.6 1301.5,746.9 1304.5,743.9 1307.5,747.5 1310.5,742.6 1313.5,743.0 1316.5,743.9 1319.5,741.2 1322.5,741.8 1325.5,741.9 1328.5,741.1 1331.5,742.5 1334.5,741.6 1337.5,738.6 1340.5,738.8 1343.5,739.6 1346.5,738.8 1349.5,737.3 1352.5,738.6 1355.5,738.8 1358.5,736.3 1361.5,738.0 1364.5,734.0 1367.5,733.7 1370.5,736.5 1373.5,734.1 1376.5,733.5 1379.5,734.3 1382.5,733.3 1385.5,734.4 1388.5,731.3 1391.5,732.5 1394.5,737.3 1397.5,732.3 1400.5,728.7 1403.5,731.9 1406.5,731.3 1409.5,731.9 1412.5,729.5 1415.5,727.7 1418.5,730.3 1421.5,728.7 1424.5,724.5 1427.5,727.8 1430.5,726.0 1433.5,727.6 1436.5,725.1 1439.5,726.5 1442.5,725.3 1445.5,725.7 1448.5,724.5 1451.5,723.6 1454.5,724.1 1457.5,724.7 1460.5,724.1 1463.5,725.5 1466.5,723.4 1469.5,723.3 1472.5,725.1 1475.5,721.6 1478.5,721.9 1481.5,719.7 1484.5,720.1 1487.5,722.0 1490.5,719.5 1493.5,720.6 1496.5,716.3 1499.5,715.2 1502.5,717.1 1505.5,714.0 1508.5,719.4 1511.5,716.6 1514.5,712.1 1517.5,713.0 1520.5,711.6 1523.5,712.3 1526.5,710.8 1529.5,711.5 1532.5,711.5 1535.5,708.1 1538.5,705.9 1541.5,707.8 1544.5,706.0 1547.5,707.2 1550.5,704.6 1553.5,705.5 1556.5,704.1 1559.5,702.7 1562.5,701.7 1565.5,702.8 1568.5,704.9 1571.5,701.7 1574.5,699.5 1577.5,700.1 1580.5,698.4 1583.5,695.5 1586.5,696.8 1589.5,697.6 1592.5,693.7 1595.5,691.4 1598.5,692.9 1601.5,694.2 1604.5,692.2 1607.5,691.8 1610.5,693.2 1613.5,691.6 1616.5,689.7 1619.5,687.6 1622.5,687.3 1625.5,686.0 1628.5,686.3 1631.5,682.6 1634.5,685.1 1637.5,681.8 1640.5,679.7 1643.5,680.4 1646.5,674.9 1649.5,675.7 1652.5,674.9 1655.5,676.1 1658.5,673.1 1661.5,674.9 1664.5,671.1 1667.5,671.6 1670.5,668.7 1673.5,670.5 1676.5,667.5 1679.5,667.7 1682.5,665.2 1685.5,663.2 1688.5,663.5 1691.5,664.5 1694.5,660.3 1697.5,658.7 1700.5,659.6 1703.5,660.5 1706.5,657.1 1709.5,657.4 1712.5,658.0 1715.5,656.8 1718.5,657.3 1721.5,658.3 1724.5,656.2 1727.5,655.7 1730.5,656.6 1733.5,655.0 1736.5,653.3 1739.5,652.8 1742.5,652.3 1745.5,656.5 1748.5,653.2 1751.5,653.8 1754.5,653.6 1757.5,650.7 1760.5,652.6 1763.5,650.3 1766.5,647.5 1769.5,649.7 1772.5,647.6 1775.5,647.9 1778.5,647.9 1781.5,649.8 1784.5,644.5 1787.5,643.5 1790.5,642.3 1793.5,639.8 1796.5,637.0 1799.5,633.4 1802.5,631.8 1805.5,631.7 1808.5,629.2 1811.5,628.9 1814.5,627.1 1817.5,629.8 1820.5,625.0 1823.5,629.5 1826.5,625.2 1829.5,624.1 1832.5,623.7 1835.5,626.7 1838.5,627.1 1841.5,624.4 1844.5,626.4 1847.5,625.8 1850.5,625.9 1853.5,626.7 1856.5,628.1 1859.5,624.7 1862.5,625.0 1865.5,629.4 1868.5,629.7 1871.5,631.3 1874.5,628.0 1877.5,629.3 1880.5,633.3 1883.5,629.2 1886.5,631.8 1889.5,630.2 1892.5,630.8 1895.5,629.2 1898.5,632.7 1901.5,627.6 1904.5,628.1 1907.5,627.9 1910.5,630.4 1913.5,628.5 1916.5,628.3 1919.5,626.5 1922.5,626.1 1925.5,625.6 1928.5,626.5 1931.5,623.9 1934.5,620.8 1937.5,624.3 1940.5,622.3 1943.5,620.0 1946.5,621.0 1949.5,619.4 1952.5,623.6 1955.5,619.5 1958.5,616.6 1961.5,619.6 1964.5,617.5 1967.5,620.2 1970.5,618.0 1973.5,614.6 1975.0,616.2"/>
<polyline stroke="#ff0000" stroke-width="8.5" points="431.5,1211.4 434.5,1210.5 437.5,1210.1 440.5,1208.9 443.5,1209.5 446.5,1209.3 449.5,1209.2 452.5,1208.8 455.5,1208.9 458.5,1208.5 461.5,1207.9 464.5,1208.8 467.5,1208.7 470.5,1208.9 473.5,1207.9 476.5,1207.5 479.5,1207.3 482.5,1206.6 485.5,1207.7 488.5,1206.5 491.5,1206.3 494.5,1206.7 497.5,1207.4 500.5,1206.6 503.5,1205.8 506.5,1205.8 509.5,1206.3 512.5,1205.8 515.5,1205.4 518.5,1205.5 521.5,1205.8 524.5,1206.3 527.5,1204.6 530.5,1204.7 533.5,1204.5 536.5,1203.5 539.5,1204.1 542.5,1203.9 545.5,1204.8 548.5,1204.0 551.5,1203.1 554.5,1204.0 557.5,1203.4 560.5,1202.5 563.5,1202.8 566.5,1202.6 569.5,1202.3 572.5,1202.5 575.5,1201.2 578.5,1201.9 581.5,1202.4 584.5,1202.0 587.5,1201.9 590.5,1201.7 593.5,1201.6 596.5,1200.1 599.5,1200.8 602.5,1199.2 605.5,1199.6 608.5,1198.7 611.5,1199.9 614.5,1199.8 617.5,1198.7 620.5,1199.4 623.5,1197.8 626.5,1197.9 629.5,1197.6 632.5,1196.6 635.5,1197.0 638.5,1197.4 641.5,1195.6 644.5,1196.2 647.5,1195.3 650.5,1196.0 653.5,1195.0 656.5,1194.7 659.5,1194.4 662.5,1193.9 665.5,1192.7 668.5,1193.8 671.5,1192.2 674.5,1192.7 677.5,1192.6 680.5,1191.7 683.5,1191.9 686.5,1192.2 689.5,1191.3 692.5,1190.7 695.5,1189.4 698.5,1190.2 701.5,1190.1 704.5,1190.0 707.5,1189.5 710.5,1189.9 713.5,1189.2 716.5,1189.2 719.5,1189.3 722.5,1188.3 725.5,1188.3 728.5,1189.2 731.5,1188.3 734.5,1186.9 737.5,1187.1 740.5,1187.1 743.5,1187.1 746.5,1186.1 749.5,1185.4 752.5,1184.9 755.5,1185.2 758.5,1184.6 761.5,1183.8 764.5,1183.6 767.5,1183.1 770.5,1183.3 773.5,1182.2 776.5,1182.5 779.5,1182.3 782.5,1181.8 785.5,1180.8 788.5,1181.6 791.5,1180.3 794.5,1180.5 797.5,1179.5 800.5,1178.6 803.5,1179.2 806.5,1178.7 809.5,1178.0 812.5,1177.6 815.5,1176.3 818.5,1175.5 821.5,1175.1 824.5,1175.6 827.5,1174.6 830.5,1173.5 833.5,1173.6 836.5,1172.7 839.5,1172.3 842.5,1172.6 845.5,1171.4 848.5,1170.3 851.5,1170.2 854.5,1170.1 857.5,1169.4 860.5,1169.3 863.5,1167.6 866.5,1167.6 869.5,1166.7 872.5,1165.7 875.5,1165.4 878.5,1164.5 881.5,1163.1 884.5,1163.4 887.5,1161.6 890.5,1161.6 893.5,1160.8 896.5,1160.3 899.5,1158.9 902.5,1158.3 905.5,1157.2 908.5,1156.4 911.5,1154.0 914.5,1152.7 917.5,1151.0 920.5,1149.0 923.5,1149.6 926.5,1147.0 929.5,1145.0 932.5,1145.1 935.5,1142.6 938.5,1141.8 941.5,1140.4 944.5,1138.0 947.5,1136.6 950.5,1135.4 953.5,1134.6 956.5,1132.8 959.5,1132.2 962.5,1132.3 965.5,1132.8 968.5,1132.8 971.5,1133.7 974.5,1133.5 977.5,1133.3 980.5,1133.9 983.5,1133.5 986.5,1134.7 989.5,1135.4 992.5,1136.8 995.5,1137.6 998.5,1137.5 1001.5,1137.7 1004.5,1137.5 1007.5,1138.4 1010.5,1138.8 1013.5,1139.0 1016.5,1138.5 1019.5,1139.9 1022.5,1139.4 1025.5,1138.6 1028.5,1138.1 1031.5,1137.9 1034.5,1137.7 1037.5,1137.2 1040.5,1137.0 1043.5,1136.7 1046.5,1136.3 1049.5,1135.5 1052.5,1134.0 1055.5,1133.2 1058.5,1131.4 1061.5,1129.5 1064.5,1128.5 1067.5,1125.0 1070.5,1123.6 1073.5,1119.3 1076.5,1116.5 1079.5,1114.7 1082.5,1112.5 1085.5,1111.1 1088.5,1109.5 1091.5,1108.3 1094.5,1108.0 1097.5,1107.8 1100.5,1109.3 1103.5,1109.2 1106.5,1111.2 1109.5,1111.8 1112.5,1116.7 1115.5,1120.3 1118.5,1123.5 1121.5,1126.5 1124.5,1126.9 1127.5,1126.9 1130.5,1127.7 1133.5,1129.2 1136.5,1128.1 1139.5,1128.1 1142.5,1127.7 1145.5,1127.8 1148.5,1126.8 1151.5,1127.0 1154.5,1127.9 1157.5,1126.8 1160.5,1126.2 1163.5,1125.9 1166.5,1125.7 1169.5,1124.4 1172.5,1124.5 1175.5,1123.3 1178.5,1122.3 1181.5,1122.5 1184.5,1120.0 1187.5,1120.4 1190.5,1120.4 1193.5,1119.3 1196.5,1119.3 1199.5,1118.6 1202.5,1118.1 1205.5,1119.3 1208.5,1117.8 1211.5,1117.0 1214.5,1117.3 1217.5,1116.0 1220.5,1116.1 1223.5,1115.4 1226.5,1115.6 1229.5,1113.7 1232.5,1114.3 1235.5,1113.5 1238.5,1112.4 1241.5,1113.1 1244.5,1111.7 1247.5,1112.5 1250.5,1111.5 1253.5,1111.2 1256.5,1110.5 1259.5,1110.5 1262.5,1108.7 1265.5,1109.2 1268.5,1108.4 1271.5,1108.4 1274.5,1107.8 1277.5,1107.6 1280.5,1106.4 1283.5,1107.2 1286.5,1106.9 1289.5,1105.1 1292.5,1104.6 1295.5,1104.2 1298.5,1104.0 1301.5,1103.7 1304.5,1101.6 1307.5,1101.2 1310.5,1100.4 1313.5,1099.7 1316.5,1098.8 1319.5,1099.2 1322.5,1097.8 1325.5,1098.4 1328.5,1097.5 1331.5,1095.8 1334.5,1095.2 1337.5,1094.7 1340.5,1095.0 1343.5,1093.2 1346.5,1092.2 1349.5,1092.2 1352.5,1091.7 1355.5,1090.5 1358.5,1091.0 1361.5,1089.6 1364.5,1089.1 1367.5,1087.8 1370.5,1087.5 1373.5,1086.8 1376.5,1085.1 1379.5,1085.7 1382.5,1084.0 1385.5,1084.2 1388.5,1082.8 1391.5,1083.8 1394.5,1082.3 1397.5,1081.9 1400.5,1081.2 1403.5,1079.3 1406.5,1078.1 1409.5,1078.3 1412.5,1078.2 1415.5,1077.0 1418.5,1076.6 1421.5,1075.9 1424.5,1073.9 1427.5,1074.0 1430.5,1074.1 1433.5,1072.1 1436.5,1070.6 1439.5,1070.9 1442.5,1070.1 1445.5,1069.9 1448.5,1068.6 1451.5,1068.5 1454.5,1066.8 1457.5,1067.8 1460.5,1067.6 1463.5,1066.9 1466.5,1064.9 1469.5,1065.2 1472.5,1063.0 1475.5,1064.0 1478.5,1063.1 1481.5,1062.0 1484.5,1061.9 1487.5,1061.1 1490.5,1060.7 1493.5,1059.5 1496.5,1058.7 1499.5,1056.8 1502.5,1056.4 1505.5,1055.8 1508.5,1055.4 1511.5,1054.3 1514.5,1054.2 1517.5,1052.1 1520.5,1051.5 1523.5,1050.9 1526.5,1049.7 1529.5,1049.1 1532.5,1047.6 1535.5,1047.6 1538.5,1045.7 1541.5,1045.4 1544.5,1043.8 1547.5,1043.6 1550.5,1041.1 1553.5,1041.1 1556.5,1039.7 1559.5,1039.0 1562.5,1038.6 1565.5,1036.5 1568.5,1035.6 1571.5,1034.8 1574.5,1034.6 1577.5,1032.6 1580.5,1032.7 1583.5,1031.2 1586.5,1030.3 1589.5,1029.8 1592.5,1029.2 1595.5,1027.7 1598.5,1026.8 1601.5,1026.1 1604.5,1025.0 1607.5,1022.8 1610.5,1022.9 1613.5,1022.1 1616.5,1021.6 1619.5,1021.0 1622.5,1019.3 1625.5,1017.9 1628.5,1016.2 1631.5,1015.7 1634.5,1014.9 1637.5,1014.0 1640.5,1011.8 1643.5,1011.3 1646.5,1010.5 1649.5,1009.9 1652.5,1008.1 1655.5,1006.7 1658.5,1005.6 1661.5,1004.8 1664.5,1003.7 1667.5,1003.4 1670.5,1002.6 1673.5,1001.4 1676.5,1000.6 1679.5,998.7 1682.5,998.0 1685.5,996.5 1688.5,995.5 1691.5,994.8 1694.5,993.0 1697.5,990.8 1700.5,990.4 1703.5,988.9 1706.5,987.3 1709.5,986.6 1712.5,986.3 1715.5,985.7 1718.5,983.6 1721.5,983.3 1724.5,982.4 1727.5,980.3 1730.5,979.8 1733.5,978.9 1736.5,978.0 1739.5,976.1 1742.5,975.7 1745.5,975.3 1748.5,974.4 1751.5,973.7 1754.5,971.6 1757.5,971.6 1760.5,969.9 1763.5,967.8 1766.5,967.7 1769.5,966.0 1772.5,965.3 1775.5,963.8 1778.5,963.2 1781.5,961.5 1784.5,960.0 1787.5,959.4 1790.5,957.8 1793.5,956.1 1796.5,955.7 1799.5,953.5 1802.5,952.0 1805.5,950.7 1808.5,948.8 1811.5,947.8 1814.5,947.5 1817.5,944.4 1820.5,943.1 1823.5,940.8 1826.5,939.3 1829.5,938.7 1832.5,937.0 1835.5,935.1 1838.5,934.5 1841.5,933.3 1844.5,932.7 1847.5,932.0 1850.5,931.4 1853.5,931.4 1856.5,930.9 1859.5,930.2 1862.5,929.2 1865.5,928.0 1868.5,928.0 1871.5,926.9 1874.5,927.2 1877.5,926.4 1880.5,925.7 1883.5,924.4 1886.5,922.9 1889.5,923.4 1892.5,922.7 1895.5,920.4 1898.5,920.2 1901.5,919.7 1904.5,917.5 1907.5,917.8 1910.5,915.5 1913.5,913.7 1916.5,913.5 1919.5,911.4 1922.5,909.3 1925.5,908.4 1928.5,905.4 1931.5,905.9 1934.5,903.1 1937.5,902.2 1940.5,900.4 1943.5,899.4 1946.5,898.2 1949.5,896.1 1952.5,895.6 1955.5,894.0 1958.5,892.7 1961.5,891.9 1964.5,890.5 1967.5,889.8 1970.5,890.1 1973.5,889.1 1975.0,889.6"/>
<path d="M1975,620 V575.5" stroke="#0000ff" stroke-width="6.4"/>
<path d="M1975,891 V837" stroke="#ff0000" stroke-width="6.4"/>
</g>
<text x="393" y="70.8" font-size="76" text-anchor="end">20,000</text>
<text x="393" y="401.8" font-size="76" text-anchor="end">16,000</text>
<text x="393" y="732.8" font-size="76" text-anchor="end">12,000</text>
<text x="393" y="1063.8" font-size="76" text-anchor="end">8,000</text>
<text x="489.2" y="1390" font-size="76" text-anchor="middle">500</text>
<text x="764.5" y="1390" font-size="76" text-anchor="middle">1000</text>
<text x="1039.7" y="1390" font-size="76" text-anchor="middle">1500</text>
<text x="1315.0" y="1390" font-size="76" text-anchor="middle">2000</text>
<text x="1590.2" y="1390" font-size="76" text-anchor="middle">2500</text>
<text x="1865.5" y="1390" font-size="76" text-anchor="middle">3000</text>
<text transform="translate(787.66,1555.3) scale(0.969,1)" font-size="109">Raman Shift (cm</text>
<text transform="translate(1583.60,1554) scale(0.969,1)" font-size="109">)</text>
<text transform="translate(1505.14,1511.7) scale(1.128,1)" font-size="74">−</text>
<text x="1546.47" y="1511.5" font-size="74">1</text>
<text transform="translate(98,947.4) rotate(-90) scale(0.969,1)" font-size="109">Intensity (a.u.)</text>
<text transform="translate(452.05,511.7) scale(0.97,1)" font-size="67">I4S0</text>
<text transform="translate(452.95,803) scale(0.97,1)" font-size="67">I10S0</text>
<text transform="translate(452.95,1157) scale(0.97,1)" font-size="67">I30S0</text>
<text transform="translate(934.59,262.4) scale(0.99,1)" font-size="67">D</text>
<text transform="translate(1068.25,234.3) scale(1.0,1)" font-size="67">G</text>
<text transform="translate(1791.40,419.8) scale(0.985,1)" font-size="67">2D</text>
</svg>
</body></html>
